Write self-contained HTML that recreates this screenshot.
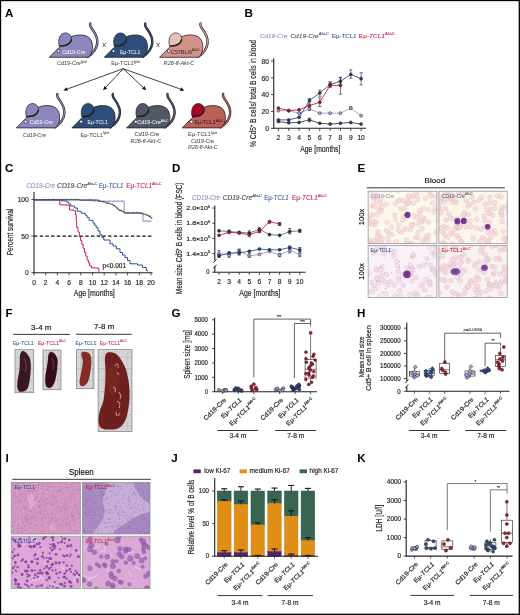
<!DOCTYPE html><html><head><meta charset="utf-8"><title>Figure</title><style>html,body{margin:0;padding:0;background:#fff;width:520px;height:615px;overflow:hidden}svg{will-change:transform}svg text{font-family:"Liberation Sans", sans-serif}</style></head><body><svg width="520" height="615" viewBox="0 0 520 615" style="font-family:'Liberation Sans', sans-serif;display:block"><defs><clipPath id="e0"><rect x="368.10" y="191.20" width="68.80" height="52.30"/></clipPath><clipPath id="e1"><rect x="438.90" y="191.20" width="68.30" height="52.30"/></clipPath><clipPath id="e2"><rect x="368.10" y="245.40" width="68.80" height="52.10"/></clipPath><clipPath id="e3"><rect x="438.90" y="245.40" width="68.30" height="52.10"/></clipPath><pattern id="grid" x="0" y="0" width="11.5" height="11.5" patternUnits="userSpaceOnUse"><rect width="11.5" height="11.5" fill="#e2e2e2"/><path d="M2.3,0 V11.5 M4.6,0 V11.5 M6.9,0 V11.5 M9.2,0 V11.5 M0,2.3 H11.5 M0,4.6 H11.5 M0,6.9 H11.5 M0,9.2 H11.5" stroke="#a8a8a8" stroke-width="0.32"/><path d="M0,0 H11.5 M0,0 V11.5" stroke="#7a7a7a" stroke-width="0.6"/></pattern><clipPath id="h0"><rect x="11.20" y="482.30" width="69.30" height="51.70"/></clipPath><clipPath id="h1"><rect x="82.30" y="482.30" width="67.70" height="51.70"/></clipPath><clipPath id="h2"><rect x="11.20" y="536.20" width="69.30" height="52.40"/></clipPath><clipPath id="h3"><rect x="82.30" y="536.20" width="67.70" height="52.40"/></clipPath></defs><rect x="0" y="0" width="520" height="615" fill="#fff"/><text transform="translate(5.00,16.50)" font-size="11.6" text-anchor="start" fill="#000" font-weight="bold" font-style="normal" >A</text>
<text transform="translate(244.60,17.00)" font-size="11.6" text-anchor="start" fill="#000" font-weight="bold" font-style="normal" >B</text>
<text transform="translate(5.00,172.30)" font-size="11.6" text-anchor="start" fill="#000" font-weight="bold" font-style="normal" >C</text>
<text transform="translate(172.00,172.20)" font-size="11.6" text-anchor="start" fill="#000" font-weight="bold" font-style="normal" >D</text>
<text transform="translate(357.40,172.20)" font-size="11.6" text-anchor="start" fill="#000" font-weight="bold" font-style="normal" >E</text>
<text transform="translate(5.60,316.80)" font-size="11.6" text-anchor="start" fill="#000" font-weight="bold" font-style="normal" >F</text>
<text transform="translate(171.50,316.80)" font-size="11.6" text-anchor="start" fill="#000" font-weight="bold" font-style="normal" >G</text>
<text transform="translate(357.00,316.80)" font-size="11.6" text-anchor="start" fill="#000" font-weight="bold" font-style="normal" >H</text>
<text transform="translate(5.60,461.80)" font-size="11.6" text-anchor="start" fill="#000" font-weight="bold" font-style="normal" >I</text>
<text transform="translate(171.30,461.90)" font-size="11.6" text-anchor="start" fill="#000" font-weight="bold" font-style="normal" >J</text>
<text transform="translate(357.20,461.90)" font-size="11.6" text-anchor="start" fill="#000" font-weight="bold" font-style="normal" >K</text>
<g transform="translate(49.3,57.3)"><path d="M38.5,-0.6 C43.5,-3.8 47.4,-8.5 48.0,-14.5 C48.4,-20 45.6,-24.5 43.0,-28.0 C41.2,-30.4 40.2,-32.0 41.0,-33.8" fill="none" stroke="#231f20" stroke-width="2.4" stroke-linecap="round"/><path d="M38.5,-0.6 C43.5,-3.8 47.4,-8.5 48.0,-14.5 C48.4,-20 45.6,-24.5 43.0,-28.0 C41.2,-30.4 40.2,-32.0 41.0,-33.8" fill="none" stroke="#8b86bb" stroke-width="1.25" stroke-linecap="round"/><path d="M0,0 L9.5,-9.6 L15,-15 L21.5,-20.3 C24.5,-21.8 28,-22.4 31.5,-22.3 C35.5,-22.2 38.5,-21 40.6,-18.8 C42.6,-16.5 43.3,-13 43.2,-9.5 C43.0,-5.5 41.5,-2.2 39.0,0 Z" fill="#8b86bb" stroke="#231f20" stroke-width="0.8" stroke-linejoin="round"/><path d="M10.0,-11.2 C8.4,-15.5 9.6,-24.2 16,-24.4 C20.6,-24.4 22.4,-20.5 22.0,-17.2 C21.4,-13 17.0,-11 10.0,-11.2 Z" fill="#8b86bb" stroke="#231f20" stroke-width="0.7"/><path d="M10.6,-11.4 C15.5,-11.2 20.6,-12.6 22.0,-17.6" fill="none" stroke="#231f20" stroke-width="1.4" stroke-linecap="round"/><circle cx="9.2" cy="-6.2" r="1.45" fill="#fff" stroke="#231f20" stroke-width="0.6"/><text x="13.0" y="-3.6" font-size="6.0" fill="#f2f0f8" stroke="#f2f0f8" stroke-width="0.06" textLength="23.1" lengthAdjust="spacingAndGlyphs">Cd19-Cre</text></g>
<g transform="translate(104.3,57.3)"><path d="M38.5,-0.6 C43.5,-3.8 47.4,-8.5 48.0,-14.5 C48.4,-20 45.6,-24.5 43.0,-28.0 C41.2,-30.4 40.2,-32.0 41.0,-33.8" fill="none" stroke="#231f20" stroke-width="2.4" stroke-linecap="round"/><path d="M38.5,-0.6 C43.5,-3.8 47.4,-8.5 48.0,-14.5 C48.4,-20 45.6,-24.5 43.0,-28.0 C41.2,-30.4 40.2,-32.0 41.0,-33.8" fill="none" stroke="#2e4c7c" stroke-width="1.25" stroke-linecap="round"/><path d="M0,0 L9.5,-9.6 L15,-15 L21.5,-20.3 C24.5,-21.8 28,-22.4 31.5,-22.3 C35.5,-22.2 38.5,-21 40.6,-18.8 C42.6,-16.5 43.3,-13 43.2,-9.5 C43.0,-5.5 41.5,-2.2 39.0,0 Z" fill="#2e4c7c" stroke="#231f20" stroke-width="0.8" stroke-linejoin="round"/><path d="M10.0,-11.2 C8.4,-15.5 9.6,-24.2 16,-24.4 C20.6,-24.4 22.4,-20.5 22.0,-17.2 C21.4,-13 17.0,-11 10.0,-11.2 Z" fill="#2e4c7c" stroke="#231f20" stroke-width="0.7"/><path d="M10.6,-11.4 C15.5,-11.2 20.6,-12.6 22.0,-17.6" fill="none" stroke="#231f20" stroke-width="1.4" stroke-linecap="round"/><circle cx="9.2" cy="-6.2" r="1.45" fill="#fff" stroke="#231f20" stroke-width="0.6"/><text x="15.7" y="-3.6" font-size="6.0" fill="#f2f0f8" stroke="#f2f0f8" stroke-width="0.06" textLength="20.2" lengthAdjust="spacingAndGlyphs">Eμ-TCL1</text></g>
<g transform="translate(159.6,57.3)"><path d="M38.5,-0.6 C43.5,-3.8 47.4,-8.5 48.0,-14.5 C48.4,-20 45.6,-24.5 43.0,-28.0 C41.2,-30.4 40.2,-32.0 41.0,-33.8" fill="none" stroke="#231f20" stroke-width="2.4" stroke-linecap="round"/><path d="M38.5,-0.6 C43.5,-3.8 47.4,-8.5 48.0,-14.5 C48.4,-20 45.6,-24.5 43.0,-28.0 C41.2,-30.4 40.2,-32.0 41.0,-33.8" fill="none" stroke="#d29488" stroke-width="1.25" stroke-linecap="round"/><path d="M0,0 L9.5,-9.6 L15,-15 L21.5,-20.3 C24.5,-21.8 28,-22.4 31.5,-22.3 C35.5,-22.2 38.5,-21 40.6,-18.8 C42.6,-16.5 43.3,-13 43.2,-9.5 C43.0,-5.5 41.5,-2.2 39.0,0 Z" fill="#d29488" stroke="#231f20" stroke-width="0.8" stroke-linejoin="round"/><path d="M10.0,-11.2 C8.4,-15.5 9.6,-24.2 16,-24.4 C20.6,-24.4 22.4,-20.5 22.0,-17.2 C21.4,-13 17.0,-11 10.0,-11.2 Z" fill="#e6c2b9" stroke="#231f20" stroke-width="0.7"/><path d="M10.6,-11.4 C15.5,-11.2 20.6,-12.6 22.0,-17.6" fill="none" stroke="#231f20" stroke-width="1.4" stroke-linecap="round"/><circle cx="9.2" cy="-6.2" r="1.45" fill="#fff" stroke="#231f20" stroke-width="0.6"/><text x="11.2" y="-3.6" font-size="6.0" fill="#3a3030" stroke="#3a3030" stroke-width="0.06" textLength="29.0" lengthAdjust="spacingAndGlyphs">C57BL/6<tspan font-size="3.4" dy="-2.4">Akt-C</tspan></text></g>
<g transform="translate(16.4,127.9)"><path d="M38.5,-0.6 C43.5,-3.8 47.4,-8.5 48.0,-14.5 C48.4,-20 45.6,-24.5 43.0,-28.0 C41.2,-30.4 40.2,-32.0 41.0,-33.8" fill="none" stroke="#231f20" stroke-width="2.4" stroke-linecap="round"/><path d="M38.5,-0.6 C43.5,-3.8 47.4,-8.5 48.0,-14.5 C48.4,-20 45.6,-24.5 43.0,-28.0 C41.2,-30.4 40.2,-32.0 41.0,-33.8" fill="none" stroke="#8b86bb" stroke-width="1.25" stroke-linecap="round"/><path d="M0,0 L9.5,-9.6 L15,-15 L21.5,-20.3 C24.5,-21.8 28,-22.4 31.5,-22.3 C35.5,-22.2 38.5,-21 40.6,-18.8 C42.6,-16.5 43.3,-13 43.2,-9.5 C43.0,-5.5 41.5,-2.2 39.0,0 Z" fill="#8b86bb" stroke="#231f20" stroke-width="0.8" stroke-linejoin="round"/><path d="M10.0,-11.2 C8.4,-15.5 9.6,-24.2 16,-24.4 C20.6,-24.4 22.4,-20.5 22.0,-17.2 C21.4,-13 17.0,-11 10.0,-11.2 Z" fill="#8b86bb" stroke="#231f20" stroke-width="0.7"/><path d="M10.6,-11.4 C15.5,-11.2 20.6,-12.6 22.0,-17.6" fill="none" stroke="#231f20" stroke-width="1.4" stroke-linecap="round"/><circle cx="9.2" cy="-6.2" r="1.45" fill="#fff" stroke="#231f20" stroke-width="0.6"/><text x="13.4" y="-3.6" font-size="6.0" fill="#f2f0f8" stroke="#f2f0f8" stroke-width="0.06" textLength="23.1" lengthAdjust="spacingAndGlyphs">Cd19-Cre</text></g>
<g transform="translate(71.9,127.9)"><path d="M38.5,-0.6 C43.5,-3.8 47.4,-8.5 48.0,-14.5 C48.4,-20 45.6,-24.5 43.0,-28.0 C41.2,-30.4 40.2,-32.0 41.0,-33.8" fill="none" stroke="#231f20" stroke-width="2.4" stroke-linecap="round"/><path d="M38.5,-0.6 C43.5,-3.8 47.4,-8.5 48.0,-14.5 C48.4,-20 45.6,-24.5 43.0,-28.0 C41.2,-30.4 40.2,-32.0 41.0,-33.8" fill="none" stroke="#2e4c7c" stroke-width="1.25" stroke-linecap="round"/><path d="M0,0 L9.5,-9.6 L15,-15 L21.5,-20.3 C24.5,-21.8 28,-22.4 31.5,-22.3 C35.5,-22.2 38.5,-21 40.6,-18.8 C42.6,-16.5 43.3,-13 43.2,-9.5 C43.0,-5.5 41.5,-2.2 39.0,0 Z" fill="#2e4c7c" stroke="#231f20" stroke-width="0.8" stroke-linejoin="round"/><path d="M10.0,-11.2 C8.4,-15.5 9.6,-24.2 16,-24.4 C20.6,-24.4 22.4,-20.5 22.0,-17.2 C21.4,-13 17.0,-11 10.0,-11.2 Z" fill="#2e4c7c" stroke="#231f20" stroke-width="0.7"/><path d="M10.6,-11.4 C15.5,-11.2 20.6,-12.6 22.0,-17.6" fill="none" stroke="#231f20" stroke-width="1.4" stroke-linecap="round"/><circle cx="9.2" cy="-6.2" r="1.45" fill="#fff" stroke="#231f20" stroke-width="0.6"/><text x="15.7" y="-3.6" font-size="6.0" fill="#f2f0f8" stroke="#f2f0f8" stroke-width="0.06" textLength="20.2" lengthAdjust="spacingAndGlyphs">Eμ-TCL1</text></g>
<g transform="translate(126.6,127.9)"><path d="M38.5,-0.6 C43.5,-3.8 47.4,-8.5 48.0,-14.5 C48.4,-20 45.6,-24.5 43.0,-28.0 C41.2,-30.4 40.2,-32.0 41.0,-33.8" fill="none" stroke="#231f20" stroke-width="2.4" stroke-linecap="round"/><path d="M38.5,-0.6 C43.5,-3.8 47.4,-8.5 48.0,-14.5 C48.4,-20 45.6,-24.5 43.0,-28.0 C41.2,-30.4 40.2,-32.0 41.0,-33.8" fill="none" stroke="#515868" stroke-width="1.25" stroke-linecap="round"/><path d="M0,0 L9.5,-9.6 L15,-15 L21.5,-20.3 C24.5,-21.8 28,-22.4 31.5,-22.3 C35.5,-22.2 38.5,-21 40.6,-18.8 C42.6,-16.5 43.3,-13 43.2,-9.5 C43.0,-5.5 41.5,-2.2 39.0,0 Z" fill="#515868" stroke="#231f20" stroke-width="0.8" stroke-linejoin="round"/><path d="M10.0,-11.2 C8.4,-15.5 9.6,-24.2 16,-24.4 C20.6,-24.4 22.4,-20.5 22.0,-17.2 C21.4,-13 17.0,-11 10.0,-11.2 Z" fill="#515868" stroke="#231f20" stroke-width="0.7"/><path d="M10.6,-11.4 C15.5,-11.2 20.6,-12.6 22.0,-17.6" fill="none" stroke="#231f20" stroke-width="1.4" stroke-linecap="round"/><circle cx="9.2" cy="-6.2" r="1.45" fill="#fff" stroke="#231f20" stroke-width="0.6"/><text x="10.7" y="-3.6" font-size="6.0" fill="#f2f0f8" stroke="#f2f0f8" stroke-width="0.06" textLength="31.2" lengthAdjust="spacingAndGlyphs">Cd19-Cre<tspan font-size="3.4" dy="-2.4">Akt-C</tspan></text></g>
<g transform="translate(182.2,127.9)"><path d="M38.5,-0.6 C43.5,-3.8 47.4,-8.5 48.0,-14.5 C48.4,-20 45.6,-24.5 43.0,-28.0 C41.2,-30.4 40.2,-32.0 41.0,-33.8" fill="none" stroke="#231f20" stroke-width="2.4" stroke-linecap="round"/><path d="M38.5,-0.6 C43.5,-3.8 47.4,-8.5 48.0,-14.5 C48.4,-20 45.6,-24.5 43.0,-28.0 C41.2,-30.4 40.2,-32.0 41.0,-33.8" fill="none" stroke="#bb6058" stroke-width="1.25" stroke-linecap="round"/><path d="M0,0 L9.5,-9.6 L15,-15 L21.5,-20.3 C24.5,-21.8 28,-22.4 31.5,-22.3 C35.5,-22.2 38.5,-21 40.6,-18.8 C42.6,-16.5 43.3,-13 43.2,-9.5 C43.0,-5.5 41.5,-2.2 39.0,0 Z" fill="#bb6058" stroke="#231f20" stroke-width="0.8" stroke-linejoin="round"/><path d="M10.0,-11.2 C8.4,-15.5 9.6,-24.2 16,-24.4 C20.6,-24.4 22.4,-20.5 22.0,-17.2 C21.4,-13 17.0,-11 10.0,-11.2 Z" fill="#a80428" stroke="#231f20" stroke-width="0.7"/><path d="M10.6,-11.4 C15.5,-11.2 20.6,-12.6 22.0,-17.6" fill="none" stroke="#231f20" stroke-width="1.4" stroke-linecap="round"/><circle cx="9.2" cy="-6.2" r="1.45" fill="#fff" stroke="#231f20" stroke-width="0.6"/><text x="12.2" y="-3.6" font-size="6.0" fill="#3a2020" stroke="#3a2020" stroke-width="0.06" textLength="28.9" lengthAdjust="spacingAndGlyphs">Eμ-TCL1<tspan font-size="3.4" dy="-2.4">Akt-C</tspan></text></g>
<text transform="translate(104.30,46.70)" font-size="7" text-anchor="middle" fill="#4a4a4a" font-weight="normal" font-style="normal" textLength="3.90" lengthAdjust="spacingAndGlyphs" stroke="#4a4a4a" stroke-width="0.05" >x</text>
<text transform="translate(158.00,46.70)" font-size="7" text-anchor="middle" fill="#4a4a4a" font-weight="normal" font-style="normal" textLength="3.90" lengthAdjust="spacingAndGlyphs" stroke="#4a4a4a" stroke-width="0.05" >x</text>
<text transform="translate(57.00,65.00)" font-size="5.6" text-anchor="start" fill="#4a4a4a" font-weight="normal" font-style="normal" textLength="30.00" lengthAdjust="spacingAndGlyphs" stroke="#4a4a4a" stroke-width="0.05" >Cd19-Cre<tspan font-size="3" dy="-2.4">fg/wt</tspan></text>
<text transform="translate(111.30,65.00)" font-size="5.6" text-anchor="start" fill="#4a4a4a" font-weight="normal" font-style="normal" textLength="28.70" lengthAdjust="spacingAndGlyphs" stroke="#4a4a4a" stroke-width="0.05" >Eμ-TCL1<tspan font-size="3" dy="-2.4">fg/wt</tspan></text>
<text transform="translate(179.00,65.00)" font-size="5.6" text-anchor="middle" fill="#4a4a4a" font-weight="normal" font-style="italic" stroke="#4a4a4a" stroke-width="0.05" >R26-fl-Akt-C</text>
<text transform="translate(23.10,136.60)" font-size="5.6" text-anchor="start" fill="#4a4a4a" font-weight="normal" font-style="italic" textLength="22.70" lengthAdjust="spacingAndGlyphs" stroke="#4a4a4a" stroke-width="0.05" >Cd19-Cre</text>
<text transform="translate(80.40,136.60)" font-size="5.6" text-anchor="start" fill="#4a4a4a" font-weight="normal" font-style="normal" textLength="28.80" lengthAdjust="spacingAndGlyphs" stroke="#4a4a4a" stroke-width="0.05" >Eμ-TCL1<tspan font-size="3" dy="-2.4">fg/wt</tspan></text>
<text transform="translate(134.40,136.20)" font-size="5.6" text-anchor="start" fill="#4a4a4a" font-weight="normal" font-style="italic" textLength="24.70" lengthAdjust="spacingAndGlyphs" stroke="#4a4a4a" stroke-width="0.05" >Cd19-Cre</text>
<text transform="translate(130.60,142.80)" font-size="5.6" text-anchor="start" fill="#4a4a4a" font-weight="normal" font-style="italic" textLength="30.70" lengthAdjust="spacingAndGlyphs" stroke="#4a4a4a" stroke-width="0.05" >R26-fl-Akt-C</text>
<text transform="translate(188.10,136.20)" font-size="5.6" text-anchor="start" fill="#4a4a4a" font-weight="normal" font-style="normal" textLength="29.20" lengthAdjust="spacingAndGlyphs" stroke="#4a4a4a" stroke-width="0.05" >Eμ-TCL1<tspan font-size="3" dy="-2.4">fg/wt</tspan></text>
<text transform="translate(190.90,142.80)" font-size="5.6" text-anchor="start" fill="#4a4a4a" font-weight="normal" font-style="italic" textLength="23.20" lengthAdjust="spacingAndGlyphs" stroke="#4a4a4a" stroke-width="0.05" >Cd19-Cre</text>
<text transform="translate(188.10,149.20)" font-size="5.6" text-anchor="start" fill="#4a4a4a" font-weight="normal" font-style="italic" textLength="29.60" lengthAdjust="spacingAndGlyphs" stroke="#4a4a4a" stroke-width="0.05" >R26-fl-Akt-C</text>
<line x1="123.20" y1="68.70" x2="67.25" y2="89.06" stroke="#111" stroke-width="0.8" />
<polygon points="63.30,90.50 66.60,87.28 67.90,90.85" fill="#111"/>
<line x1="123.20" y1="68.70" x2="105.87" y2="87.23" stroke="#111" stroke-width="0.8" />
<polygon points="103.00,90.30 104.48,85.93 107.26,88.53" fill="#111"/>
<line x1="123.20" y1="68.70" x2="143.23" y2="87.43" stroke="#111" stroke-width="0.8" />
<polygon points="146.30,90.30 141.93,88.82 144.53,86.04" fill="#111"/>
<line x1="123.20" y1="68.70" x2="180.44" y2="89.09" stroke="#111" stroke-width="0.8" />
<polygon points="184.40,90.50 179.81,90.88 181.08,87.30" fill="#111"/>
<line x1="273.75" y1="58.30" x2="273.75" y2="128.70" stroke="#231f20" stroke-width="1.1" />
<line x1="273.35" y1="128.30" x2="366.00" y2="128.30" stroke="#231f20" stroke-width="1.1" />
<line x1="271.00" y1="128.30" x2="273.75" y2="128.30" stroke="#231f20" stroke-width="0.8" />
<text transform="translate(269.00,131.00) scale(0.88,1)" font-size="7.6" text-anchor="end" fill="#231f20" font-weight="normal" font-style="normal" stroke="#231f20" stroke-width="0.18" >0</text>
<line x1="271.00" y1="111.47" x2="273.75" y2="111.47" stroke="#231f20" stroke-width="0.8" />
<text transform="translate(269.00,114.17) scale(0.88,1)" font-size="7.6" text-anchor="end" fill="#231f20" font-weight="normal" font-style="normal" stroke="#231f20" stroke-width="0.18" >20</text>
<line x1="271.00" y1="94.65" x2="273.75" y2="94.65" stroke="#231f20" stroke-width="0.8" />
<text transform="translate(269.00,97.35) scale(0.88,1)" font-size="7.6" text-anchor="end" fill="#231f20" font-weight="normal" font-style="normal" stroke="#231f20" stroke-width="0.18" >40</text>
<line x1="271.00" y1="77.82" x2="273.75" y2="77.82" stroke="#231f20" stroke-width="0.8" />
<text transform="translate(269.00,80.52) scale(0.88,1)" font-size="7.6" text-anchor="end" fill="#231f20" font-weight="normal" font-style="normal" stroke="#231f20" stroke-width="0.18" >60</text>
<line x1="271.00" y1="61.00" x2="273.75" y2="61.00" stroke="#231f20" stroke-width="0.8" />
<text transform="translate(269.00,63.70) scale(0.88,1)" font-size="7.6" text-anchor="end" fill="#231f20" font-weight="normal" font-style="normal" stroke="#231f20" stroke-width="0.18" >80</text>
<line x1="278.40" y1="128.30" x2="278.40" y2="131.00" stroke="#231f20" stroke-width="0.8" />
<text transform="translate(278.40,139.80) scale(0.88,1)" font-size="7.6" text-anchor="middle" fill="#231f20" font-weight="normal" font-style="normal" stroke="#231f20" stroke-width="0.18" >2</text>
<line x1="288.74" y1="128.30" x2="288.74" y2="131.00" stroke="#231f20" stroke-width="0.8" />
<text transform="translate(288.74,139.80) scale(0.88,1)" font-size="7.6" text-anchor="middle" fill="#231f20" font-weight="normal" font-style="normal" stroke="#231f20" stroke-width="0.18" >3</text>
<line x1="299.08" y1="128.30" x2="299.08" y2="131.00" stroke="#231f20" stroke-width="0.8" />
<text transform="translate(299.08,139.80) scale(0.88,1)" font-size="7.6" text-anchor="middle" fill="#231f20" font-weight="normal" font-style="normal" stroke="#231f20" stroke-width="0.18" >4</text>
<line x1="309.42" y1="128.30" x2="309.42" y2="131.00" stroke="#231f20" stroke-width="0.8" />
<text transform="translate(309.42,139.80) scale(0.88,1)" font-size="7.6" text-anchor="middle" fill="#231f20" font-weight="normal" font-style="normal" stroke="#231f20" stroke-width="0.18" >5</text>
<line x1="319.76" y1="128.30" x2="319.76" y2="131.00" stroke="#231f20" stroke-width="0.8" />
<text transform="translate(319.76,139.80) scale(0.88,1)" font-size="7.6" text-anchor="middle" fill="#231f20" font-weight="normal" font-style="normal" stroke="#231f20" stroke-width="0.18" >6</text>
<line x1="330.10" y1="128.30" x2="330.10" y2="131.00" stroke="#231f20" stroke-width="0.8" />
<text transform="translate(330.10,139.80) scale(0.88,1)" font-size="7.6" text-anchor="middle" fill="#231f20" font-weight="normal" font-style="normal" stroke="#231f20" stroke-width="0.18" >7</text>
<line x1="340.44" y1="128.30" x2="340.44" y2="131.00" stroke="#231f20" stroke-width="0.8" />
<text transform="translate(340.44,139.80) scale(0.88,1)" font-size="7.6" text-anchor="middle" fill="#231f20" font-weight="normal" font-style="normal" stroke="#231f20" stroke-width="0.18" >8</text>
<line x1="350.78" y1="128.30" x2="350.78" y2="131.00" stroke="#231f20" stroke-width="0.8" />
<text transform="translate(350.78,139.80) scale(0.88,1)" font-size="7.6" text-anchor="middle" fill="#231f20" font-weight="normal" font-style="normal" stroke="#231f20" stroke-width="0.18" >9</text>
<line x1="361.12" y1="128.30" x2="361.12" y2="131.00" stroke="#231f20" stroke-width="0.8" />
<text transform="translate(361.12,139.80) scale(0.88,1)" font-size="7.6" text-anchor="middle" fill="#231f20" font-weight="normal" font-style="normal" stroke="#231f20" stroke-width="0.18" >10</text>
<text transform="translate(320.30,151.50)" font-size="8.4" text-anchor="middle" fill="#231f20" font-weight="normal" font-style="normal" textLength="40.20" lengthAdjust="spacingAndGlyphs" stroke="#231f20" stroke-width="0.18" >Age [months]</text>
<text transform="translate(256.20,93.50) rotate(-90)" font-size="8.6" text-anchor="middle" fill="#231f20" font-weight="normal" font-style="normal" textLength="107.00" lengthAdjust="spacingAndGlyphs" stroke="#231f20" stroke-width="0.18" >% Cd5<tspan font-size="4.5" dy="-3">+</tspan><tspan dy="3"> B cells/ total B cells in blood</tspan></text>
<text transform="translate(259.90,37.50)" font-size="6.2" text-anchor="start" fill="#8f89c6" font-weight="normal" font-style="italic" textLength="27.40" lengthAdjust="spacingAndGlyphs" stroke="#8f89c6" stroke-width="0.08" >Cd19-Cre</text>
<text transform="translate(290.40,37.50)" font-size="6.2" text-anchor="start" fill="#4a4f5e" font-weight="normal" font-style="italic" textLength="38.40" lengthAdjust="spacingAndGlyphs" stroke="#4a4f5e" stroke-width="0.08" >Cd19-Cre<tspan font-size="3.8" dy="-2.6">Akt-C</tspan></text>
<text transform="translate(331.90,37.50)" font-size="6.2" text-anchor="start" fill="#2e5597" font-weight="normal" font-style="normal" textLength="24.60" lengthAdjust="spacingAndGlyphs" stroke="#2e5597" stroke-width="0.08" >Eμ-<tspan font-style="italic">TCL1</tspan></text>
<text transform="translate(358.80,37.50)" font-size="6.2" text-anchor="start" fill="#c31f3d" font-weight="normal" font-style="normal" textLength="36.20" lengthAdjust="spacingAndGlyphs" stroke="#c31f3d" stroke-width="0.08" >Eμ-<tspan font-style="italic">TCL1</tspan><tspan font-size="3.8" dy="-2.6">Akt-C</tspan></text>
<line x1="309.42" y1="121.99" x2="309.42" y2="118.20" stroke="#231f20" stroke-width="0.6" />
<line x1="307.82" y1="121.99" x2="311.02" y2="121.99" stroke="#231f20" stroke-width="0.6" />
<line x1="307.82" y1="118.20" x2="311.02" y2="118.20" stroke="#231f20" stroke-width="0.6" />
<polyline points="278.40,121.57 288.74,122.83 299.08,122.41 309.42,119.89 319.76,123.25 330.10,124.09 340.44,123.25 350.78,122.41 361.12,124.09" fill="none" stroke="#3b3f4c" stroke-width="0.9" stroke-linejoin="round" />
<circle cx="278.40" cy="121.57" r="1.5" fill="#3d4250" stroke="#231f20" stroke-width="0.55"/>
<circle cx="288.74" cy="122.83" r="1.5" fill="#3d4250" stroke="#231f20" stroke-width="0.55"/>
<circle cx="299.08" cy="122.41" r="1.5" fill="#3d4250" stroke="#231f20" stroke-width="0.55"/>
<circle cx="309.42" cy="119.89" r="1.5" fill="#3d4250" stroke="#231f20" stroke-width="0.55"/>
<circle cx="319.76" cy="123.25" r="1.5" fill="#3d4250" stroke="#231f20" stroke-width="0.55"/>
<circle cx="330.10" cy="124.09" r="1.5" fill="#3d4250" stroke="#231f20" stroke-width="0.55"/>
<circle cx="340.44" cy="123.25" r="1.5" fill="#3d4250" stroke="#231f20" stroke-width="0.55"/>
<circle cx="350.78" cy="122.41" r="1.5" fill="#3d4250" stroke="#231f20" stroke-width="0.55"/>
<circle cx="361.12" cy="124.09" r="1.5" fill="#3d4250" stroke="#231f20" stroke-width="0.55"/>
<line x1="309.42" y1="110.63" x2="309.42" y2="107.27" stroke="#231f20" stroke-width="0.6" />
<line x1="307.82" y1="110.63" x2="311.02" y2="110.63" stroke="#231f20" stroke-width="0.6" />
<line x1="307.82" y1="107.27" x2="311.02" y2="107.27" stroke="#231f20" stroke-width="0.6" />
<line x1="350.78" y1="109.37" x2="350.78" y2="106.85" stroke="#231f20" stroke-width="0.6" />
<line x1="349.18" y1="109.37" x2="352.38" y2="109.37" stroke="#231f20" stroke-width="0.6" />
<line x1="349.18" y1="106.85" x2="352.38" y2="106.85" stroke="#231f20" stroke-width="0.6" />
<polyline points="278.40,110.63 288.74,110.63 299.08,113.16 309.42,108.95 319.76,113.16 330.10,113.16 340.44,113.16 350.78,108.11 361.12,115.68" fill="none" stroke="#9f99d0" stroke-width="0.9" stroke-linejoin="round" />
<circle cx="278.40" cy="110.63" r="1.5" fill="#b8b2e2" stroke="#231f20" stroke-width="0.55"/>
<circle cx="288.74" cy="110.63" r="1.5" fill="#b8b2e2" stroke="#231f20" stroke-width="0.55"/>
<circle cx="299.08" cy="113.16" r="1.5" fill="#b8b2e2" stroke="#231f20" stroke-width="0.55"/>
<circle cx="309.42" cy="108.95" r="1.5" fill="#b8b2e2" stroke="#231f20" stroke-width="0.55"/>
<circle cx="319.76" cy="113.16" r="1.5" fill="#b8b2e2" stroke="#231f20" stroke-width="0.55"/>
<circle cx="330.10" cy="113.16" r="1.5" fill="#b8b2e2" stroke="#231f20" stroke-width="0.55"/>
<circle cx="340.44" cy="113.16" r="1.5" fill="#b8b2e2" stroke="#231f20" stroke-width="0.55"/>
<circle cx="350.78" cy="108.11" r="1.5" fill="#b8b2e2" stroke="#231f20" stroke-width="0.55"/>
<circle cx="361.12" cy="115.68" r="1.5" fill="#b8b2e2" stroke="#231f20" stroke-width="0.55"/>
<line x1="309.42" y1="103.06" x2="309.42" y2="98.43" stroke="#231f20" stroke-width="0.6" />
<line x1="307.82" y1="103.06" x2="311.02" y2="103.06" stroke="#231f20" stroke-width="0.6" />
<line x1="307.82" y1="98.43" x2="311.02" y2="98.43" stroke="#231f20" stroke-width="0.6" />
<line x1="319.76" y1="96.33" x2="319.76" y2="90.02" stroke="#231f20" stroke-width="0.6" />
<line x1="318.16" y1="96.33" x2="321.36" y2="96.33" stroke="#231f20" stroke-width="0.6" />
<line x1="318.16" y1="90.02" x2="321.36" y2="90.02" stroke="#231f20" stroke-width="0.6" />
<line x1="330.10" y1="87.08" x2="330.10" y2="81.61" stroke="#231f20" stroke-width="0.6" />
<line x1="328.50" y1="87.08" x2="331.70" y2="87.08" stroke="#231f20" stroke-width="0.6" />
<line x1="328.50" y1="81.61" x2="331.70" y2="81.61" stroke="#231f20" stroke-width="0.6" />
<line x1="340.44" y1="84.13" x2="340.44" y2="77.40" stroke="#231f20" stroke-width="0.6" />
<line x1="338.84" y1="84.13" x2="342.04" y2="84.13" stroke="#231f20" stroke-width="0.6" />
<line x1="338.84" y1="77.40" x2="342.04" y2="77.40" stroke="#231f20" stroke-width="0.6" />
<line x1="350.78" y1="78.24" x2="350.78" y2="69.83" stroke="#231f20" stroke-width="0.6" />
<line x1="349.18" y1="78.24" x2="352.38" y2="78.24" stroke="#231f20" stroke-width="0.6" />
<line x1="349.18" y1="69.83" x2="352.38" y2="69.83" stroke="#231f20" stroke-width="0.6" />
<line x1="361.12" y1="84.97" x2="361.12" y2="72.77" stroke="#231f20" stroke-width="0.6" />
<line x1="359.52" y1="84.97" x2="362.72" y2="84.97" stroke="#231f20" stroke-width="0.6" />
<line x1="359.52" y1="72.77" x2="362.72" y2="72.77" stroke="#231f20" stroke-width="0.6" />
<polyline points="278.40,119.89 288.74,119.89 299.08,117.36 309.42,100.54 319.76,92.97 330.10,84.55 340.44,81.19 350.78,74.46 361.12,78.66" fill="none" stroke="#2e5597" stroke-width="0.9" stroke-linejoin="round" />
<circle cx="278.40" cy="119.89" r="1.5" fill="#243f73" stroke="#231f20" stroke-width="0.55"/>
<circle cx="288.74" cy="119.89" r="1.5" fill="#243f73" stroke="#231f20" stroke-width="0.55"/>
<circle cx="299.08" cy="117.36" r="1.5" fill="#243f73" stroke="#231f20" stroke-width="0.55"/>
<circle cx="309.42" cy="100.54" r="1.5" fill="#243f73" stroke="#231f20" stroke-width="0.55"/>
<circle cx="319.76" cy="92.97" r="1.5" fill="#243f73" stroke="#231f20" stroke-width="0.55"/>
<circle cx="330.10" cy="84.55" r="1.5" fill="#243f73" stroke="#231f20" stroke-width="0.55"/>
<circle cx="340.44" cy="81.19" r="1.5" fill="#243f73" stroke="#231f20" stroke-width="0.55"/>
<circle cx="350.78" cy="74.46" r="1.5" fill="#243f73" stroke="#231f20" stroke-width="0.55"/>
<circle cx="361.12" cy="78.66" r="1.5" fill="#243f73" stroke="#231f20" stroke-width="0.55"/>
<line x1="319.76" y1="106.43" x2="319.76" y2="98.01" stroke="#231f20" stroke-width="0.6" />
<line x1="318.16" y1="106.43" x2="321.36" y2="106.43" stroke="#231f20" stroke-width="0.6" />
<line x1="318.16" y1="98.01" x2="321.36" y2="98.01" stroke="#231f20" stroke-width="0.6" />
<line x1="330.10" y1="87.08" x2="330.10" y2="82.87" stroke="#231f20" stroke-width="0.6" />
<line x1="328.50" y1="87.08" x2="331.70" y2="87.08" stroke="#231f20" stroke-width="0.6" />
<line x1="328.50" y1="82.87" x2="331.70" y2="82.87" stroke="#231f20" stroke-width="0.6" />
<line x1="340.44" y1="94.23" x2="340.44" y2="77.82" stroke="#231f20" stroke-width="0.6" />
<line x1="338.84" y1="94.23" x2="342.04" y2="94.23" stroke="#231f20" stroke-width="0.6" />
<line x1="338.84" y1="77.82" x2="342.04" y2="77.82" stroke="#231f20" stroke-width="0.6" />
<polyline points="278.40,108.11 288.74,110.63 299.08,109.79 309.42,105.58 319.76,102.22 330.10,85.39 340.44,85.39" fill="none" stroke="#c31f3d" stroke-width="0.9" stroke-linejoin="round" />
<circle cx="278.40" cy="108.11" r="1.5" fill="#b8132f" stroke="#231f20" stroke-width="0.55"/>
<circle cx="288.74" cy="110.63" r="1.5" fill="#b8132f" stroke="#231f20" stroke-width="0.55"/>
<circle cx="299.08" cy="109.79" r="1.5" fill="#b8132f" stroke="#231f20" stroke-width="0.55"/>
<circle cx="309.42" cy="105.58" r="1.5" fill="#b8132f" stroke="#231f20" stroke-width="0.55"/>
<circle cx="319.76" cy="102.22" r="1.5" fill="#b8132f" stroke="#231f20" stroke-width="0.55"/>
<circle cx="330.10" cy="85.39" r="1.5" fill="#b8132f" stroke="#231f20" stroke-width="0.55"/>
<circle cx="340.44" cy="85.39" r="1.5" fill="#b8132f" stroke="#231f20" stroke-width="0.55"/>
<line x1="34.00" y1="192.00" x2="34.00" y2="273.10" stroke="#231f20" stroke-width="1.1" />
<line x1="33.60" y1="272.70" x2="152.50" y2="272.70" stroke="#231f20" stroke-width="1.1" />
<line x1="31.30" y1="272.70" x2="34.00" y2="272.70" stroke="#231f20" stroke-width="0.8" />
<text transform="translate(28.80,275.40) scale(0.88,1)" font-size="7.6" text-anchor="end" fill="#231f20" font-weight="normal" font-style="normal" stroke="#231f20" stroke-width="0.18" >0</text>
<line x1="31.30" y1="236.05" x2="34.00" y2="236.05" stroke="#231f20" stroke-width="0.8" />
<text transform="translate(28.80,238.75) scale(0.88,1)" font-size="7.6" text-anchor="end" fill="#231f20" font-weight="normal" font-style="normal" stroke="#231f20" stroke-width="0.18" >50</text>
<line x1="31.30" y1="199.40" x2="34.00" y2="199.40" stroke="#231f20" stroke-width="0.8" />
<text transform="translate(28.80,202.10) scale(0.88,1)" font-size="7.6" text-anchor="end" fill="#231f20" font-weight="normal" font-style="normal" stroke="#231f20" stroke-width="0.18" >100</text>
<line x1="34.00" y1="272.70" x2="34.00" y2="275.40" stroke="#231f20" stroke-width="0.8" />
<text transform="translate(34.00,284.80) scale(0.88,1)" font-size="7.6" text-anchor="middle" fill="#231f20" font-weight="normal" font-style="normal" stroke="#231f20" stroke-width="0.18" >0</text>
<line x1="45.70" y1="272.70" x2="45.70" y2="275.40" stroke="#231f20" stroke-width="0.8" />
<text transform="translate(45.70,284.80) scale(0.88,1)" font-size="7.6" text-anchor="middle" fill="#231f20" font-weight="normal" font-style="normal" stroke="#231f20" stroke-width="0.18" >2</text>
<line x1="57.40" y1="272.70" x2="57.40" y2="275.40" stroke="#231f20" stroke-width="0.8" />
<text transform="translate(57.40,284.80) scale(0.88,1)" font-size="7.6" text-anchor="middle" fill="#231f20" font-weight="normal" font-style="normal" stroke="#231f20" stroke-width="0.18" >4</text>
<line x1="69.10" y1="272.70" x2="69.10" y2="275.40" stroke="#231f20" stroke-width="0.8" />
<text transform="translate(69.10,284.80) scale(0.88,1)" font-size="7.6" text-anchor="middle" fill="#231f20" font-weight="normal" font-style="normal" stroke="#231f20" stroke-width="0.18" >6</text>
<line x1="80.80" y1="272.70" x2="80.80" y2="275.40" stroke="#231f20" stroke-width="0.8" />
<text transform="translate(80.80,284.80) scale(0.88,1)" font-size="7.6" text-anchor="middle" fill="#231f20" font-weight="normal" font-style="normal" stroke="#231f20" stroke-width="0.18" >8</text>
<line x1="92.50" y1="272.70" x2="92.50" y2="275.40" stroke="#231f20" stroke-width="0.8" />
<text transform="translate(92.50,284.80) scale(0.88,1)" font-size="7.6" text-anchor="middle" fill="#231f20" font-weight="normal" font-style="normal" stroke="#231f20" stroke-width="0.18" >10</text>
<line x1="104.20" y1="272.70" x2="104.20" y2="275.40" stroke="#231f20" stroke-width="0.8" />
<text transform="translate(104.20,284.80) scale(0.88,1)" font-size="7.6" text-anchor="middle" fill="#231f20" font-weight="normal" font-style="normal" stroke="#231f20" stroke-width="0.18" >12</text>
<line x1="115.90" y1="272.70" x2="115.90" y2="275.40" stroke="#231f20" stroke-width="0.8" />
<text transform="translate(115.90,284.80) scale(0.88,1)" font-size="7.6" text-anchor="middle" fill="#231f20" font-weight="normal" font-style="normal" stroke="#231f20" stroke-width="0.18" >14</text>
<line x1="127.60" y1="272.70" x2="127.60" y2="275.40" stroke="#231f20" stroke-width="0.8" />
<text transform="translate(127.60,284.80) scale(0.88,1)" font-size="7.6" text-anchor="middle" fill="#231f20" font-weight="normal" font-style="normal" stroke="#231f20" stroke-width="0.18" >16</text>
<line x1="139.30" y1="272.70" x2="139.30" y2="275.40" stroke="#231f20" stroke-width="0.8" />
<text transform="translate(139.30,284.80) scale(0.88,1)" font-size="7.6" text-anchor="middle" fill="#231f20" font-weight="normal" font-style="normal" stroke="#231f20" stroke-width="0.18" >18</text>
<line x1="151.00" y1="272.70" x2="151.00" y2="275.40" stroke="#231f20" stroke-width="0.8" />
<text transform="translate(151.00,284.80) scale(0.88,1)" font-size="7.6" text-anchor="middle" fill="#231f20" font-weight="normal" font-style="normal" stroke="#231f20" stroke-width="0.18" >20</text>
<text transform="translate(94.30,295.60)" font-size="8.4" text-anchor="middle" fill="#231f20" font-weight="normal" font-style="normal" textLength="41.00" lengthAdjust="spacingAndGlyphs" stroke="#231f20" stroke-width="0.18" >Age [months]</text>
<text transform="translate(12.60,232.00) rotate(-90)" font-size="8.6" text-anchor="middle" fill="#231f20" font-weight="normal" font-style="normal" textLength="46.50" lengthAdjust="spacingAndGlyphs" stroke="#231f20" stroke-width="0.18" >Percent survival</text>
<line x1="34.00" y1="236.20" x2="151.50" y2="236.20" stroke="#111" stroke-width="1.2" stroke-dasharray="3.4,2.3"/>
<text transform="translate(102.50,268.20)" font-size="6.6" text-anchor="start" fill="#231f20" font-weight="normal" font-style="normal" textLength="23.50" lengthAdjust="spacingAndGlyphs" stroke="#231f20" stroke-width="0.18" >p&lt;0.001</text>
<text transform="translate(26.20,187.60)" font-size="6.4" text-anchor="start" fill="#8f89c6" font-weight="normal" font-style="italic" textLength="28.80" lengthAdjust="spacingAndGlyphs" stroke="#8f89c6" stroke-width="0.08" >CD19-Cre</text>
<text transform="translate(57.10,187.60)" font-size="6.4" text-anchor="start" fill="#3a3e4a" font-weight="normal" font-style="italic" textLength="40.20" lengthAdjust="spacingAndGlyphs" stroke="#3a3e4a" stroke-width="0.08" >CD19-Cre<tspan font-size="3.8" dy="-2.6">Akt-C</tspan></text>
<text transform="translate(99.00,187.60)" font-size="6.4" text-anchor="start" fill="#2e5597" font-weight="normal" font-style="normal" textLength="24.50" lengthAdjust="spacingAndGlyphs" stroke="#2e5597" stroke-width="0.08" >Eμ-<tspan font-style="italic">TCL1</tspan></text>
<text transform="translate(126.20,187.60)" font-size="6.4" text-anchor="start" fill="#c31f3d" font-weight="normal" font-style="normal" textLength="35.40" lengthAdjust="spacingAndGlyphs" stroke="#c31f3d" stroke-width="0.08" >Eμ-<tspan font-style="italic">TCL1</tspan><tspan font-size="3.8" dy="-2.6">Akt-C</tspan></text>
<polyline points="34.00,199.60 98.00,199.60 98.00,201.20 124.20,201.20 124.20,213.40 143.00,213.40 143.00,221.20 151.80,221.20" fill="none" stroke="#8078c4" stroke-width="0.85" stroke-linejoin="round" />
<polyline points="34.00,199.90 70.00,199.90 70.00,199.90 80.00,199.90 80.00,200.30 92.00,200.30 92.00,200.80 100.00,200.80 100.00,201.40 103.00,201.40 103.00,202.20 106.00,202.20 106.00,203.20 110.00,203.20 110.00,204.20 113.00,204.20 113.00,205.50 115.00,205.50 115.00,207.00 117.00,207.00 117.00,209.00 119.00,209.00 119.00,210.60 122.00,210.60 122.00,211.80 125.00,211.80 125.00,212.80 140.00,212.80 140.00,213.20 143.00,213.20 143.00,214.20 146.00,214.20 146.00,215.20 148.50,215.20 148.50,216.40 150.50,216.40 150.50,217.60 151.80,217.60 151.80,218.80" fill="none" stroke="#2a2a2a" stroke-width="0.8" stroke-linejoin="round" />
<line x1="44.00" y1="198.60" x2="44.00" y2="200.20" stroke="#2a2a2a" stroke-width="0.5" />
<line x1="49.00" y1="198.60" x2="49.00" y2="200.20" stroke="#2a2a2a" stroke-width="0.5" />
<line x1="53.00" y1="198.60" x2="53.00" y2="200.20" stroke="#2a2a2a" stroke-width="0.5" />
<line x1="57.00" y1="198.60" x2="57.00" y2="200.20" stroke="#2a2a2a" stroke-width="0.5" />
<line x1="61.00" y1="198.60" x2="61.00" y2="200.20" stroke="#2a2a2a" stroke-width="0.5" />
<line x1="64.00" y1="198.60" x2="64.00" y2="200.20" stroke="#2a2a2a" stroke-width="0.5" />
<line x1="67.00" y1="198.60" x2="67.00" y2="200.20" stroke="#2a2a2a" stroke-width="0.5" />
<line x1="71.00" y1="198.60" x2="71.00" y2="200.20" stroke="#2a2a2a" stroke-width="0.5" />
<line x1="75.00" y1="198.60" x2="75.00" y2="200.20" stroke="#2a2a2a" stroke-width="0.5" />
<line x1="78.00" y1="198.60" x2="78.00" y2="200.20" stroke="#2a2a2a" stroke-width="0.5" />
<line x1="84.00" y1="199.00" x2="84.00" y2="200.60" stroke="#2a2a2a" stroke-width="0.5" />
<line x1="88.00" y1="199.00" x2="88.00" y2="200.60" stroke="#2a2a2a" stroke-width="0.5" />
<line x1="91.00" y1="199.00" x2="91.00" y2="200.60" stroke="#2a2a2a" stroke-width="0.5" />
<line x1="95.00" y1="199.50" x2="95.00" y2="201.10" stroke="#2a2a2a" stroke-width="0.5" />
<line x1="99.00" y1="199.50" x2="99.00" y2="201.10" stroke="#2a2a2a" stroke-width="0.5" />
<line x1="108.00" y1="201.90" x2="108.00" y2="203.50" stroke="#2a2a2a" stroke-width="0.5" />
<line x1="121.00" y1="209.30" x2="121.00" y2="210.90" stroke="#2a2a2a" stroke-width="0.5" />
<line x1="128.00" y1="211.50" x2="128.00" y2="213.10" stroke="#2a2a2a" stroke-width="0.5" />
<line x1="133.00" y1="211.50" x2="133.00" y2="213.10" stroke="#2a2a2a" stroke-width="0.5" />
<line x1="137.00" y1="211.50" x2="137.00" y2="213.10" stroke="#2a2a2a" stroke-width="0.5" />
<line x1="141.00" y1="211.90" x2="141.00" y2="213.50" stroke="#2a2a2a" stroke-width="0.5" />
<line x1="147.00" y1="213.90" x2="147.00" y2="215.50" stroke="#2a2a2a" stroke-width="0.5" />
<line x1="150.00" y1="215.10" x2="150.00" y2="216.70" stroke="#2a2a2a" stroke-width="0.5" />
<line x1="104.00" y1="199.90" x2="104.00" y2="201.50" stroke="#8078c4" stroke-width="0.5" />
<line x1="109.00" y1="199.90" x2="109.00" y2="201.50" stroke="#8078c4" stroke-width="0.5" />
<line x1="114.00" y1="199.90" x2="114.00" y2="201.50" stroke="#8078c4" stroke-width="0.5" />
<line x1="118.00" y1="199.90" x2="118.00" y2="201.50" stroke="#8078c4" stroke-width="0.5" />
<line x1="122.00" y1="199.90" x2="122.00" y2="201.50" stroke="#8078c4" stroke-width="0.5" />
<line x1="128.00" y1="212.10" x2="128.00" y2="213.70" stroke="#8078c4" stroke-width="0.5" />
<line x1="134.00" y1="212.10" x2="134.00" y2="213.70" stroke="#8078c4" stroke-width="0.5" />
<line x1="139.00" y1="212.10" x2="139.00" y2="213.70" stroke="#8078c4" stroke-width="0.5" />
<line x1="146.00" y1="219.90" x2="146.00" y2="221.50" stroke="#8078c4" stroke-width="0.5" />
<line x1="149.00" y1="219.90" x2="149.00" y2="221.50" stroke="#8078c4" stroke-width="0.5" />
<polyline points="34.00,199.90 58.90,199.90 58.90,199.90 59.80,199.90 59.80,204.80 66.90,204.80 66.90,205.20 69.50,205.20 69.50,210.00 74.10,210.00 74.10,210.60 75.40,210.60 75.40,214.50 76.20,214.50 76.20,221.00 76.70,221.00 76.70,227.50 78.00,227.50 78.00,232.00 79.30,232.00 79.30,236.70 80.60,236.70 80.60,240.60 81.90,240.60 81.90,244.50 83.20,244.50 83.20,248.40 84.50,248.40 84.50,252.30 85.80,252.30 85.80,256.20 87.10,256.20 87.10,260.10 88.40,260.10 88.40,263.00 89.70,263.00 89.70,266.00 91.70,266.00 91.70,267.90 97.50,267.90 97.50,268.60 98.80,268.60 98.80,271.80" fill="none" stroke="#c8203c" stroke-width="1.0" stroke-linejoin="round" />
<polyline points="34.00,199.90 59.80,199.90 59.80,200.00 61.70,200.00 61.70,200.90 66.90,200.90 66.90,202.20 68.80,202.20 68.80,204.00 70.80,204.00 70.80,206.00 74.70,206.00 74.70,208.00 77.30,208.00 77.30,211.30 81.30,211.30 81.30,213.20 85.20,213.20 85.20,215.20 87.00,215.20 87.00,217.50 89.10,217.50 89.10,220.40 93.00,220.40 93.00,223.00 94.60,223.00 94.60,225.30 96.20,225.30 96.20,227.60 98.00,227.60 98.00,231.00 100.00,231.00 100.00,234.80 102.00,234.80 102.00,237.50 103.80,237.50 103.80,240.00 110.00,240.00 110.00,243.80 113.00,243.80 113.00,246.00 116.30,246.00 116.30,248.80 120.00,248.80 120.00,252.50 122.50,252.50 122.50,255.00 125.00,255.00 125.00,257.50 127.50,257.50 127.50,260.50 130.00,260.50 130.00,263.80 137.50,263.80 137.50,265.00 142.50,265.00 142.50,267.50 146.30,267.50 146.30,270.50 147.50,270.50 147.50,271.30" fill="none" stroke="#2d5192" stroke-width="1.0" stroke-linejoin="round" />
<line x1="214.80" y1="205.40" x2="214.80" y2="260.60" stroke="#231f20" stroke-width="1.1" />
<line x1="214.80" y1="266.00" x2="214.80" y2="272.60" stroke="#231f20" stroke-width="1.1" />
<line x1="213.20" y1="262.90" x2="216.60" y2="259.20" stroke="#231f20" stroke-width="0.9" />
<line x1="213.20" y1="268.40" x2="216.60" y2="264.70" stroke="#231f20" stroke-width="0.9" />
<line x1="214.40" y1="272.20" x2="305.50" y2="272.20" stroke="#231f20" stroke-width="1.1" />
<line x1="212.20" y1="208.00" x2="214.80" y2="208.00" stroke="#231f20" stroke-width="0.8" />
<text transform="translate(210.10,210.20)" font-size="6.0" text-anchor="end" fill="#231f20" font-weight="normal" font-style="normal" textLength="23.80" lengthAdjust="spacingAndGlyphs" stroke="#231f20" stroke-width="0.18" >2.0×10<tspan font-size="3.4" dy="-2.4">5</tspan></text>
<line x1="212.20" y1="223.20" x2="214.80" y2="223.20" stroke="#231f20" stroke-width="0.8" />
<text transform="translate(210.10,225.40)" font-size="6.0" text-anchor="end" fill="#231f20" font-weight="normal" font-style="normal" textLength="23.80" lengthAdjust="spacingAndGlyphs" stroke="#231f20" stroke-width="0.18" >1.8×10<tspan font-size="3.4" dy="-2.4">5</tspan></text>
<line x1="212.20" y1="238.40" x2="214.80" y2="238.40" stroke="#231f20" stroke-width="0.8" />
<text transform="translate(210.10,240.60)" font-size="6.0" text-anchor="end" fill="#231f20" font-weight="normal" font-style="normal" textLength="23.80" lengthAdjust="spacingAndGlyphs" stroke="#231f20" stroke-width="0.18" >1.6×10<tspan font-size="3.4" dy="-2.4">5</tspan></text>
<line x1="212.20" y1="253.60" x2="214.80" y2="253.60" stroke="#231f20" stroke-width="0.8" />
<text transform="translate(210.10,255.80)" font-size="6.0" text-anchor="end" fill="#231f20" font-weight="normal" font-style="normal" textLength="23.80" lengthAdjust="spacingAndGlyphs" stroke="#231f20" stroke-width="0.18" >1.4×10<tspan font-size="3.4" dy="-2.4">5</tspan></text>
<line x1="212.20" y1="272.20" x2="214.80" y2="272.20" stroke="#231f20" stroke-width="0.8" />
<text transform="translate(209.40,274.40) scale(0.9,1)" font-size="6.4" text-anchor="end" fill="#231f20" font-weight="normal" font-style="normal" stroke="#231f20" stroke-width="0.18" >0</text>
<line x1="219.00" y1="272.20" x2="219.00" y2="274.90" stroke="#231f20" stroke-width="0.8" />
<text transform="translate(219.00,284.30) scale(0.88,1)" font-size="7.6" text-anchor="middle" fill="#231f20" font-weight="normal" font-style="normal" stroke="#231f20" stroke-width="0.18" >2</text>
<line x1="229.10" y1="272.20" x2="229.10" y2="274.90" stroke="#231f20" stroke-width="0.8" />
<text transform="translate(229.10,284.30) scale(0.88,1)" font-size="7.6" text-anchor="middle" fill="#231f20" font-weight="normal" font-style="normal" stroke="#231f20" stroke-width="0.18" >3</text>
<line x1="239.20" y1="272.20" x2="239.20" y2="274.90" stroke="#231f20" stroke-width="0.8" />
<text transform="translate(239.20,284.30) scale(0.88,1)" font-size="7.6" text-anchor="middle" fill="#231f20" font-weight="normal" font-style="normal" stroke="#231f20" stroke-width="0.18" >4</text>
<line x1="249.30" y1="272.20" x2="249.30" y2="274.90" stroke="#231f20" stroke-width="0.8" />
<text transform="translate(249.30,284.30) scale(0.88,1)" font-size="7.6" text-anchor="middle" fill="#231f20" font-weight="normal" font-style="normal" stroke="#231f20" stroke-width="0.18" >5</text>
<line x1="259.40" y1="272.20" x2="259.40" y2="274.90" stroke="#231f20" stroke-width="0.8" />
<text transform="translate(259.40,284.30) scale(0.88,1)" font-size="7.6" text-anchor="middle" fill="#231f20" font-weight="normal" font-style="normal" stroke="#231f20" stroke-width="0.18" >6</text>
<line x1="269.50" y1="272.20" x2="269.50" y2="274.90" stroke="#231f20" stroke-width="0.8" />
<text transform="translate(269.50,284.30) scale(0.88,1)" font-size="7.6" text-anchor="middle" fill="#231f20" font-weight="normal" font-style="normal" stroke="#231f20" stroke-width="0.18" >7</text>
<line x1="279.60" y1="272.20" x2="279.60" y2="274.90" stroke="#231f20" stroke-width="0.8" />
<text transform="translate(279.60,284.30) scale(0.88,1)" font-size="7.6" text-anchor="middle" fill="#231f20" font-weight="normal" font-style="normal" stroke="#231f20" stroke-width="0.18" >8</text>
<line x1="289.70" y1="272.20" x2="289.70" y2="274.90" stroke="#231f20" stroke-width="0.8" />
<text transform="translate(289.70,284.30) scale(0.88,1)" font-size="7.6" text-anchor="middle" fill="#231f20" font-weight="normal" font-style="normal" stroke="#231f20" stroke-width="0.18" >9</text>
<line x1="299.80" y1="272.20" x2="299.80" y2="274.90" stroke="#231f20" stroke-width="0.8" />
<text transform="translate(299.80,284.30) scale(0.88,1)" font-size="7.6" text-anchor="middle" fill="#231f20" font-weight="normal" font-style="normal" stroke="#231f20" stroke-width="0.18" >10</text>
<text transform="translate(259.80,295.70)" font-size="8.4" text-anchor="middle" fill="#231f20" font-weight="normal" font-style="normal" textLength="41.00" lengthAdjust="spacingAndGlyphs" stroke="#231f20" stroke-width="0.18" >Age [months]</text>
<text transform="translate(182.00,238.35) rotate(-90)" font-size="8.6" text-anchor="middle" fill="#231f20" font-weight="normal" font-style="normal" textLength="111.70" lengthAdjust="spacingAndGlyphs" stroke="#231f20" stroke-width="0.18" >Mean size Cd5<tspan font-size="4.6" dy="-3">+</tspan><tspan dy="3"> B cells in blood (FSC)</tspan></text>
<text transform="translate(191.90,199.50)" font-size="6.4" text-anchor="start" fill="#8f89c6" font-weight="normal" font-style="italic" textLength="28.20" lengthAdjust="spacingAndGlyphs" stroke="#8f89c6" stroke-width="0.08" >CD19-Cre</text>
<text transform="translate(222.70,199.50)" font-size="6.4" text-anchor="start" fill="#3a3e4a" font-weight="normal" font-style="italic" textLength="39.20" lengthAdjust="spacingAndGlyphs" stroke="#3a3e4a" stroke-width="0.08" >CD19-Cre<tspan font-size="3.8" dy="-2.6">Akt-C</tspan></text>
<text transform="translate(264.20,199.50)" font-size="6.4" text-anchor="start" fill="#2e5597" font-weight="normal" font-style="normal" textLength="24.60" lengthAdjust="spacingAndGlyphs" stroke="#2e5597" stroke-width="0.08" >Eμ-<tspan font-style="italic">TCL1</tspan></text>
<text transform="translate(291.90,199.50)" font-size="6.4" text-anchor="start" fill="#c31f3d" font-weight="normal" font-style="normal" textLength="35.40" lengthAdjust="spacingAndGlyphs" stroke="#c31f3d" stroke-width="0.08" >Eμ-<tspan font-style="italic">TCL1</tspan><tspan font-size="3.8" dy="-2.6">Akt-C</tspan></text>
<line x1="229.10" y1="233.08" x2="229.10" y2="230.04" stroke="#231f20" stroke-width="0.6" />
<line x1="227.50" y1="233.08" x2="230.70" y2="233.08" stroke="#231f20" stroke-width="0.6" />
<line x1="227.50" y1="230.04" x2="230.70" y2="230.04" stroke="#231f20" stroke-width="0.6" />
<line x1="249.30" y1="235.36" x2="249.30" y2="230.80" stroke="#231f20" stroke-width="0.6" />
<line x1="247.70" y1="235.36" x2="250.90" y2="235.36" stroke="#231f20" stroke-width="0.6" />
<line x1="247.70" y1="230.80" x2="250.90" y2="230.80" stroke="#231f20" stroke-width="0.6" />
<line x1="259.40" y1="231.56" x2="259.40" y2="227.76" stroke="#231f20" stroke-width="0.6" />
<line x1="257.80" y1="231.56" x2="261.00" y2="231.56" stroke="#231f20" stroke-width="0.6" />
<line x1="257.80" y1="227.76" x2="261.00" y2="227.76" stroke="#231f20" stroke-width="0.6" />
<line x1="289.70" y1="233.84" x2="289.70" y2="228.52" stroke="#231f20" stroke-width="0.6" />
<line x1="288.10" y1="233.84" x2="291.30" y2="233.84" stroke="#231f20" stroke-width="0.6" />
<line x1="288.10" y1="228.52" x2="291.30" y2="228.52" stroke="#231f20" stroke-width="0.6" />
<line x1="299.80" y1="232.32" x2="299.80" y2="229.28" stroke="#231f20" stroke-width="0.6" />
<line x1="298.20" y1="232.32" x2="301.40" y2="232.32" stroke="#231f20" stroke-width="0.6" />
<line x1="298.20" y1="229.28" x2="301.40" y2="229.28" stroke="#231f20" stroke-width="0.6" />
<polyline points="219.00,230.80 229.10,231.56 239.20,232.32 249.30,233.08 259.40,229.28 269.50,234.60 279.60,235.36 289.70,231.56 299.80,230.80" fill="none" stroke="#6a6f7c" stroke-width="0.9" stroke-linejoin="round" />
<circle cx="219.00" cy="230.80" r="1.5" fill="#2c3040" stroke="#231f20" stroke-width="0.55"/>
<circle cx="229.10" cy="231.56" r="1.5" fill="#2c3040" stroke="#231f20" stroke-width="0.55"/>
<circle cx="239.20" cy="232.32" r="1.5" fill="#2c3040" stroke="#231f20" stroke-width="0.55"/>
<circle cx="249.30" cy="233.08" r="1.5" fill="#2c3040" stroke="#231f20" stroke-width="0.55"/>
<circle cx="259.40" cy="229.28" r="1.5" fill="#2c3040" stroke="#231f20" stroke-width="0.55"/>
<circle cx="269.50" cy="234.60" r="1.5" fill="#2c3040" stroke="#231f20" stroke-width="0.55"/>
<circle cx="279.60" cy="235.36" r="1.5" fill="#2c3040" stroke="#231f20" stroke-width="0.55"/>
<circle cx="289.70" cy="231.56" r="1.5" fill="#2c3040" stroke="#231f20" stroke-width="0.55"/>
<circle cx="299.80" cy="230.80" r="1.5" fill="#2c3040" stroke="#231f20" stroke-width="0.55"/>
<line x1="219.00" y1="255.88" x2="219.00" y2="250.56" stroke="#231f20" stroke-width="0.6" />
<line x1="217.40" y1="255.88" x2="220.60" y2="255.88" stroke="#231f20" stroke-width="0.6" />
<line x1="217.40" y1="250.56" x2="220.60" y2="250.56" stroke="#231f20" stroke-width="0.6" />
<line x1="229.10" y1="257.40" x2="229.10" y2="252.84" stroke="#231f20" stroke-width="0.6" />
<line x1="227.50" y1="257.40" x2="230.70" y2="257.40" stroke="#231f20" stroke-width="0.6" />
<line x1="227.50" y1="252.84" x2="230.70" y2="252.84" stroke="#231f20" stroke-width="0.6" />
<line x1="239.20" y1="254.36" x2="239.20" y2="249.04" stroke="#231f20" stroke-width="0.6" />
<line x1="237.60" y1="254.36" x2="240.80" y2="254.36" stroke="#231f20" stroke-width="0.6" />
<line x1="237.60" y1="249.04" x2="240.80" y2="249.04" stroke="#231f20" stroke-width="0.6" />
<line x1="249.30" y1="257.40" x2="249.30" y2="253.60" stroke="#231f20" stroke-width="0.6" />
<line x1="247.70" y1="257.40" x2="250.90" y2="257.40" stroke="#231f20" stroke-width="0.6" />
<line x1="247.70" y1="253.60" x2="250.90" y2="253.60" stroke="#231f20" stroke-width="0.6" />
<line x1="279.60" y1="256.64" x2="279.60" y2="253.60" stroke="#231f20" stroke-width="0.6" />
<line x1="278.00" y1="256.64" x2="281.20" y2="256.64" stroke="#231f20" stroke-width="0.6" />
<line x1="278.00" y1="253.60" x2="281.20" y2="253.60" stroke="#231f20" stroke-width="0.6" />
<line x1="289.70" y1="252.84" x2="289.70" y2="249.04" stroke="#231f20" stroke-width="0.6" />
<line x1="288.10" y1="252.84" x2="291.30" y2="252.84" stroke="#231f20" stroke-width="0.6" />
<line x1="288.10" y1="249.04" x2="291.30" y2="249.04" stroke="#231f20" stroke-width="0.6" />
<line x1="299.80" y1="256.64" x2="299.80" y2="252.08" stroke="#231f20" stroke-width="0.6" />
<line x1="298.20" y1="256.64" x2="301.40" y2="256.64" stroke="#231f20" stroke-width="0.6" />
<line x1="298.20" y1="252.08" x2="301.40" y2="252.08" stroke="#231f20" stroke-width="0.6" />
<polyline points="219.00,253.60 229.10,255.12 239.20,251.32 249.30,255.88 259.40,254.36 269.50,251.32 279.60,255.12 289.70,250.56 299.80,254.36" fill="none" stroke="#9f99d0" stroke-width="0.9" stroke-linejoin="round" />
<circle cx="219.00" cy="253.60" r="1.5" fill="#b8b2e2" stroke="#231f20" stroke-width="0.55"/>
<circle cx="229.10" cy="255.12" r="1.5" fill="#b8b2e2" stroke="#231f20" stroke-width="0.55"/>
<circle cx="239.20" cy="251.32" r="1.5" fill="#b8b2e2" stroke="#231f20" stroke-width="0.55"/>
<circle cx="249.30" cy="255.88" r="1.5" fill="#b8b2e2" stroke="#231f20" stroke-width="0.55"/>
<circle cx="259.40" cy="254.36" r="1.5" fill="#b8b2e2" stroke="#231f20" stroke-width="0.55"/>
<circle cx="269.50" cy="251.32" r="1.5" fill="#b8b2e2" stroke="#231f20" stroke-width="0.55"/>
<circle cx="279.60" cy="255.12" r="1.5" fill="#b8b2e2" stroke="#231f20" stroke-width="0.55"/>
<circle cx="289.70" cy="250.56" r="1.5" fill="#b8b2e2" stroke="#231f20" stroke-width="0.55"/>
<circle cx="299.80" cy="254.36" r="1.5" fill="#b8b2e2" stroke="#231f20" stroke-width="0.55"/>
<line x1="219.00" y1="257.40" x2="219.00" y2="254.36" stroke="#231f20" stroke-width="0.6" />
<line x1="217.40" y1="257.40" x2="220.60" y2="257.40" stroke="#231f20" stroke-width="0.6" />
<line x1="217.40" y1="254.36" x2="220.60" y2="254.36" stroke="#231f20" stroke-width="0.6" />
<line x1="239.20" y1="255.12" x2="239.20" y2="249.80" stroke="#231f20" stroke-width="0.6" />
<line x1="237.60" y1="255.12" x2="240.80" y2="255.12" stroke="#231f20" stroke-width="0.6" />
<line x1="237.60" y1="249.80" x2="240.80" y2="249.80" stroke="#231f20" stroke-width="0.6" />
<line x1="289.70" y1="249.04" x2="289.70" y2="246.00" stroke="#231f20" stroke-width="0.6" />
<line x1="288.10" y1="249.04" x2="291.30" y2="249.04" stroke="#231f20" stroke-width="0.6" />
<line x1="288.10" y1="246.00" x2="291.30" y2="246.00" stroke="#231f20" stroke-width="0.6" />
<line x1="299.80" y1="251.32" x2="299.80" y2="247.52" stroke="#231f20" stroke-width="0.6" />
<line x1="298.20" y1="251.32" x2="301.40" y2="251.32" stroke="#231f20" stroke-width="0.6" />
<line x1="298.20" y1="247.52" x2="301.40" y2="247.52" stroke="#231f20" stroke-width="0.6" />
<polyline points="219.00,255.88 229.10,252.84 239.20,252.84 249.30,251.32 259.40,249.04 269.50,249.80 279.60,249.80 289.70,247.52 299.80,249.80" fill="none" stroke="#2e5597" stroke-width="0.9" stroke-linejoin="round" />
<circle cx="219.00" cy="255.88" r="1.5" fill="#243f73" stroke="#231f20" stroke-width="0.55"/>
<circle cx="229.10" cy="252.84" r="1.5" fill="#243f73" stroke="#231f20" stroke-width="0.55"/>
<circle cx="239.20" cy="252.84" r="1.5" fill="#243f73" stroke="#231f20" stroke-width="0.55"/>
<circle cx="249.30" cy="251.32" r="1.5" fill="#243f73" stroke="#231f20" stroke-width="0.55"/>
<circle cx="259.40" cy="249.04" r="1.5" fill="#243f73" stroke="#231f20" stroke-width="0.55"/>
<circle cx="269.50" cy="249.80" r="1.5" fill="#243f73" stroke="#231f20" stroke-width="0.55"/>
<circle cx="279.60" cy="249.80" r="1.5" fill="#243f73" stroke="#231f20" stroke-width="0.55"/>
<circle cx="289.70" cy="247.52" r="1.5" fill="#243f73" stroke="#231f20" stroke-width="0.55"/>
<circle cx="299.80" cy="249.80" r="1.5" fill="#243f73" stroke="#231f20" stroke-width="0.55"/>
<line x1="249.30" y1="236.88" x2="249.30" y2="233.08" stroke="#231f20" stroke-width="0.6" />
<line x1="247.70" y1="236.88" x2="250.90" y2="236.88" stroke="#231f20" stroke-width="0.6" />
<line x1="247.70" y1="233.08" x2="250.90" y2="233.08" stroke="#231f20" stroke-width="0.6" />
<line x1="269.50" y1="223.20" x2="269.50" y2="220.92" stroke="#231f20" stroke-width="0.6" />
<line x1="267.90" y1="223.20" x2="271.10" y2="223.20" stroke="#231f20" stroke-width="0.6" />
<line x1="267.90" y1="220.92" x2="271.10" y2="220.92" stroke="#231f20" stroke-width="0.6" />
<line x1="279.60" y1="225.48" x2="279.60" y2="222.44" stroke="#231f20" stroke-width="0.6" />
<line x1="278.00" y1="225.48" x2="281.20" y2="225.48" stroke="#231f20" stroke-width="0.6" />
<line x1="278.00" y1="222.44" x2="281.20" y2="222.44" stroke="#231f20" stroke-width="0.6" />
<polyline points="219.00,235.36 229.10,232.32 239.20,233.08 249.30,234.60 259.40,231.56 269.50,221.68 279.60,223.96" fill="none" stroke="#c31f3d" stroke-width="0.9" stroke-linejoin="round" />
<circle cx="219.00" cy="235.36" r="1.5" fill="#b8132f" stroke="#231f20" stroke-width="0.55"/>
<circle cx="229.10" cy="232.32" r="1.5" fill="#b8132f" stroke="#231f20" stroke-width="0.55"/>
<circle cx="239.20" cy="233.08" r="1.5" fill="#b8132f" stroke="#231f20" stroke-width="0.55"/>
<circle cx="249.30" cy="234.60" r="1.5" fill="#b8132f" stroke="#231f20" stroke-width="0.55"/>
<circle cx="259.40" cy="231.56" r="1.5" fill="#b8132f" stroke="#231f20" stroke-width="0.55"/>
<circle cx="269.50" cy="221.68" r="1.5" fill="#b8132f" stroke="#231f20" stroke-width="0.55"/>
<circle cx="279.60" cy="223.96" r="1.5" fill="#b8132f" stroke="#231f20" stroke-width="0.55"/>
<text transform="translate(434.85,183.30)" font-size="8.0" text-anchor="middle" fill="#111" font-weight="normal" font-style="normal" textLength="20.50" lengthAdjust="spacingAndGlyphs" stroke="#111" stroke-width="0.18" >Blood</text>
<line x1="366.80" y1="187.80" x2="504.80" y2="187.80" stroke="#231f20" stroke-width="0.9" />
<text transform="translate(364.10,217.00) rotate(-90)" font-size="8.0" text-anchor="middle" fill="#111" font-weight="normal" font-style="normal" textLength="16.30" lengthAdjust="spacingAndGlyphs" stroke="#111" stroke-width="0.18" >100x</text>
<text transform="translate(364.10,271.50) rotate(-90)" font-size="8.0" text-anchor="middle" fill="#111" font-weight="normal" font-style="normal" textLength="16.30" lengthAdjust="spacingAndGlyphs" stroke="#111" stroke-width="0.18" >100x</text>
<g clip-path="url(#e0)"><rect x="368.1" y="191.2" width="68.8" height="52.3" fill="#fcf9ea"/><circle cx="376.7" cy="214.8" r="2.3" fill="#f5dade" stroke="#e6b8c6" stroke-width="0.6" opacity="0.72"/><circle cx="422.2" cy="228.9" r="2.3" fill="#f5dade" stroke="#e6b8c6" stroke-width="0.6" opacity="0.72"/><circle cx="419.4" cy="213.6" r="2.3" fill="#f5dade" stroke="#e6b8c6" stroke-width="0.6" opacity="0.72"/><circle cx="424.3" cy="219.2" r="2.3" fill="#f5dade" stroke="#e6b8c6" stroke-width="0.6" opacity="0.72"/><circle cx="371.9" cy="214.9" r="2.3" fill="#f5dade" stroke="#e6b8c6" stroke-width="0.6" opacity="0.72"/><circle cx="369.6" cy="241.7" r="2.3" fill="#f5dade" stroke="#e6b8c6" stroke-width="0.6" opacity="0.72"/><circle cx="435.0" cy="208.1" r="2.3" fill="#f5dade" stroke="#e6b8c6" stroke-width="0.6" opacity="0.72"/><circle cx="388.6" cy="232.4" r="2.3" fill="#f5dade" stroke="#e6b8c6" stroke-width="0.6" opacity="0.72"/><circle cx="380.9" cy="199.2" r="2.3" fill="#f5dade" stroke="#e6b8c6" stroke-width="0.6" opacity="0.72"/><circle cx="379.8" cy="208.7" r="2.3" fill="#f5dade" stroke="#e6b8c6" stroke-width="0.6" opacity="0.72"/><circle cx="411.7" cy="243.4" r="2.3" fill="#f5dade" stroke="#e6b8c6" stroke-width="0.6" opacity="0.72"/><circle cx="381.4" cy="243.0" r="2.3" fill="#f5dade" stroke="#e6b8c6" stroke-width="0.6" opacity="0.72"/><circle cx="406.5" cy="239.9" r="2.3" fill="#f5dade" stroke="#e6b8c6" stroke-width="0.6" opacity="0.72"/><circle cx="425.7" cy="198.2" r="2.3" fill="#f5dade" stroke="#e6b8c6" stroke-width="0.6" opacity="0.72"/><circle cx="413.3" cy="196.2" r="2.3" fill="#f5dade" stroke="#e6b8c6" stroke-width="0.6" opacity="0.72"/><circle cx="366.5" cy="211.5" r="2.3" fill="#f5dade" stroke="#e6b8c6" stroke-width="0.6" opacity="0.72"/><circle cx="422.4" cy="221.1" r="2.3" fill="#f5dade" stroke="#e6b8c6" stroke-width="0.6" opacity="0.72"/><circle cx="380.1" cy="236.6" r="2.3" fill="#f5dade" stroke="#e6b8c6" stroke-width="0.6" opacity="0.72"/><circle cx="432.6" cy="202.6" r="2.3" fill="#f5dade" stroke="#e6b8c6" stroke-width="0.6" opacity="0.72"/><circle cx="398.7" cy="225.1" r="2.3" fill="#f5dade" stroke="#e6b8c6" stroke-width="0.6" opacity="0.72"/><circle cx="431.8" cy="196.3" r="2.3" fill="#f5dade" stroke="#e6b8c6" stroke-width="0.6" opacity="0.72"/><circle cx="406.4" cy="243.7" r="2.3" fill="#f5dade" stroke="#e6b8c6" stroke-width="0.6" opacity="0.72"/><circle cx="410.4" cy="229.6" r="2.3" fill="#f5dade" stroke="#e6b8c6" stroke-width="0.6" opacity="0.72"/><circle cx="422.5" cy="217.8" r="2.3" fill="#f5dade" stroke="#e6b8c6" stroke-width="0.6" opacity="0.72"/><circle cx="387.2" cy="222.4" r="2.3" fill="#f5dade" stroke="#e6b8c6" stroke-width="0.6" opacity="0.72"/><circle cx="404.6" cy="208.5" r="2.3" fill="#f5dade" stroke="#e6b8c6" stroke-width="0.6" opacity="0.72"/><circle cx="428.3" cy="209.6" r="2.3" fill="#f5dade" stroke="#e6b8c6" stroke-width="0.6" opacity="0.72"/><circle cx="401.3" cy="232.1" r="2.3" fill="#f5dade" stroke="#e6b8c6" stroke-width="0.6" opacity="0.72"/><circle cx="425.3" cy="239.3" r="2.3" fill="#f5dade" stroke="#e6b8c6" stroke-width="0.6" opacity="0.72"/><circle cx="413.5" cy="203.4" r="2.3" fill="#f5dade" stroke="#e6b8c6" stroke-width="0.6" opacity="0.72"/><circle cx="427.8" cy="240.4" r="2.3" fill="#f5dade" stroke="#e6b8c6" stroke-width="0.6" opacity="0.72"/><circle cx="418.1" cy="232.4" r="2.3" fill="#f5dade" stroke="#e6b8c6" stroke-width="0.6" opacity="0.72"/><circle cx="403.5" cy="217.0" r="2.3" fill="#f5dade" stroke="#e6b8c6" stroke-width="0.6" opacity="0.72"/><circle cx="408.5" cy="197.5" r="2.3" fill="#f5dade" stroke="#e6b8c6" stroke-width="0.6" opacity="0.72"/><circle cx="415.3" cy="237.7" r="2.3" fill="#f5dade" stroke="#e6b8c6" stroke-width="0.6" opacity="0.72"/><circle cx="378.1" cy="231.6" r="2.3" fill="#f5dade" stroke="#e6b8c6" stroke-width="0.6" opacity="0.72"/><circle cx="417.5" cy="196.0" r="2.3" fill="#f5dade" stroke="#e6b8c6" stroke-width="0.6" opacity="0.72"/><circle cx="369.8" cy="222.7" r="2.3" fill="#f5dade" stroke="#e6b8c6" stroke-width="0.6" opacity="0.72"/><circle cx="382.1" cy="206.6" r="2.3" fill="#f5dade" stroke="#e6b8c6" stroke-width="0.6" opacity="0.72"/><circle cx="411.3" cy="225.8" r="2.3" fill="#f5dade" stroke="#e6b8c6" stroke-width="0.6" opacity="0.72"/><circle cx="420.6" cy="221.2" r="2.3" fill="#f5dade" stroke="#e6b8c6" stroke-width="0.6" opacity="0.72"/><circle cx="390.4" cy="189.9" r="2.3" fill="#f5dade" stroke="#e6b8c6" stroke-width="0.6" opacity="0.72"/><circle cx="374.4" cy="200.1" r="2.3" fill="#f5dade" stroke="#e6b8c6" stroke-width="0.6" opacity="0.72"/><circle cx="404.3" cy="229.7" r="2.3" fill="#f5dade" stroke="#e6b8c6" stroke-width="0.6" opacity="0.72"/><circle cx="381.3" cy="211.1" r="2.3" fill="#f5dade" stroke="#e6b8c6" stroke-width="0.6" opacity="0.72"/><circle cx="434.3" cy="211.8" r="2.3" fill="#f5dade" stroke="#e6b8c6" stroke-width="0.6" opacity="0.72"/><circle cx="418.0" cy="224.0" r="2.3" fill="#f5dade" stroke="#e6b8c6" stroke-width="0.6" opacity="0.72"/><circle cx="414.1" cy="216.0" r="2.3" fill="#f5dade" stroke="#e6b8c6" stroke-width="0.6" opacity="0.72"/><circle cx="405.8" cy="228.7" r="2.3" fill="#f5dade" stroke="#e6b8c6" stroke-width="0.6" opacity="0.72"/><circle cx="377.8" cy="234.2" r="2.3" fill="#f5dade" stroke="#e6b8c6" stroke-width="0.6" opacity="0.72"/><circle cx="429.6" cy="191.9" r="2.3" fill="#f5dade" stroke="#e6b8c6" stroke-width="0.6" opacity="0.72"/><circle cx="380.5" cy="203.2" r="2.3" fill="#f5dade" stroke="#e6b8c6" stroke-width="0.6" opacity="0.72"/><circle cx="373.0" cy="197.1" r="2.3" fill="#f5dade" stroke="#e6b8c6" stroke-width="0.6" opacity="0.72"/><circle cx="412.8" cy="196.1" r="2.3" fill="#f5dade" stroke="#e6b8c6" stroke-width="0.6" opacity="0.72"/><circle cx="371.0" cy="242.5" r="2.3" fill="#f5dade" stroke="#e6b8c6" stroke-width="0.6" opacity="0.72"/><circle cx="395.4" cy="219.6" r="2.3" fill="#f5dade" stroke="#e6b8c6" stroke-width="0.6" opacity="0.72"/><circle cx="400.6" cy="208.5" r="2.3" fill="#f5dade" stroke="#e6b8c6" stroke-width="0.6" opacity="0.72"/><circle cx="399.2" cy="200.1" r="2.3" fill="#f5dade" stroke="#e6b8c6" stroke-width="0.6" opacity="0.72"/><circle cx="408.3" cy="203.3" r="2.3" fill="#f5dade" stroke="#e6b8c6" stroke-width="0.6" opacity="0.72"/><circle cx="376.7" cy="200.9" r="2.3" fill="#f5dade" stroke="#e6b8c6" stroke-width="0.6" opacity="0.72"/><circle cx="396.1" cy="241.6" r="2.3" fill="#f5dade" stroke="#e6b8c6" stroke-width="0.6" opacity="0.72"/><circle cx="409.6" cy="244.4" r="2.3" fill="#f5dade" stroke="#e6b8c6" stroke-width="0.6" opacity="0.72"/><circle cx="395.3" cy="203.9" r="2.3" fill="#f5dade" stroke="#e6b8c6" stroke-width="0.6" opacity="0.72"/><circle cx="417.8" cy="199.9" r="2.3" fill="#f5dade" stroke="#e6b8c6" stroke-width="0.6" opacity="0.72"/><circle cx="438.8" cy="211.2" r="2.3" fill="#f5dade" stroke="#e6b8c6" stroke-width="0.6" opacity="0.72"/><circle cx="385.9" cy="204.5" r="2.3" fill="#f5dade" stroke="#e6b8c6" stroke-width="0.6" opacity="0.72"/><circle cx="388.3" cy="241.9" r="2.3" fill="#f5dade" stroke="#e6b8c6" stroke-width="0.6" opacity="0.72"/><circle cx="438.3" cy="220.6" r="2.3" fill="#f5dade" stroke="#e6b8c6" stroke-width="0.6" opacity="0.72"/><circle cx="383.0" cy="189.7" r="2.3" fill="#f5dade" stroke="#e6b8c6" stroke-width="0.6" opacity="0.72"/><circle cx="371.9" cy="206.0" r="2.3" fill="#f5dade" stroke="#e6b8c6" stroke-width="0.6" opacity="0.72"/><circle cx="412.9" cy="224.5" r="2.3" fill="#f5dade" stroke="#e6b8c6" stroke-width="0.6" opacity="0.72"/><circle cx="428.2" cy="235.4" r="2.3" fill="#f5dade" stroke="#e6b8c6" stroke-width="0.6" opacity="0.72"/><circle cx="391.8" cy="227.1" r="2.3" fill="#f5dade" stroke="#e6b8c6" stroke-width="0.6" opacity="0.72"/><circle cx="398.4" cy="230.2" r="2.3" fill="#f5dade" stroke="#e6b8c6" stroke-width="0.6" opacity="0.72"/><circle cx="379.5" cy="244.2" r="2.3" fill="#f5dade" stroke="#e6b8c6" stroke-width="0.6" opacity="0.72"/><circle cx="367.8" cy="224.0" r="2.3" fill="#f5dade" stroke="#e6b8c6" stroke-width="0.6" opacity="0.72"/><circle cx="391.8" cy="234.3" r="2.3" fill="#f5dade" stroke="#e6b8c6" stroke-width="0.6" opacity="0.72"/><circle cx="376.6" cy="239.4" r="2.3" fill="#f5dade" stroke="#e6b8c6" stroke-width="0.6" opacity="0.72"/><circle cx="366.3" cy="230.6" r="2.3" fill="#f5dade" stroke="#e6b8c6" stroke-width="0.6" opacity="0.72"/><circle cx="417.3" cy="217.8" r="2.3" fill="#f5dade" stroke="#e6b8c6" stroke-width="0.6" opacity="0.72"/><circle cx="378.8" cy="210.7" r="2.3" fill="#f5dade" stroke="#e6b8c6" stroke-width="0.6" opacity="0.72"/><circle cx="398.6" cy="201.2" r="2.3" fill="#f5dade" stroke="#e6b8c6" stroke-width="0.6" opacity="0.72"/><circle cx="377.8" cy="236.6" r="2.3" fill="#f5dade" stroke="#e6b8c6" stroke-width="0.6" opacity="0.72"/><circle cx="406.1" cy="204.4" r="2.3" fill="#f5dade" stroke="#e6b8c6" stroke-width="0.6" opacity="0.72"/><circle cx="411.6" cy="224.8" r="2.3" fill="#f5dade" stroke="#e6b8c6" stroke-width="0.6" opacity="0.72"/><circle cx="376.0" cy="222.1" r="2.3" fill="#f5dade" stroke="#e6b8c6" stroke-width="0.6" opacity="0.72"/><circle cx="408.6" cy="195.5" r="2.3" fill="#f5dade" stroke="#e6b8c6" stroke-width="0.6" opacity="0.72"/><circle cx="388.0" cy="237.8" r="2.3" fill="#f5dade" stroke="#e6b8c6" stroke-width="0.6" opacity="0.72"/><circle cx="408.3" cy="201.8" r="2.3" fill="#f5dade" stroke="#e6b8c6" stroke-width="0.6" opacity="0.72"/><circle cx="394.7" cy="215.0" r="2.3" fill="#f5dade" stroke="#e6b8c6" stroke-width="0.6" opacity="0.72"/><circle cx="417.7" cy="237.7" r="2.3" fill="#f5dade" stroke="#e6b8c6" stroke-width="0.6" opacity="0.72"/><circle cx="372.5" cy="191.8" r="2.3" fill="#f5dade" stroke="#e6b8c6" stroke-width="0.6" opacity="0.72"/><circle cx="398.2" cy="190.3" r="2.3" fill="#f5dade" stroke="#e6b8c6" stroke-width="0.6" opacity="0.72"/><circle cx="377.3" cy="195.2" r="2.3" fill="#f5dade" stroke="#e6b8c6" stroke-width="0.6" opacity="0.72"/><circle cx="372.5" cy="224.4" r="2.3" fill="#f5dade" stroke="#e6b8c6" stroke-width="0.6" opacity="0.72"/><circle cx="373.1" cy="221.1" r="2.3" fill="#f5dade" stroke="#e6b8c6" stroke-width="0.6" opacity="0.72"/><circle cx="436.4" cy="197.1" r="2.3" fill="#f5dade" stroke="#e6b8c6" stroke-width="0.6" opacity="0.72"/><circle cx="421.4" cy="222.1" r="2.3" fill="#f5dade" stroke="#e6b8c6" stroke-width="0.6" opacity="0.72"/><circle cx="378.5" cy="242.7" r="2.3" fill="#f5dade" stroke="#e6b8c6" stroke-width="0.6" opacity="0.72"/><circle cx="419.7" cy="210.6" r="2.3" fill="#f5dade" stroke="#e6b8c6" stroke-width="0.6" opacity="0.72"/><circle cx="430.8" cy="195.1" r="2.3" fill="#f5dade" stroke="#e6b8c6" stroke-width="0.6" opacity="0.72"/><circle cx="426.8" cy="236.6" r="2.3" fill="#f5dade" stroke="#e6b8c6" stroke-width="0.6" opacity="0.72"/><circle cx="374.5" cy="240.7" r="2.3" fill="#f5dade" stroke="#e6b8c6" stroke-width="0.6" opacity="0.72"/><circle cx="423.2" cy="240.7" r="2.3" fill="#f5dade" stroke="#e6b8c6" stroke-width="0.6" opacity="0.72"/><circle cx="386.6" cy="230.8" r="2.3" fill="#f5dade" stroke="#e6b8c6" stroke-width="0.6" opacity="0.72"/><circle cx="422.9" cy="208.8" r="2.3" fill="#f5dade" stroke="#e6b8c6" stroke-width="0.6" opacity="0.72"/><circle cx="368.6" cy="190.0" r="2.3" fill="#f5dade" stroke="#e6b8c6" stroke-width="0.6" opacity="0.72"/><circle cx="403.0" cy="220.1" r="2.3" fill="#f5dade" stroke="#e6b8c6" stroke-width="0.6" opacity="0.72"/><circle cx="375.2" cy="224.7" r="2.3" fill="#f5dade" stroke="#e6b8c6" stroke-width="0.6" opacity="0.72"/><circle cx="369.9" cy="216.1" r="2.3" fill="#f5dade" stroke="#e6b8c6" stroke-width="0.6" opacity="0.72"/><circle cx="403.3" cy="200.7" r="2.3" fill="#f5dade" stroke="#e6b8c6" stroke-width="0.6" opacity="0.72"/><circle cx="369.6" cy="240.0" r="2.3" fill="#f5dade" stroke="#e6b8c6" stroke-width="0.6" opacity="0.72"/><circle cx="428.2" cy="222.3" r="2.3" fill="#f5dade" stroke="#e6b8c6" stroke-width="0.6" opacity="0.72"/><circle cx="368.2" cy="218.8" r="2.3" fill="#f5dade" stroke="#e6b8c6" stroke-width="0.6" opacity="0.72"/><circle cx="436.2" cy="232.4" r="2.3" fill="#f5dade" stroke="#e6b8c6" stroke-width="0.6" opacity="0.72"/><circle cx="416.2" cy="191.4" r="2.3" fill="#f5dade" stroke="#e6b8c6" stroke-width="0.6" opacity="0.72"/><circle cx="408.2" cy="202.3" r="2.3" fill="#f5dade" stroke="#e6b8c6" stroke-width="0.6" opacity="0.72"/><circle cx="437.9" cy="189.8" r="2.3" fill="#f5dade" stroke="#e6b8c6" stroke-width="0.6" opacity="0.72"/><circle cx="382.3" cy="238.7" r="2.3" fill="#f5dade" stroke="#e6b8c6" stroke-width="0.6" opacity="0.72"/><circle cx="374.8" cy="206.1" r="2.3" fill="#f5dade" stroke="#e6b8c6" stroke-width="0.6" opacity="0.72"/><ellipse cx="407.5" cy="214.9" rx="3.1" ry="3.1" fill="#7b3f98"/><ellipse cx="406.9" cy="214.4" rx="1.8599999999999999" ry="1.8599999999999999" fill="#6a2f88" opacity="0.6"/></g>
<rect x="368.10" y="191.20" width="68.80" height="52.30" fill="none" stroke="#8a8a8a" stroke-width="0.7" />
<text transform="translate(370.60,197.70)" font-size="5.0" text-anchor="start" fill="#8f89c6" font-weight="normal" font-style="italic" textLength="23.30" lengthAdjust="spacingAndGlyphs" stroke="#8f89c6" stroke-width="0.04" >CD19-Cre</text>
<g clip-path="url(#e1)"><rect x="438.9" y="191.2" width="68.3" height="52.3" fill="#fbf6ea"/><circle cx="478.9" cy="200.2" r="2.3" fill="#f4d8de" stroke="#e4b4c4" stroke-width="0.6" opacity="0.72"/><circle cx="506.7" cy="241.2" r="2.3" fill="#f4d8de" stroke="#e4b4c4" stroke-width="0.6" opacity="0.72"/><circle cx="470.7" cy="226.6" r="2.3" fill="#f4d8de" stroke="#e4b4c4" stroke-width="0.6" opacity="0.72"/><circle cx="452.4" cy="201.7" r="2.3" fill="#f4d8de" stroke="#e4b4c4" stroke-width="0.6" opacity="0.72"/><circle cx="457.8" cy="228.2" r="2.3" fill="#f4d8de" stroke="#e4b4c4" stroke-width="0.6" opacity="0.72"/><circle cx="452.3" cy="243.9" r="2.3" fill="#f4d8de" stroke="#e4b4c4" stroke-width="0.6" opacity="0.72"/><circle cx="442.0" cy="200.1" r="2.3" fill="#f4d8de" stroke="#e4b4c4" stroke-width="0.6" opacity="0.72"/><circle cx="443.3" cy="232.5" r="2.3" fill="#f4d8de" stroke="#e4b4c4" stroke-width="0.6" opacity="0.72"/><circle cx="463.4" cy="215.8" r="2.3" fill="#f4d8de" stroke="#e4b4c4" stroke-width="0.6" opacity="0.72"/><circle cx="460.5" cy="225.1" r="2.3" fill="#f4d8de" stroke="#e4b4c4" stroke-width="0.6" opacity="0.72"/><circle cx="466.1" cy="200.9" r="2.3" fill="#f4d8de" stroke="#e4b4c4" stroke-width="0.6" opacity="0.72"/><circle cx="468.0" cy="206.3" r="2.3" fill="#f4d8de" stroke="#e4b4c4" stroke-width="0.6" opacity="0.72"/><circle cx="444.9" cy="235.6" r="2.3" fill="#f4d8de" stroke="#e4b4c4" stroke-width="0.6" opacity="0.72"/><circle cx="486.1" cy="226.6" r="2.3" fill="#f4d8de" stroke="#e4b4c4" stroke-width="0.6" opacity="0.72"/><circle cx="500.7" cy="211.4" r="2.3" fill="#f4d8de" stroke="#e4b4c4" stroke-width="0.6" opacity="0.72"/><circle cx="464.3" cy="213.0" r="2.3" fill="#f4d8de" stroke="#e4b4c4" stroke-width="0.6" opacity="0.72"/><circle cx="466.1" cy="226.9" r="2.3" fill="#f4d8de" stroke="#e4b4c4" stroke-width="0.6" opacity="0.72"/><circle cx="437.4" cy="215.3" r="2.3" fill="#f4d8de" stroke="#e4b4c4" stroke-width="0.6" opacity="0.72"/><circle cx="475.6" cy="208.7" r="2.3" fill="#f4d8de" stroke="#e4b4c4" stroke-width="0.6" opacity="0.72"/><circle cx="438.5" cy="228.9" r="2.3" fill="#f4d8de" stroke="#e4b4c4" stroke-width="0.6" opacity="0.72"/><circle cx="437.6" cy="221.0" r="2.3" fill="#f4d8de" stroke="#e4b4c4" stroke-width="0.6" opacity="0.72"/><circle cx="448.0" cy="191.1" r="2.3" fill="#f4d8de" stroke="#e4b4c4" stroke-width="0.6" opacity="0.72"/><circle cx="450.0" cy="192.9" r="2.3" fill="#f4d8de" stroke="#e4b4c4" stroke-width="0.6" opacity="0.72"/><circle cx="447.8" cy="227.8" r="2.3" fill="#f4d8de" stroke="#e4b4c4" stroke-width="0.6" opacity="0.72"/><circle cx="489.6" cy="209.6" r="2.3" fill="#f4d8de" stroke="#e4b4c4" stroke-width="0.6" opacity="0.72"/><circle cx="484.1" cy="216.0" r="2.3" fill="#f4d8de" stroke="#e4b4c4" stroke-width="0.6" opacity="0.72"/><circle cx="472.9" cy="238.5" r="2.3" fill="#f4d8de" stroke="#e4b4c4" stroke-width="0.6" opacity="0.72"/><circle cx="459.4" cy="238.2" r="2.3" fill="#f4d8de" stroke="#e4b4c4" stroke-width="0.6" opacity="0.72"/><circle cx="486.9" cy="227.7" r="2.3" fill="#f4d8de" stroke="#e4b4c4" stroke-width="0.6" opacity="0.72"/><circle cx="437.3" cy="193.9" r="2.3" fill="#f4d8de" stroke="#e4b4c4" stroke-width="0.6" opacity="0.72"/><circle cx="439.2" cy="208.7" r="2.3" fill="#f4d8de" stroke="#e4b4c4" stroke-width="0.6" opacity="0.72"/><circle cx="505.3" cy="238.5" r="2.3" fill="#f4d8de" stroke="#e4b4c4" stroke-width="0.6" opacity="0.72"/><circle cx="497.5" cy="195.9" r="2.3" fill="#f4d8de" stroke="#e4b4c4" stroke-width="0.6" opacity="0.72"/><circle cx="487.9" cy="232.8" r="2.3" fill="#f4d8de" stroke="#e4b4c4" stroke-width="0.6" opacity="0.72"/><circle cx="495.4" cy="233.8" r="2.3" fill="#f4d8de" stroke="#e4b4c4" stroke-width="0.6" opacity="0.72"/><circle cx="447.0" cy="199.3" r="2.3" fill="#f4d8de" stroke="#e4b4c4" stroke-width="0.6" opacity="0.72"/><circle cx="494.2" cy="230.8" r="2.3" fill="#f4d8de" stroke="#e4b4c4" stroke-width="0.6" opacity="0.72"/><circle cx="501.4" cy="214.3" r="2.3" fill="#f4d8de" stroke="#e4b4c4" stroke-width="0.6" opacity="0.72"/><circle cx="501.2" cy="197.0" r="2.3" fill="#f4d8de" stroke="#e4b4c4" stroke-width="0.6" opacity="0.72"/><circle cx="506.1" cy="239.0" r="2.3" fill="#f4d8de" stroke="#e4b4c4" stroke-width="0.6" opacity="0.72"/><circle cx="461.3" cy="193.0" r="2.3" fill="#f4d8de" stroke="#e4b4c4" stroke-width="0.6" opacity="0.72"/><circle cx="476.6" cy="228.0" r="2.3" fill="#f4d8de" stroke="#e4b4c4" stroke-width="0.6" opacity="0.72"/><circle cx="462.2" cy="192.4" r="2.3" fill="#f4d8de" stroke="#e4b4c4" stroke-width="0.6" opacity="0.72"/><circle cx="457.0" cy="235.6" r="2.3" fill="#f4d8de" stroke="#e4b4c4" stroke-width="0.6" opacity="0.72"/><circle cx="443.5" cy="242.0" r="2.3" fill="#f4d8de" stroke="#e4b4c4" stroke-width="0.6" opacity="0.72"/><circle cx="455.0" cy="200.7" r="2.3" fill="#f4d8de" stroke="#e4b4c4" stroke-width="0.6" opacity="0.72"/><circle cx="445.0" cy="244.4" r="2.3" fill="#f4d8de" stroke="#e4b4c4" stroke-width="0.6" opacity="0.72"/><circle cx="502.0" cy="207.2" r="2.3" fill="#f4d8de" stroke="#e4b4c4" stroke-width="0.6" opacity="0.72"/><circle cx="443.8" cy="226.0" r="2.3" fill="#f4d8de" stroke="#e4b4c4" stroke-width="0.6" opacity="0.72"/><circle cx="501.1" cy="189.9" r="2.3" fill="#f4d8de" stroke="#e4b4c4" stroke-width="0.6" opacity="0.72"/><circle cx="482.7" cy="237.4" r="2.3" fill="#f4d8de" stroke="#e4b4c4" stroke-width="0.6" opacity="0.72"/><circle cx="470.1" cy="221.3" r="2.3" fill="#f4d8de" stroke="#e4b4c4" stroke-width="0.6" opacity="0.72"/><circle cx="495.0" cy="202.6" r="2.3" fill="#f4d8de" stroke="#e4b4c4" stroke-width="0.6" opacity="0.72"/><circle cx="456.7" cy="226.4" r="2.3" fill="#f4d8de" stroke="#e4b4c4" stroke-width="0.6" opacity="0.72"/><circle cx="476.8" cy="219.3" r="2.3" fill="#f4d8de" stroke="#e4b4c4" stroke-width="0.6" opacity="0.72"/><circle cx="461.1" cy="242.0" r="2.3" fill="#f4d8de" stroke="#e4b4c4" stroke-width="0.6" opacity="0.72"/><circle cx="457.7" cy="227.4" r="2.3" fill="#f4d8de" stroke="#e4b4c4" stroke-width="0.6" opacity="0.72"/><circle cx="501.5" cy="211.8" r="2.3" fill="#f4d8de" stroke="#e4b4c4" stroke-width="0.6" opacity="0.72"/><circle cx="440.8" cy="201.6" r="2.3" fill="#f4d8de" stroke="#e4b4c4" stroke-width="0.6" opacity="0.72"/><circle cx="441.7" cy="197.5" r="2.3" fill="#f4d8de" stroke="#e4b4c4" stroke-width="0.6" opacity="0.72"/><circle cx="445.6" cy="208.5" r="2.3" fill="#f4d8de" stroke="#e4b4c4" stroke-width="0.6" opacity="0.72"/><circle cx="463.6" cy="214.4" r="2.3" fill="#f4d8de" stroke="#e4b4c4" stroke-width="0.6" opacity="0.72"/><circle cx="485.0" cy="227.3" r="2.3" fill="#f4d8de" stroke="#e4b4c4" stroke-width="0.6" opacity="0.72"/><circle cx="486.6" cy="209.7" r="2.3" fill="#f4d8de" stroke="#e4b4c4" stroke-width="0.6" opacity="0.72"/><circle cx="484.8" cy="220.2" r="2.3" fill="#f4d8de" stroke="#e4b4c4" stroke-width="0.6" opacity="0.72"/><circle cx="446.1" cy="219.9" r="2.3" fill="#f4d8de" stroke="#e4b4c4" stroke-width="0.6" opacity="0.72"/><circle cx="459.9" cy="227.3" r="2.3" fill="#f4d8de" stroke="#e4b4c4" stroke-width="0.6" opacity="0.72"/><circle cx="490.0" cy="202.8" r="2.3" fill="#f4d8de" stroke="#e4b4c4" stroke-width="0.6" opacity="0.72"/><circle cx="468.4" cy="214.8" r="2.3" fill="#f4d8de" stroke="#e4b4c4" stroke-width="0.6" opacity="0.72"/><circle cx="458.4" cy="191.5" r="2.3" fill="#f4d8de" stroke="#e4b4c4" stroke-width="0.6" opacity="0.72"/><circle cx="440.5" cy="245.1" r="2.3" fill="#f4d8de" stroke="#e4b4c4" stroke-width="0.6" opacity="0.72"/><circle cx="490.4" cy="213.9" r="2.3" fill="#f4d8de" stroke="#e4b4c4" stroke-width="0.6" opacity="0.72"/><circle cx="485.1" cy="204.3" r="2.3" fill="#f4d8de" stroke="#e4b4c4" stroke-width="0.6" opacity="0.72"/><circle cx="488.3" cy="242.7" r="2.3" fill="#f4d8de" stroke="#e4b4c4" stroke-width="0.6" opacity="0.72"/><circle cx="492.8" cy="215.4" r="2.3" fill="#f4d8de" stroke="#e4b4c4" stroke-width="0.6" opacity="0.72"/><circle cx="508.0" cy="241.1" r="2.3" fill="#f4d8de" stroke="#e4b4c4" stroke-width="0.6" opacity="0.72"/><circle cx="441.1" cy="212.4" r="2.3" fill="#f4d8de" stroke="#e4b4c4" stroke-width="0.6" opacity="0.72"/><circle cx="469.6" cy="204.6" r="2.3" fill="#f4d8de" stroke="#e4b4c4" stroke-width="0.6" opacity="0.72"/><circle cx="481.5" cy="197.3" r="2.3" fill="#f4d8de" stroke="#e4b4c4" stroke-width="0.6" opacity="0.72"/><circle cx="490.9" cy="237.5" r="2.3" fill="#f4d8de" stroke="#e4b4c4" stroke-width="0.6" opacity="0.72"/><circle cx="441.4" cy="228.2" r="2.3" fill="#f4d8de" stroke="#e4b4c4" stroke-width="0.6" opacity="0.72"/><circle cx="456.1" cy="225.1" r="2.3" fill="#f4d8de" stroke="#e4b4c4" stroke-width="0.6" opacity="0.72"/><circle cx="486.9" cy="244.2" r="2.3" fill="#f4d8de" stroke="#e4b4c4" stroke-width="0.6" opacity="0.72"/><circle cx="494.6" cy="208.3" r="2.3" fill="#f4d8de" stroke="#e4b4c4" stroke-width="0.6" opacity="0.72"/><circle cx="489.7" cy="197.5" r="2.3" fill="#f4d8de" stroke="#e4b4c4" stroke-width="0.6" opacity="0.72"/><circle cx="488.5" cy="212.7" r="2.3" fill="#f4d8de" stroke="#e4b4c4" stroke-width="0.6" opacity="0.72"/><circle cx="456.1" cy="202.6" r="2.3" fill="#f4d8de" stroke="#e4b4c4" stroke-width="0.6" opacity="0.72"/><circle cx="452.6" cy="234.0" r="2.3" fill="#f4d8de" stroke="#e4b4c4" stroke-width="0.6" opacity="0.72"/><circle cx="443.8" cy="202.3" r="2.3" fill="#f4d8de" stroke="#e4b4c4" stroke-width="0.6" opacity="0.72"/><circle cx="450.8" cy="198.1" r="2.3" fill="#f4d8de" stroke="#e4b4c4" stroke-width="0.6" opacity="0.72"/><circle cx="489.7" cy="222.3" r="2.3" fill="#f4d8de" stroke="#e4b4c4" stroke-width="0.6" opacity="0.72"/><circle cx="485.0" cy="239.9" r="2.3" fill="#f4d8de" stroke="#e4b4c4" stroke-width="0.6" opacity="0.72"/><circle cx="469.3" cy="191.3" r="2.3" fill="#f4d8de" stroke="#e4b4c4" stroke-width="0.6" opacity="0.72"/><circle cx="450.6" cy="218.3" r="2.3" fill="#f4d8de" stroke="#e4b4c4" stroke-width="0.6" opacity="0.72"/><circle cx="488.6" cy="240.9" r="2.3" fill="#f4d8de" stroke="#e4b4c4" stroke-width="0.6" opacity="0.72"/><circle cx="473.9" cy="202.0" r="2.3" fill="#f4d8de" stroke="#e4b4c4" stroke-width="0.6" opacity="0.72"/><circle cx="479.7" cy="241.8" r="2.3" fill="#f4d8de" stroke="#e4b4c4" stroke-width="0.6" opacity="0.72"/><circle cx="461.0" cy="241.6" r="2.3" fill="#f4d8de" stroke="#e4b4c4" stroke-width="0.6" opacity="0.72"/><circle cx="502.2" cy="221.7" r="2.3" fill="#f4d8de" stroke="#e4b4c4" stroke-width="0.6" opacity="0.72"/><circle cx="471.7" cy="196.5" r="2.3" fill="#f4d8de" stroke="#e4b4c4" stroke-width="0.6" opacity="0.72"/><circle cx="444.9" cy="191.5" r="2.3" fill="#f4d8de" stroke="#e4b4c4" stroke-width="0.6" opacity="0.72"/><circle cx="481.1" cy="229.3" r="2.3" fill="#f4d8de" stroke="#e4b4c4" stroke-width="0.6" opacity="0.72"/><circle cx="508.7" cy="223.1" r="2.3" fill="#f4d8de" stroke="#e4b4c4" stroke-width="0.6" opacity="0.72"/><circle cx="508.8" cy="211.9" r="2.3" fill="#f4d8de" stroke="#e4b4c4" stroke-width="0.6" opacity="0.72"/><circle cx="446.6" cy="192.6" r="2.3" fill="#f4d8de" stroke="#e4b4c4" stroke-width="0.6" opacity="0.72"/><circle cx="457.7" cy="219.1" r="2.3" fill="#f4d8de" stroke="#e4b4c4" stroke-width="0.6" opacity="0.72"/><circle cx="508.2" cy="205.9" r="2.3" fill="#f4d8de" stroke="#e4b4c4" stroke-width="0.6" opacity="0.72"/><circle cx="453.9" cy="229.9" r="2.3" fill="#f4d8de" stroke="#e4b4c4" stroke-width="0.6" opacity="0.72"/><circle cx="465.0" cy="220.6" r="2.3" fill="#f4d8de" stroke="#e4b4c4" stroke-width="0.6" opacity="0.72"/><circle cx="447.8" cy="237.2" r="2.3" fill="#f4d8de" stroke="#e4b4c4" stroke-width="0.6" opacity="0.72"/><circle cx="503.4" cy="231.7" r="2.3" fill="#f4d8de" stroke="#e4b4c4" stroke-width="0.6" opacity="0.72"/><circle cx="504.6" cy="207.9" r="2.3" fill="#f4d8de" stroke="#e4b4c4" stroke-width="0.6" opacity="0.72"/><circle cx="439.2" cy="206.4" r="2.3" fill="#f4d8de" stroke="#e4b4c4" stroke-width="0.6" opacity="0.72"/><circle cx="501.8" cy="215.6" r="2.3" fill="#f4d8de" stroke="#e4b4c4" stroke-width="0.6" opacity="0.72"/><circle cx="451.4" cy="197.7" r="2.3" fill="#f4d8de" stroke="#e4b4c4" stroke-width="0.6" opacity="0.72"/><circle cx="448.8" cy="213.9" r="2.3" fill="#f4d8de" stroke="#e4b4c4" stroke-width="0.6" opacity="0.72"/><circle cx="503.8" cy="239.0" r="2.3" fill="#f4d8de" stroke="#e4b4c4" stroke-width="0.6" opacity="0.72"/><circle cx="491.7" cy="231.8" r="2.3" fill="#f4d8de" stroke="#e4b4c4" stroke-width="0.6" opacity="0.72"/><circle cx="450.7" cy="233.0" r="2.3" fill="#f4d8de" stroke="#e4b4c4" stroke-width="0.6" opacity="0.72"/><circle cx="453.1" cy="218.8" r="2.3" fill="#f4d8de" stroke="#e4b4c4" stroke-width="0.6" opacity="0.72"/><ellipse cx="457.4" cy="221.2" rx="3.0" ry="3.2" fill="#7b3f98"/><ellipse cx="456.79999999999995" cy="220.7" rx="1.7999999999999998" ry="1.92" fill="#6a2f88" opacity="0.6"/><ellipse cx="463.8" cy="221.0" rx="3.0" ry="3.2" fill="#7b3f98"/><ellipse cx="463.2" cy="220.5" rx="1.7999999999999998" ry="1.92" fill="#6a2f88" opacity="0.6"/><ellipse cx="487.8" cy="226.8" rx="2.8" ry="2.9" fill="#7b3f98"/><ellipse cx="487.2" cy="226.3" rx="1.68" ry="1.74" fill="#6a2f88" opacity="0.6"/></g>
<rect x="438.90" y="191.20" width="68.30" height="52.30" fill="none" stroke="#8a8a8a" stroke-width="0.7" />
<text transform="translate(441.40,197.70)" font-size="5.0" text-anchor="start" fill="#4a4f5e" font-weight="normal" font-style="italic" textLength="31.30" lengthAdjust="spacingAndGlyphs" stroke="#4a4f5e" stroke-width="0.04" >CD19-Cre<tspan font-size="3" dy="-2.3">Akt-C</tspan></text>
<g clip-path="url(#e2)"><rect x="368.1" y="245.4" width="68.8" height="52.1" fill="#f8f2f6"/><circle cx="376.9" cy="278.0" r="2.3" fill="#f2dae6" stroke="#dfb6d0" stroke-width="0.6" opacity="0.72"/><circle cx="378.5" cy="283.4" r="2.3" fill="#f2dae6" stroke="#dfb6d0" stroke-width="0.6" opacity="0.72"/><circle cx="410.4" cy="265.0" r="2.3" fill="#f2dae6" stroke="#dfb6d0" stroke-width="0.6" opacity="0.72"/><circle cx="411.1" cy="275.2" r="2.3" fill="#f2dae6" stroke="#dfb6d0" stroke-width="0.6" opacity="0.72"/><circle cx="369.2" cy="273.1" r="2.3" fill="#f2dae6" stroke="#dfb6d0" stroke-width="0.6" opacity="0.72"/><circle cx="411.2" cy="272.6" r="2.3" fill="#f2dae6" stroke="#dfb6d0" stroke-width="0.6" opacity="0.72"/><circle cx="430.1" cy="284.7" r="2.3" fill="#f2dae6" stroke="#dfb6d0" stroke-width="0.6" opacity="0.72"/><circle cx="393.6" cy="256.1" r="2.3" fill="#f2dae6" stroke="#dfb6d0" stroke-width="0.6" opacity="0.72"/><circle cx="375.4" cy="288.9" r="2.3" fill="#f2dae6" stroke="#dfb6d0" stroke-width="0.6" opacity="0.72"/><circle cx="416.3" cy="277.6" r="2.3" fill="#f2dae6" stroke="#dfb6d0" stroke-width="0.6" opacity="0.72"/><circle cx="398.3" cy="271.5" r="2.3" fill="#f2dae6" stroke="#dfb6d0" stroke-width="0.6" opacity="0.72"/><circle cx="382.3" cy="273.2" r="2.3" fill="#f2dae6" stroke="#dfb6d0" stroke-width="0.6" opacity="0.72"/><circle cx="376.7" cy="278.2" r="2.3" fill="#f2dae6" stroke="#dfb6d0" stroke-width="0.6" opacity="0.72"/><circle cx="412.0" cy="281.0" r="2.3" fill="#f2dae6" stroke="#dfb6d0" stroke-width="0.6" opacity="0.72"/><circle cx="384.0" cy="248.6" r="2.3" fill="#f2dae6" stroke="#dfb6d0" stroke-width="0.6" opacity="0.72"/><circle cx="390.3" cy="282.0" r="2.3" fill="#f2dae6" stroke="#dfb6d0" stroke-width="0.6" opacity="0.72"/><circle cx="403.2" cy="285.3" r="2.3" fill="#f2dae6" stroke="#dfb6d0" stroke-width="0.6" opacity="0.72"/><circle cx="397.5" cy="265.8" r="2.3" fill="#f2dae6" stroke="#dfb6d0" stroke-width="0.6" opacity="0.72"/><circle cx="432.2" cy="252.8" r="2.3" fill="#f2dae6" stroke="#dfb6d0" stroke-width="0.6" opacity="0.72"/><circle cx="381.2" cy="276.4" r="2.3" fill="#f2dae6" stroke="#dfb6d0" stroke-width="0.6" opacity="0.72"/><circle cx="412.1" cy="267.7" r="2.3" fill="#f2dae6" stroke="#dfb6d0" stroke-width="0.6" opacity="0.72"/><circle cx="406.7" cy="268.1" r="2.3" fill="#f2dae6" stroke="#dfb6d0" stroke-width="0.6" opacity="0.72"/><circle cx="414.8" cy="293.3" r="2.3" fill="#f2dae6" stroke="#dfb6d0" stroke-width="0.6" opacity="0.72"/><circle cx="426.2" cy="279.3" r="2.3" fill="#f2dae6" stroke="#dfb6d0" stroke-width="0.6" opacity="0.72"/><circle cx="400.3" cy="296.6" r="2.3" fill="#f2dae6" stroke="#dfb6d0" stroke-width="0.6" opacity="0.72"/><circle cx="398.7" cy="278.5" r="2.3" fill="#f2dae6" stroke="#dfb6d0" stroke-width="0.6" opacity="0.72"/><circle cx="429.3" cy="281.7" r="2.3" fill="#f2dae6" stroke="#dfb6d0" stroke-width="0.6" opacity="0.72"/><circle cx="394.5" cy="285.1" r="2.3" fill="#f2dae6" stroke="#dfb6d0" stroke-width="0.6" opacity="0.72"/><circle cx="409.8" cy="294.7" r="2.3" fill="#f2dae6" stroke="#dfb6d0" stroke-width="0.6" opacity="0.72"/><circle cx="411.5" cy="273.3" r="2.3" fill="#f2dae6" stroke="#dfb6d0" stroke-width="0.6" opacity="0.72"/><circle cx="437.0" cy="273.0" r="2.3" fill="#f2dae6" stroke="#dfb6d0" stroke-width="0.6" opacity="0.72"/><circle cx="395.1" cy="296.0" r="2.3" fill="#f2dae6" stroke="#dfb6d0" stroke-width="0.6" opacity="0.72"/><circle cx="434.8" cy="253.1" r="2.3" fill="#f2dae6" stroke="#dfb6d0" stroke-width="0.6" opacity="0.72"/><circle cx="371.4" cy="291.5" r="2.3" fill="#f2dae6" stroke="#dfb6d0" stroke-width="0.6" opacity="0.72"/><circle cx="430.4" cy="265.0" r="2.3" fill="#f2dae6" stroke="#dfb6d0" stroke-width="0.6" opacity="0.72"/><circle cx="384.6" cy="281.8" r="2.3" fill="#f2dae6" stroke="#dfb6d0" stroke-width="0.6" opacity="0.72"/><circle cx="434.5" cy="255.4" r="2.3" fill="#f2dae6" stroke="#dfb6d0" stroke-width="0.6" opacity="0.72"/><circle cx="398.7" cy="280.6" r="2.3" fill="#f2dae6" stroke="#dfb6d0" stroke-width="0.6" opacity="0.72"/><circle cx="382.2" cy="266.7" r="2.3" fill="#f2dae6" stroke="#dfb6d0" stroke-width="0.6" opacity="0.72"/><circle cx="376.5" cy="270.3" r="2.3" fill="#f2dae6" stroke="#dfb6d0" stroke-width="0.6" opacity="0.72"/><circle cx="382.8" cy="247.9" r="2.3" fill="#f2dae6" stroke="#dfb6d0" stroke-width="0.6" opacity="0.72"/><circle cx="394.4" cy="251.8" r="2.3" fill="#f2dae6" stroke="#dfb6d0" stroke-width="0.6" opacity="0.72"/><circle cx="374.8" cy="251.8" r="2.3" fill="#f2dae6" stroke="#dfb6d0" stroke-width="0.6" opacity="0.72"/><circle cx="396.5" cy="261.2" r="2.3" fill="#f2dae6" stroke="#dfb6d0" stroke-width="0.6" opacity="0.72"/><circle cx="419.1" cy="266.6" r="2.3" fill="#f2dae6" stroke="#dfb6d0" stroke-width="0.6" opacity="0.72"/><circle cx="383.8" cy="253.9" r="2.3" fill="#f2dae6" stroke="#dfb6d0" stroke-width="0.6" opacity="0.72"/><circle cx="387.7" cy="285.1" r="2.3" fill="#f2dae6" stroke="#dfb6d0" stroke-width="0.6" opacity="0.72"/><circle cx="380.8" cy="269.5" r="2.3" fill="#f2dae6" stroke="#dfb6d0" stroke-width="0.6" opacity="0.72"/><circle cx="424.8" cy="289.9" r="2.3" fill="#f2dae6" stroke="#dfb6d0" stroke-width="0.6" opacity="0.72"/><circle cx="399.8" cy="290.7" r="2.3" fill="#f2dae6" stroke="#dfb6d0" stroke-width="0.6" opacity="0.72"/><circle cx="412.9" cy="256.1" r="2.3" fill="#f2dae6" stroke="#dfb6d0" stroke-width="0.6" opacity="0.72"/><circle cx="372.9" cy="252.9" r="2.3" fill="#f2dae6" stroke="#dfb6d0" stroke-width="0.6" opacity="0.72"/><circle cx="423.6" cy="265.3" r="2.3" fill="#f2dae6" stroke="#dfb6d0" stroke-width="0.6" opacity="0.72"/><circle cx="427.1" cy="297.7" r="2.3" fill="#f2dae6" stroke="#dfb6d0" stroke-width="0.6" opacity="0.72"/><circle cx="433.0" cy="269.7" r="2.3" fill="#f2dae6" stroke="#dfb6d0" stroke-width="0.6" opacity="0.72"/><circle cx="366.7" cy="258.9" r="2.3" fill="#f2dae6" stroke="#dfb6d0" stroke-width="0.6" opacity="0.72"/><circle cx="382.0" cy="279.8" r="2.3" fill="#f2dae6" stroke="#dfb6d0" stroke-width="0.6" opacity="0.72"/><circle cx="417.2" cy="295.1" r="2.3" fill="#f2dae6" stroke="#dfb6d0" stroke-width="0.6" opacity="0.72"/><circle cx="417.4" cy="297.2" r="2.3" fill="#f2dae6" stroke="#dfb6d0" stroke-width="0.6" opacity="0.72"/><circle cx="412.6" cy="270.0" r="2.3" fill="#f2dae6" stroke="#dfb6d0" stroke-width="0.6" opacity="0.72"/><circle cx="427.0" cy="258.8" r="2.3" fill="#f2dae6" stroke="#dfb6d0" stroke-width="0.6" opacity="0.72"/><circle cx="422.8" cy="284.2" r="2.3" fill="#f2dae6" stroke="#dfb6d0" stroke-width="0.6" opacity="0.72"/><circle cx="429.2" cy="246.8" r="2.3" fill="#f2dae6" stroke="#dfb6d0" stroke-width="0.6" opacity="0.72"/><circle cx="379.8" cy="296.7" r="2.3" fill="#f2dae6" stroke="#dfb6d0" stroke-width="0.6" opacity="0.72"/><circle cx="376.4" cy="268.7" r="2.3" fill="#f2dae6" stroke="#dfb6d0" stroke-width="0.6" opacity="0.72"/><circle cx="409.9" cy="270.4" r="2.3" fill="#f2dae6" stroke="#dfb6d0" stroke-width="0.6" opacity="0.72"/><circle cx="430.1" cy="297.0" r="2.3" fill="#f2dae6" stroke="#dfb6d0" stroke-width="0.6" opacity="0.72"/><circle cx="390.9" cy="250.9" r="2.3" fill="#f2dae6" stroke="#dfb6d0" stroke-width="0.6" opacity="0.72"/><circle cx="432.7" cy="268.8" r="2.3" fill="#f2dae6" stroke="#dfb6d0" stroke-width="0.6" opacity="0.72"/><circle cx="384.2" cy="251.2" r="2.3" fill="#f2dae6" stroke="#dfb6d0" stroke-width="0.6" opacity="0.72"/><circle cx="366.8" cy="276.1" r="2.3" fill="#f2dae6" stroke="#dfb6d0" stroke-width="0.6" opacity="0.72"/><circle cx="386.6" cy="274.6" r="2.3" fill="#f2dae6" stroke="#dfb6d0" stroke-width="0.6" opacity="0.72"/><circle cx="433.4" cy="270.6" r="2.3" fill="#f2dae6" stroke="#dfb6d0" stroke-width="0.6" opacity="0.72"/><circle cx="435.5" cy="247.1" r="2.3" fill="#f2dae6" stroke="#dfb6d0" stroke-width="0.6" opacity="0.72"/><circle cx="421.3" cy="285.7" r="2.3" fill="#f2dae6" stroke="#dfb6d0" stroke-width="0.6" opacity="0.72"/><circle cx="435.9" cy="245.1" r="2.3" fill="#f2dae6" stroke="#dfb6d0" stroke-width="0.6" opacity="0.72"/><circle cx="403.0" cy="274.6" r="2.3" fill="#f2dae6" stroke="#dfb6d0" stroke-width="0.6" opacity="0.72"/><circle cx="409.7" cy="269.8" r="2.3" fill="#f2dae6" stroke="#dfb6d0" stroke-width="0.6" opacity="0.72"/><circle cx="386.0" cy="294.0" r="2.3" fill="#f2dae6" stroke="#dfb6d0" stroke-width="0.6" opacity="0.72"/><circle cx="430.0" cy="282.7" r="2.3" fill="#f2dae6" stroke="#dfb6d0" stroke-width="0.6" opacity="0.72"/><circle cx="435.9" cy="274.4" r="2.3" fill="#f2dae6" stroke="#dfb6d0" stroke-width="0.6" opacity="0.72"/><circle cx="371.9" cy="282.3" r="2.3" fill="#f2dae6" stroke="#dfb6d0" stroke-width="0.6" opacity="0.72"/><circle cx="373.7" cy="285.5" r="2.3" fill="#f2dae6" stroke="#dfb6d0" stroke-width="0.6" opacity="0.72"/><circle cx="413.3" cy="255.0" r="2.3" fill="#f2dae6" stroke="#dfb6d0" stroke-width="0.6" opacity="0.72"/><circle cx="377.2" cy="247.2" r="2.3" fill="#f2dae6" stroke="#dfb6d0" stroke-width="0.6" opacity="0.72"/><ellipse cx="407.0" cy="274.4" rx="3.8" ry="3.8" fill="#7b3f98"/><ellipse cx="406.4" cy="273.9" rx="2.28" ry="2.28" fill="#6a2f88" opacity="0.6"/><circle cx="382.8" cy="292.5" r="0.45" fill="#4a2a70"/><circle cx="385.6" cy="288.8" r="0.45" fill="#4a2a70"/><circle cx="380.5" cy="266.9" r="0.45" fill="#4a2a70"/><circle cx="399.1" cy="267.7" r="0.45" fill="#4a2a70"/><circle cx="426.1" cy="263.0" r="0.45" fill="#4a2a70"/><circle cx="399.7" cy="261.6" r="0.45" fill="#4a2a70"/><circle cx="379.1" cy="281.0" r="0.45" fill="#4a2a70"/><circle cx="391.8" cy="272.9" r="0.45" fill="#4a2a70"/><circle cx="411.2" cy="257.0" r="0.45" fill="#4a2a70"/><circle cx="376.1" cy="280.9" r="0.45" fill="#4a2a70"/></g>
<rect x="368.10" y="245.40" width="68.80" height="52.10" fill="none" stroke="#8a8a8a" stroke-width="0.7" />
<text transform="translate(370.60,252.10)" font-size="5.0" text-anchor="start" fill="#2e5597" font-weight="normal" font-style="normal" textLength="20.60" lengthAdjust="spacingAndGlyphs" stroke="#2e5597" stroke-width="0.04" >Eμ-TCL1</text>
<g clip-path="url(#e3)"><rect x="438.9" y="245.4" width="68.3" height="52.1" fill="#f9f3ef"/><circle cx="507.7" cy="269.0" r="2.3" fill="#f3d8e0" stroke="#e2b4c8" stroke-width="0.6" opacity="0.72"/><circle cx="488.9" cy="284.6" r="2.3" fill="#f3d8e0" stroke="#e2b4c8" stroke-width="0.6" opacity="0.72"/><circle cx="452.4" cy="247.8" r="2.3" fill="#f3d8e0" stroke="#e2b4c8" stroke-width="0.6" opacity="0.72"/><circle cx="480.5" cy="250.2" r="2.3" fill="#f3d8e0" stroke="#e2b4c8" stroke-width="0.6" opacity="0.72"/><circle cx="464.5" cy="293.3" r="2.3" fill="#f3d8e0" stroke="#e2b4c8" stroke-width="0.6" opacity="0.72"/><circle cx="500.0" cy="250.1" r="2.3" fill="#f3d8e0" stroke="#e2b4c8" stroke-width="0.6" opacity="0.72"/><circle cx="442.8" cy="255.9" r="2.3" fill="#f3d8e0" stroke="#e2b4c8" stroke-width="0.6" opacity="0.72"/><circle cx="496.8" cy="244.8" r="2.3" fill="#f3d8e0" stroke="#e2b4c8" stroke-width="0.6" opacity="0.72"/><circle cx="453.2" cy="249.4" r="2.3" fill="#f3d8e0" stroke="#e2b4c8" stroke-width="0.6" opacity="0.72"/><circle cx="446.1" cy="272.8" r="2.3" fill="#f3d8e0" stroke="#e2b4c8" stroke-width="0.6" opacity="0.72"/><circle cx="450.2" cy="266.4" r="2.3" fill="#f3d8e0" stroke="#e2b4c8" stroke-width="0.6" opacity="0.72"/><circle cx="489.9" cy="284.0" r="2.3" fill="#f3d8e0" stroke="#e2b4c8" stroke-width="0.6" opacity="0.72"/><circle cx="466.9" cy="287.5" r="2.3" fill="#f3d8e0" stroke="#e2b4c8" stroke-width="0.6" opacity="0.72"/><circle cx="478.3" cy="289.8" r="2.3" fill="#f3d8e0" stroke="#e2b4c8" stroke-width="0.6" opacity="0.72"/><circle cx="454.9" cy="264.1" r="2.3" fill="#f3d8e0" stroke="#e2b4c8" stroke-width="0.6" opacity="0.72"/><circle cx="478.9" cy="296.5" r="2.3" fill="#f3d8e0" stroke="#e2b4c8" stroke-width="0.6" opacity="0.72"/><circle cx="481.6" cy="270.0" r="2.3" fill="#f3d8e0" stroke="#e2b4c8" stroke-width="0.6" opacity="0.72"/><circle cx="455.0" cy="259.2" r="2.3" fill="#f3d8e0" stroke="#e2b4c8" stroke-width="0.6" opacity="0.72"/><circle cx="452.5" cy="298.7" r="2.3" fill="#f3d8e0" stroke="#e2b4c8" stroke-width="0.6" opacity="0.72"/><circle cx="501.0" cy="293.6" r="2.3" fill="#f3d8e0" stroke="#e2b4c8" stroke-width="0.6" opacity="0.72"/><circle cx="475.1" cy="283.1" r="2.3" fill="#f3d8e0" stroke="#e2b4c8" stroke-width="0.6" opacity="0.72"/><circle cx="458.3" cy="270.4" r="2.3" fill="#f3d8e0" stroke="#e2b4c8" stroke-width="0.6" opacity="0.72"/><circle cx="447.4" cy="267.0" r="2.3" fill="#f3d8e0" stroke="#e2b4c8" stroke-width="0.6" opacity="0.72"/><circle cx="455.2" cy="249.0" r="2.3" fill="#f3d8e0" stroke="#e2b4c8" stroke-width="0.6" opacity="0.72"/><circle cx="503.4" cy="248.8" r="2.3" fill="#f3d8e0" stroke="#e2b4c8" stroke-width="0.6" opacity="0.72"/><circle cx="495.7" cy="282.6" r="2.3" fill="#f3d8e0" stroke="#e2b4c8" stroke-width="0.6" opacity="0.72"/><circle cx="443.4" cy="270.6" r="2.3" fill="#f3d8e0" stroke="#e2b4c8" stroke-width="0.6" opacity="0.72"/><circle cx="508.9" cy="298.8" r="2.3" fill="#f3d8e0" stroke="#e2b4c8" stroke-width="0.6" opacity="0.72"/><circle cx="477.6" cy="286.7" r="2.3" fill="#f3d8e0" stroke="#e2b4c8" stroke-width="0.6" opacity="0.72"/><circle cx="488.1" cy="259.8" r="2.3" fill="#f3d8e0" stroke="#e2b4c8" stroke-width="0.6" opacity="0.72"/><circle cx="476.7" cy="276.9" r="2.3" fill="#f3d8e0" stroke="#e2b4c8" stroke-width="0.6" opacity="0.72"/><circle cx="465.4" cy="289.3" r="2.3" fill="#f3d8e0" stroke="#e2b4c8" stroke-width="0.6" opacity="0.72"/><circle cx="469.0" cy="285.4" r="2.3" fill="#f3d8e0" stroke="#e2b4c8" stroke-width="0.6" opacity="0.72"/><circle cx="441.6" cy="268.4" r="2.3" fill="#f3d8e0" stroke="#e2b4c8" stroke-width="0.6" opacity="0.72"/><circle cx="440.1" cy="279.7" r="2.3" fill="#f3d8e0" stroke="#e2b4c8" stroke-width="0.6" opacity="0.72"/><circle cx="500.0" cy="273.9" r="2.3" fill="#f3d8e0" stroke="#e2b4c8" stroke-width="0.6" opacity="0.72"/><circle cx="477.8" cy="278.3" r="2.3" fill="#f3d8e0" stroke="#e2b4c8" stroke-width="0.6" opacity="0.72"/><circle cx="453.5" cy="265.1" r="2.3" fill="#f3d8e0" stroke="#e2b4c8" stroke-width="0.6" opacity="0.72"/><circle cx="478.7" cy="279.7" r="2.3" fill="#f3d8e0" stroke="#e2b4c8" stroke-width="0.6" opacity="0.72"/><circle cx="464.4" cy="270.2" r="2.3" fill="#f3d8e0" stroke="#e2b4c8" stroke-width="0.6" opacity="0.72"/><circle cx="460.8" cy="274.5" r="2.3" fill="#f3d8e0" stroke="#e2b4c8" stroke-width="0.6" opacity="0.72"/><circle cx="485.8" cy="261.8" r="2.3" fill="#f3d8e0" stroke="#e2b4c8" stroke-width="0.6" opacity="0.72"/><circle cx="486.4" cy="291.0" r="2.3" fill="#f3d8e0" stroke="#e2b4c8" stroke-width="0.6" opacity="0.72"/><circle cx="475.7" cy="298.4" r="2.3" fill="#f3d8e0" stroke="#e2b4c8" stroke-width="0.6" opacity="0.72"/><circle cx="459.3" cy="295.0" r="2.3" fill="#f3d8e0" stroke="#e2b4c8" stroke-width="0.6" opacity="0.72"/><circle cx="450.1" cy="263.8" r="2.3" fill="#f3d8e0" stroke="#e2b4c8" stroke-width="0.6" opacity="0.72"/><circle cx="496.0" cy="245.2" r="2.3" fill="#f3d8e0" stroke="#e2b4c8" stroke-width="0.6" opacity="0.72"/><circle cx="481.3" cy="292.3" r="2.3" fill="#f3d8e0" stroke="#e2b4c8" stroke-width="0.6" opacity="0.72"/><circle cx="505.2" cy="281.7" r="2.3" fill="#f3d8e0" stroke="#e2b4c8" stroke-width="0.6" opacity="0.72"/><circle cx="461.9" cy="262.0" r="2.3" fill="#f3d8e0" stroke="#e2b4c8" stroke-width="0.6" opacity="0.72"/><circle cx="482.5" cy="247.1" r="2.3" fill="#f3d8e0" stroke="#e2b4c8" stroke-width="0.6" opacity="0.72"/><circle cx="438.9" cy="292.9" r="2.3" fill="#f3d8e0" stroke="#e2b4c8" stroke-width="0.6" opacity="0.72"/><circle cx="482.2" cy="252.5" r="2.3" fill="#f3d8e0" stroke="#e2b4c8" stroke-width="0.6" opacity="0.72"/><circle cx="467.9" cy="259.6" r="2.3" fill="#f3d8e0" stroke="#e2b4c8" stroke-width="0.6" opacity="0.72"/><circle cx="499.7" cy="259.5" r="2.3" fill="#f3d8e0" stroke="#e2b4c8" stroke-width="0.6" opacity="0.72"/><circle cx="489.3" cy="285.1" r="2.3" fill="#f3d8e0" stroke="#e2b4c8" stroke-width="0.6" opacity="0.72"/><circle cx="459.9" cy="257.5" r="2.3" fill="#f3d8e0" stroke="#e2b4c8" stroke-width="0.6" opacity="0.72"/><circle cx="474.6" cy="265.8" r="2.3" fill="#f3d8e0" stroke="#e2b4c8" stroke-width="0.6" opacity="0.72"/><circle cx="479.8" cy="261.8" r="2.3" fill="#f3d8e0" stroke="#e2b4c8" stroke-width="0.6" opacity="0.72"/><circle cx="494.3" cy="267.0" r="2.3" fill="#f3d8e0" stroke="#e2b4c8" stroke-width="0.6" opacity="0.72"/><circle cx="446.7" cy="286.9" r="2.3" fill="#f3d8e0" stroke="#e2b4c8" stroke-width="0.6" opacity="0.72"/><circle cx="501.6" cy="281.6" r="2.3" fill="#f3d8e0" stroke="#e2b4c8" stroke-width="0.6" opacity="0.72"/><circle cx="476.4" cy="292.3" r="2.3" fill="#f3d8e0" stroke="#e2b4c8" stroke-width="0.6" opacity="0.72"/><circle cx="504.4" cy="243.9" r="2.3" fill="#f3d8e0" stroke="#e2b4c8" stroke-width="0.6" opacity="0.72"/><circle cx="472.2" cy="244.5" r="2.3" fill="#f3d8e0" stroke="#e2b4c8" stroke-width="0.6" opacity="0.72"/><circle cx="461.0" cy="257.0" r="2.3" fill="#f3d8e0" stroke="#e2b4c8" stroke-width="0.6" opacity="0.72"/><circle cx="470.3" cy="281.4" r="2.3" fill="#f3d8e0" stroke="#e2b4c8" stroke-width="0.6" opacity="0.72"/><circle cx="499.1" cy="258.0" r="2.3" fill="#f3d8e0" stroke="#e2b4c8" stroke-width="0.6" opacity="0.72"/><circle cx="437.7" cy="299.4" r="2.3" fill="#f3d8e0" stroke="#e2b4c8" stroke-width="0.6" opacity="0.72"/><circle cx="493.4" cy="274.3" r="2.3" fill="#f3d8e0" stroke="#e2b4c8" stroke-width="0.6" opacity="0.72"/><circle cx="445.0" cy="246.3" r="2.3" fill="#f3d8e0" stroke="#e2b4c8" stroke-width="0.6" opacity="0.72"/><circle cx="504.4" cy="273.1" r="2.3" fill="#f3d8e0" stroke="#e2b4c8" stroke-width="0.6" opacity="0.72"/><circle cx="499.1" cy="287.4" r="2.3" fill="#f3d8e0" stroke="#e2b4c8" stroke-width="0.6" opacity="0.72"/><circle cx="491.2" cy="288.6" r="2.3" fill="#f3d8e0" stroke="#e2b4c8" stroke-width="0.6" opacity="0.72"/><circle cx="455.2" cy="257.2" r="2.3" fill="#f3d8e0" stroke="#e2b4c8" stroke-width="0.6" opacity="0.72"/><circle cx="468.3" cy="286.5" r="2.3" fill="#f3d8e0" stroke="#e2b4c8" stroke-width="0.6" opacity="0.72"/><circle cx="494.3" cy="285.9" r="2.3" fill="#f3d8e0" stroke="#e2b4c8" stroke-width="0.6" opacity="0.72"/><circle cx="478.8" cy="270.1" r="2.3" fill="#f3d8e0" stroke="#e2b4c8" stroke-width="0.6" opacity="0.72"/><circle cx="450.9" cy="280.8" r="2.3" fill="#f3d8e0" stroke="#e2b4c8" stroke-width="0.6" opacity="0.72"/><circle cx="484.2" cy="272.3" r="2.3" fill="#f3d8e0" stroke="#e2b4c8" stroke-width="0.6" opacity="0.72"/><circle cx="489.4" cy="298.3" r="2.3" fill="#f3d8e0" stroke="#e2b4c8" stroke-width="0.6" opacity="0.72"/><circle cx="505.1" cy="249.4" r="2.3" fill="#f3d8e0" stroke="#e2b4c8" stroke-width="0.6" opacity="0.72"/><circle cx="457.7" cy="277.8" r="2.3" fill="#f3d8e0" stroke="#e2b4c8" stroke-width="0.6" opacity="0.72"/><circle cx="486.8" cy="259.4" r="2.3" fill="#f3d8e0" stroke="#e2b4c8" stroke-width="0.6" opacity="0.72"/><circle cx="504.2" cy="269.3" r="2.3" fill="#f3d8e0" stroke="#e2b4c8" stroke-width="0.6" opacity="0.72"/><circle cx="492.2" cy="246.3" r="2.3" fill="#f3d8e0" stroke="#e2b4c8" stroke-width="0.6" opacity="0.72"/><circle cx="457.1" cy="244.7" r="2.3" fill="#f3d8e0" stroke="#e2b4c8" stroke-width="0.6" opacity="0.72"/><circle cx="494.1" cy="272.7" r="2.3" fill="#f3d8e0" stroke="#e2b4c8" stroke-width="0.6" opacity="0.72"/><circle cx="505.8" cy="277.4" r="2.3" fill="#f3d8e0" stroke="#e2b4c8" stroke-width="0.6" opacity="0.72"/><circle cx="460.4" cy="263.4" r="2.3" fill="#f3d8e0" stroke="#e2b4c8" stroke-width="0.6" opacity="0.72"/><circle cx="464.0" cy="254.5" r="2.3" fill="#f3d8e0" stroke="#e2b4c8" stroke-width="0.6" opacity="0.72"/><circle cx="444.7" cy="279.8" r="2.3" fill="#f3d8e0" stroke="#e2b4c8" stroke-width="0.6" opacity="0.72"/><circle cx="459.6" cy="268.8" r="2.3" fill="#f3d8e0" stroke="#e2b4c8" stroke-width="0.6" opacity="0.72"/><circle cx="488.2" cy="258.8" r="2.3" fill="#f3d8e0" stroke="#e2b4c8" stroke-width="0.6" opacity="0.72"/><circle cx="468.7" cy="261.6" r="2.3" fill="#f3d8e0" stroke="#e2b4c8" stroke-width="0.6" opacity="0.72"/><circle cx="460.3" cy="280.8" r="2.3" fill="#f3d8e0" stroke="#e2b4c8" stroke-width="0.6" opacity="0.72"/><circle cx="444.0" cy="265.8" r="2.3" fill="#f3d8e0" stroke="#e2b4c8" stroke-width="0.6" opacity="0.72"/><circle cx="444.8" cy="281.0" r="2.3" fill="#f3d8e0" stroke="#e2b4c8" stroke-width="0.6" opacity="0.72"/><circle cx="458.4" cy="297.5" r="2.3" fill="#f3d8e0" stroke="#e2b4c8" stroke-width="0.6" opacity="0.72"/><circle cx="471.8" cy="280.5" r="2.3" fill="#f3d8e0" stroke="#e2b4c8" stroke-width="0.6" opacity="0.72"/><circle cx="474.8" cy="289.4" r="2.3" fill="#f3d8e0" stroke="#e2b4c8" stroke-width="0.6" opacity="0.72"/><circle cx="487.6" cy="279.4" r="2.3" fill="#f3d8e0" stroke="#e2b4c8" stroke-width="0.6" opacity="0.72"/><circle cx="439.2" cy="251.4" r="2.3" fill="#f3d8e0" stroke="#e2b4c8" stroke-width="0.6" opacity="0.72"/><circle cx="491.2" cy="266.5" r="2.3" fill="#f3d8e0" stroke="#e2b4c8" stroke-width="0.6" opacity="0.72"/><circle cx="507.4" cy="279.1" r="2.3" fill="#f3d8e0" stroke="#e2b4c8" stroke-width="0.6" opacity="0.72"/><circle cx="496.4" cy="285.2" r="2.3" fill="#f3d8e0" stroke="#e2b4c8" stroke-width="0.6" opacity="0.72"/><circle cx="506.5" cy="280.3" r="2.3" fill="#f3d8e0" stroke="#e2b4c8" stroke-width="0.6" opacity="0.72"/><circle cx="504.7" cy="267.3" r="2.3" fill="#f3d8e0" stroke="#e2b4c8" stroke-width="0.6" opacity="0.72"/><circle cx="456.2" cy="249.6" r="2.3" fill="#f3d8e0" stroke="#e2b4c8" stroke-width="0.6" opacity="0.72"/><circle cx="455.2" cy="293.6" r="2.3" fill="#f3d8e0" stroke="#e2b4c8" stroke-width="0.6" opacity="0.72"/><circle cx="484.5" cy="245.8" r="2.3" fill="#f3d8e0" stroke="#e2b4c8" stroke-width="0.6" opacity="0.72"/><circle cx="438.9" cy="269.2" r="2.3" fill="#f3d8e0" stroke="#e2b4c8" stroke-width="0.6" opacity="0.72"/><circle cx="476.3" cy="263.6" r="2.3" fill="#f3d8e0" stroke="#e2b4c8" stroke-width="0.6" opacity="0.72"/><circle cx="438.3" cy="258.1" r="2.3" fill="#f3d8e0" stroke="#e2b4c8" stroke-width="0.6" opacity="0.72"/><circle cx="500.3" cy="284.1" r="2.3" fill="#f3d8e0" stroke="#e2b4c8" stroke-width="0.6" opacity="0.72"/><circle cx="496.1" cy="258.5" r="2.3" fill="#f3d8e0" stroke="#e2b4c8" stroke-width="0.6" opacity="0.72"/><circle cx="485.2" cy="254.5" r="2.3" fill="#f3d8e0" stroke="#e2b4c8" stroke-width="0.6" opacity="0.72"/><circle cx="458.7" cy="297.0" r="2.3" fill="#f3d8e0" stroke="#e2b4c8" stroke-width="0.6" opacity="0.72"/><circle cx="452.3" cy="259.8" r="2.3" fill="#f3d8e0" stroke="#e2b4c8" stroke-width="0.6" opacity="0.72"/><circle cx="452.6" cy="292.1" r="2.3" fill="#f3d8e0" stroke="#e2b4c8" stroke-width="0.6" opacity="0.72"/><ellipse cx="455.4" cy="271.6" rx="5.0" ry="3.6" fill="#8a58b0"/><ellipse cx="454.79999999999995" cy="271.1" rx="3.0" ry="2.16" fill="#6a2f88" opacity="0.6"/><ellipse cx="484.5" cy="267.8" rx="3.4" ry="3.2" fill="#8a58b0"/><ellipse cx="483.9" cy="267.3" rx="2.04" ry="1.92" fill="#6a2f88" opacity="0.6"/></g>
<rect x="438.90" y="245.40" width="68.30" height="52.10" fill="none" stroke="#8a8a8a" stroke-width="0.7" />
<text transform="translate(441.40,252.10)" font-size="5.0" text-anchor="start" fill="#c31f3d" font-weight="normal" font-style="normal" textLength="29.30" lengthAdjust="spacingAndGlyphs" stroke="#c31f3d" stroke-width="0.04" >Eμ-TCL1<tspan font-size="3" dy="-2.3">Akt-C</tspan></text>
<text transform="translate(41.20,329.50)" font-size="7.9" text-anchor="middle" fill="#111" font-weight="normal" font-style="normal" textLength="20.20" lengthAdjust="spacingAndGlyphs" stroke="#111" stroke-width="0.18" >3-4 m</text>
<text transform="translate(104.10,329.30)" font-size="7.9" text-anchor="middle" fill="#111" font-weight="normal" font-style="normal" textLength="20.40" lengthAdjust="spacingAndGlyphs" stroke="#111" stroke-width="0.18" >7-8 m</text>
<line x1="13.20" y1="334.40" x2="70.00" y2="334.40" stroke="#231f20" stroke-width="0.9" />
<line x1="76.00" y1="334.30" x2="131.80" y2="334.30" stroke="#231f20" stroke-width="0.9" />
<text transform="translate(12.90,344.50)" font-size="5.4" text-anchor="start" fill="#2e5597" font-weight="normal" font-style="normal" textLength="20.80" lengthAdjust="spacingAndGlyphs" stroke="#2e5597" stroke-width="0.05" >Eμ-TCL1</text>
<text transform="translate(37.70,344.50)" font-size="5.4" text-anchor="start" fill="#c31f3d" font-weight="normal" font-style="normal" textLength="28.80" lengthAdjust="spacingAndGlyphs" stroke="#c31f3d" stroke-width="0.05" >Eμ-TCL1<tspan font-size="3" dy="-2.3">Akt-C</tspan></text>
<text transform="translate(75.50,344.70)" font-size="5.4" text-anchor="start" fill="#2e5597" font-weight="normal" font-style="normal" textLength="20.90" lengthAdjust="spacingAndGlyphs" stroke="#2e5597" stroke-width="0.05" >Eμ-TCL1</text>
<text transform="translate(99.80,344.70)" font-size="5.4" text-anchor="start" fill="#c31f3d" font-weight="normal" font-style="normal" textLength="27.20" lengthAdjust="spacingAndGlyphs" stroke="#c31f3d" stroke-width="0.05" >Eμ-TCL1<tspan font-size="3" dy="-2.3">Akt-C</tspan></text>
<rect x="15.00" y="349.80" width="18.80" height="43.00" fill="url(#grid)" stroke="#6a6a6a" stroke-width="0.6" />
<path d="M22.5,351.0 C23.6,350.7 25.2,351.7 26.5,353.0 C27.8,354.3 29.3,356.8 30.0,359.0 C30.7,361.2 30.7,363.5 30.8,366.0 C30.9,368.5 30.6,371.3 30.4,374.0 C30.2,376.7 29.9,379.5 29.4,382.0 C28.9,384.5 28.4,387.4 27.3,389.0 C26.2,390.6 24.4,391.2 23.0,391.6 C21.6,392.0 19.9,392.0 19.0,391.2 C18.1,390.4 17.5,389.0 17.3,387.0 C17.1,385.0 17.5,381.7 17.8,379.0 C18.1,376.3 19.0,373.8 19.3,371.0 C19.6,368.2 19.7,364.7 19.8,362.0 C19.9,359.3 19.6,356.8 20.0,355.0 C20.4,353.2 21.4,351.3 22.5,351.0 Z" fill="#3a1822"/>
<rect x="43.00" y="350.00" width="18.00" height="39.80" fill="url(#grid)" stroke="#6a6a6a" stroke-width="0.6" />
<path d="M51.5,352.0 C52.3,352.3 54.0,352.7 55.0,354.0 C56.0,355.3 57.2,357.7 57.6,360.0 C58.0,362.3 57.4,365.3 57.2,368.0 C57.0,370.7 56.7,373.5 56.2,376.0 C55.7,378.5 55.0,381.1 54.2,383.0 C53.4,384.9 52.6,386.4 51.5,387.2 C50.4,388.0 48.5,388.1 47.5,387.6 C46.5,387.1 45.8,385.9 45.4,384.0 C45.0,382.1 45.2,378.7 45.4,376.0 C45.6,373.3 46.4,370.5 46.8,368.0 C47.2,365.5 47.5,363.2 47.8,361.0 C48.1,358.8 48.0,356.5 48.4,355.0 C48.8,353.5 49.5,352.7 50.0,352.2 C50.5,351.7 50.7,351.7 51.5,352.0 Z" fill="#380b1b"/>
<rect x="76.60" y="349.70" width="17.40" height="39.00" fill="url(#grid)" stroke="#6a6a6a" stroke-width="0.6" />
<path d="M82.8,351.8 C83.9,351.4 86.6,351.9 87.9,352.6 C89.2,353.3 90.2,354.4 90.8,356.2 C91.4,358.0 91.4,360.6 91.3,363.5 C91.2,366.4 90.7,370.8 90.1,373.8 C89.5,376.9 88.9,379.8 87.9,381.8 C86.9,383.8 85.4,385.2 84.2,385.8 C83.0,386.4 81.4,386.2 80.6,385.5 C79.8,384.8 79.6,383.5 79.6,381.8 C79.6,380.1 80.2,377.5 80.6,375.2 C81.0,372.9 81.6,370.4 82.0,368.0 C82.4,365.6 82.9,362.8 82.8,360.6 C82.7,358.4 81.3,356.3 81.3,354.8 C81.3,353.3 81.7,352.2 82.8,351.8 Z" fill="#862c26"/>
<rect x="98.10" y="349.70" width="33.90" height="81.80" fill="url(#grid)" stroke="#6a6a6a" stroke-width="0.6" />
<path d="M107.6,352.6 C109.2,351.9 112.7,352.2 114.9,353.3 C117.1,354.4 119.0,356.5 120.8,359.2 C122.6,361.9 124.6,365.5 125.9,369.4 C127.2,373.3 128.2,378.2 128.8,382.6 C129.4,387.0 129.7,391.2 129.6,395.7 C129.5,400.2 129.0,405.3 128.2,409.5 C127.4,413.7 126.6,417.9 125.0,421.0 C123.4,424.1 121.2,426.8 118.5,428.2 C115.8,429.6 111.4,429.6 108.5,429.6 C105.6,429.6 102.9,429.3 101.2,428.0 C99.5,426.7 98.9,424.7 98.6,422.0 C98.3,419.3 98.8,415.2 99.6,411.8 C100.4,408.4 102.3,405.2 103.2,401.6 C104.1,398.0 104.3,393.8 104.7,389.9 C105.1,386.0 105.3,381.9 105.4,378.2 C105.5,374.5 105.5,371.3 105.4,367.9 C105.3,364.5 104.6,360.2 105.0,357.7 C105.4,355.1 105.9,353.3 107.6,352.6 Z" fill="#6e201e"/>
<path d="M24,358 C26,362 27,368 25,372 M52,358 C54,362 54,366 53,370" stroke="#7a5060" stroke-width="1.6" fill="none" opacity="0.5"/>
<ellipse cx="113" cy="380" rx="6" ry="16" fill="#8a3632" opacity="0.3"/>
<path d="M115,366 C117,362 119,364 118,368 M117,372 l2,3 M113,388 C115,386 116,389 115,392 M119,392 l2,4 l-1,3 M117,402 C119,400 121,404 119,408 M116,412 l1,4 M120,413 l-2,3" stroke="#e0c8c4" stroke-width="0.9" fill="none" opacity="0.85"/>
<text transform="translate(81.40,474.50)" font-size="8.5" text-anchor="middle" fill="#111" font-weight="normal" font-style="normal" textLength="24.60" lengthAdjust="spacingAndGlyphs" stroke="#111" stroke-width="0.18" >Spleen</text>
<line x1="12.30" y1="479.30" x2="150.80" y2="479.30" stroke="#231f20" stroke-width="0.9" />
<g clip-path="url(#h0)"><rect x="11.2" y="482.3" width="69.3" height="51.7" fill="#d298c2"/><circle cx="14.4" cy="492.8" r="0.65" fill="#b070a8" opacity="0.6"/><circle cx="60.3" cy="489.7" r="0.65" fill="#b070a8" opacity="0.6"/><circle cx="70.8" cy="496.1" r="0.65" fill="#b070a8" opacity="0.6"/><circle cx="12.0" cy="505.0" r="0.65" fill="#b070a8" opacity="0.6"/><circle cx="22.8" cy="483.1" r="0.65" fill="#b070a8" opacity="0.6"/><circle cx="30.5" cy="506.1" r="0.65" fill="#b070a8" opacity="0.6"/><circle cx="24.6" cy="526.4" r="0.65" fill="#b070a8" opacity="0.6"/><circle cx="32.0" cy="518.5" r="0.65" fill="#b070a8" opacity="0.6"/><circle cx="35.5" cy="487.5" r="0.65" fill="#b070a8" opacity="0.6"/><circle cx="41.3" cy="517.7" r="0.65" fill="#b070a8" opacity="0.6"/><circle cx="44.9" cy="515.5" r="0.65" fill="#b070a8" opacity="0.6"/><circle cx="19.6" cy="489.5" r="0.65" fill="#b070a8" opacity="0.6"/><circle cx="20.2" cy="507.7" r="0.65" fill="#b070a8" opacity="0.6"/><circle cx="70.9" cy="502.1" r="0.65" fill="#b070a8" opacity="0.6"/><circle cx="68.0" cy="488.0" r="0.65" fill="#b070a8" opacity="0.6"/><circle cx="26.8" cy="517.1" r="0.65" fill="#b070a8" opacity="0.6"/><circle cx="65.6" cy="523.3" r="0.65" fill="#b070a8" opacity="0.6"/><circle cx="21.3" cy="510.3" r="0.65" fill="#b070a8" opacity="0.6"/><circle cx="27.7" cy="521.0" r="0.65" fill="#b070a8" opacity="0.6"/><circle cx="51.4" cy="517.9" r="0.65" fill="#b070a8" opacity="0.6"/><circle cx="65.5" cy="533.3" r="0.65" fill="#b070a8" opacity="0.6"/><circle cx="43.5" cy="533.7" r="0.65" fill="#b070a8" opacity="0.6"/><circle cx="31.3" cy="527.9" r="0.65" fill="#b070a8" opacity="0.6"/><circle cx="18.5" cy="519.3" r="0.65" fill="#b070a8" opacity="0.6"/><circle cx="73.3" cy="511.0" r="0.65" fill="#b070a8" opacity="0.6"/><circle cx="36.2" cy="525.0" r="0.65" fill="#b070a8" opacity="0.6"/><circle cx="67.6" cy="519.2" r="0.65" fill="#b070a8" opacity="0.6"/><circle cx="35.1" cy="508.9" r="0.65" fill="#b070a8" opacity="0.6"/><circle cx="11.3" cy="509.6" r="0.65" fill="#b070a8" opacity="0.6"/><circle cx="32.5" cy="517.2" r="0.65" fill="#b070a8" opacity="0.6"/><circle cx="12.6" cy="505.5" r="0.65" fill="#b070a8" opacity="0.6"/><circle cx="19.4" cy="500.2" r="0.65" fill="#b070a8" opacity="0.6"/><circle cx="79.0" cy="521.6" r="0.65" fill="#b070a8" opacity="0.6"/><circle cx="55.9" cy="501.1" r="0.65" fill="#b070a8" opacity="0.6"/><circle cx="18.1" cy="483.9" r="0.65" fill="#b070a8" opacity="0.6"/><circle cx="49.0" cy="533.2" r="0.65" fill="#b070a8" opacity="0.6"/><circle cx="62.2" cy="493.3" r="0.65" fill="#b070a8" opacity="0.6"/><circle cx="78.5" cy="493.9" r="0.65" fill="#b070a8" opacity="0.6"/><circle cx="14.4" cy="508.6" r="0.65" fill="#b070a8" opacity="0.6"/><circle cx="42.3" cy="485.8" r="0.65" fill="#b070a8" opacity="0.6"/><circle cx="74.9" cy="497.4" r="0.65" fill="#b070a8" opacity="0.6"/><circle cx="38.4" cy="484.4" r="0.65" fill="#b070a8" opacity="0.6"/><circle cx="12.1" cy="531.3" r="0.65" fill="#b070a8" opacity="0.6"/><circle cx="78.1" cy="514.5" r="0.65" fill="#b070a8" opacity="0.6"/><circle cx="14.6" cy="489.7" r="0.65" fill="#b070a8" opacity="0.6"/><circle cx="20.7" cy="482.9" r="0.65" fill="#b070a8" opacity="0.6"/><circle cx="66.4" cy="505.8" r="0.65" fill="#b070a8" opacity="0.6"/><circle cx="13.3" cy="496.0" r="0.65" fill="#b070a8" opacity="0.6"/><circle cx="43.1" cy="509.1" r="0.65" fill="#b070a8" opacity="0.6"/><circle cx="47.1" cy="489.2" r="0.65" fill="#b070a8" opacity="0.6"/><circle cx="66.6" cy="487.4" r="0.65" fill="#b070a8" opacity="0.6"/><circle cx="41.8" cy="520.0" r="0.65" fill="#b070a8" opacity="0.6"/><circle cx="18.6" cy="483.4" r="0.65" fill="#b070a8" opacity="0.6"/><circle cx="79.7" cy="518.1" r="0.65" fill="#b070a8" opacity="0.6"/><circle cx="24.5" cy="516.4" r="0.65" fill="#b070a8" opacity="0.6"/><circle cx="18.2" cy="525.0" r="0.65" fill="#b070a8" opacity="0.6"/><circle cx="13.9" cy="488.0" r="0.65" fill="#b070a8" opacity="0.6"/><circle cx="26.6" cy="514.7" r="0.65" fill="#b070a8" opacity="0.6"/><circle cx="71.5" cy="494.9" r="0.65" fill="#b070a8" opacity="0.6"/><circle cx="64.9" cy="503.6" r="0.65" fill="#b070a8" opacity="0.6"/><circle cx="43.0" cy="517.3" r="0.65" fill="#b070a8" opacity="0.6"/><circle cx="27.8" cy="518.9" r="0.65" fill="#b070a8" opacity="0.6"/><circle cx="35.1" cy="490.5" r="0.65" fill="#b070a8" opacity="0.6"/><circle cx="55.7" cy="508.8" r="0.65" fill="#b070a8" opacity="0.6"/><circle cx="14.0" cy="531.1" r="0.65" fill="#b070a8" opacity="0.6"/><circle cx="64.4" cy="505.4" r="0.65" fill="#b070a8" opacity="0.6"/><circle cx="66.2" cy="521.9" r="0.65" fill="#b070a8" opacity="0.6"/><circle cx="13.4" cy="485.4" r="0.65" fill="#b070a8" opacity="0.6"/><circle cx="45.2" cy="504.2" r="0.65" fill="#b070a8" opacity="0.6"/><circle cx="58.1" cy="490.7" r="0.65" fill="#b070a8" opacity="0.6"/><circle cx="20.8" cy="501.9" r="0.65" fill="#b070a8" opacity="0.6"/><circle cx="79.6" cy="483.3" r="0.65" fill="#b070a8" opacity="0.6"/><circle cx="77.3" cy="513.0" r="0.65" fill="#b070a8" opacity="0.6"/><circle cx="35.8" cy="487.3" r="0.65" fill="#b070a8" opacity="0.6"/><circle cx="41.7" cy="504.8" r="0.65" fill="#b070a8" opacity="0.6"/><circle cx="15.0" cy="503.1" r="0.65" fill="#b070a8" opacity="0.6"/><circle cx="75.3" cy="531.7" r="0.65" fill="#b070a8" opacity="0.6"/><circle cx="60.0" cy="502.4" r="0.65" fill="#b070a8" opacity="0.6"/><circle cx="71.1" cy="484.4" r="0.65" fill="#b070a8" opacity="0.6"/><circle cx="60.9" cy="518.8" r="0.65" fill="#b070a8" opacity="0.6"/><circle cx="21.4" cy="501.2" r="0.65" fill="#b070a8" opacity="0.6"/><circle cx="40.0" cy="523.3" r="0.65" fill="#b070a8" opacity="0.6"/><circle cx="52.2" cy="494.7" r="0.65" fill="#b070a8" opacity="0.6"/><circle cx="68.0" cy="507.4" r="0.65" fill="#b070a8" opacity="0.6"/><circle cx="65.4" cy="500.8" r="0.65" fill="#b070a8" opacity="0.6"/><circle cx="34.7" cy="499.6" r="0.65" fill="#b070a8" opacity="0.6"/><circle cx="22.5" cy="521.9" r="0.65" fill="#b070a8" opacity="0.6"/><circle cx="56.7" cy="502.6" r="0.65" fill="#b070a8" opacity="0.6"/><circle cx="53.0" cy="517.9" r="0.65" fill="#b070a8" opacity="0.6"/><circle cx="77.8" cy="489.3" r="0.65" fill="#b070a8" opacity="0.6"/><circle cx="17.9" cy="528.1" r="0.65" fill="#b070a8" opacity="0.6"/><circle cx="76.6" cy="519.7" r="0.65" fill="#b070a8" opacity="0.6"/><circle cx="48.5" cy="531.8" r="0.65" fill="#b070a8" opacity="0.6"/><circle cx="72.6" cy="487.1" r="0.65" fill="#b070a8" opacity="0.6"/><circle cx="59.2" cy="524.0" r="0.65" fill="#b070a8" opacity="0.6"/><circle cx="30.3" cy="524.2" r="0.65" fill="#b070a8" opacity="0.6"/><circle cx="74.4" cy="508.0" r="0.65" fill="#b070a8" opacity="0.6"/><circle cx="40.3" cy="512.5" r="0.65" fill="#b070a8" opacity="0.6"/><circle cx="67.2" cy="515.9" r="0.65" fill="#b070a8" opacity="0.6"/><circle cx="79.7" cy="507.6" r="0.65" fill="#b070a8" opacity="0.6"/><circle cx="33.6" cy="489.9" r="0.65" fill="#b070a8" opacity="0.6"/><circle cx="60.9" cy="511.0" r="0.65" fill="#b070a8" opacity="0.6"/><circle cx="53.2" cy="533.7" r="0.65" fill="#b070a8" opacity="0.6"/><circle cx="70.6" cy="521.2" r="0.65" fill="#b070a8" opacity="0.6"/><circle cx="54.4" cy="496.2" r="0.65" fill="#b070a8" opacity="0.6"/><circle cx="46.5" cy="499.0" r="0.65" fill="#b070a8" opacity="0.6"/><circle cx="44.3" cy="533.4" r="0.65" fill="#b070a8" opacity="0.6"/><circle cx="50.4" cy="524.1" r="0.65" fill="#b070a8" opacity="0.6"/><circle cx="53.1" cy="504.9" r="0.65" fill="#b070a8" opacity="0.6"/><circle cx="71.8" cy="515.6" r="0.65" fill="#b070a8" opacity="0.6"/><circle cx="35.7" cy="504.4" r="0.65" fill="#b070a8" opacity="0.6"/><circle cx="57.7" cy="528.0" r="0.65" fill="#b070a8" opacity="0.6"/><circle cx="16.0" cy="486.6" r="0.65" fill="#b070a8" opacity="0.6"/><circle cx="55.5" cy="497.1" r="0.65" fill="#b070a8" opacity="0.6"/><circle cx="21.8" cy="528.3" r="0.65" fill="#b070a8" opacity="0.6"/><circle cx="52.8" cy="490.9" r="0.65" fill="#b070a8" opacity="0.6"/><circle cx="75.5" cy="505.0" r="0.65" fill="#b070a8" opacity="0.6"/><circle cx="12.8" cy="484.0" r="0.65" fill="#b070a8" opacity="0.6"/><circle cx="22.4" cy="527.5" r="0.65" fill="#b070a8" opacity="0.6"/><circle cx="56.8" cy="521.4" r="0.65" fill="#b070a8" opacity="0.6"/><circle cx="57.0" cy="520.2" r="0.65" fill="#b070a8" opacity="0.6"/><circle cx="33.8" cy="503.2" r="0.65" fill="#b070a8" opacity="0.6"/><circle cx="42.1" cy="519.8" r="0.65" fill="#b070a8" opacity="0.6"/><circle cx="36.4" cy="520.9" r="0.65" fill="#b070a8" opacity="0.6"/><circle cx="26.7" cy="506.0" r="0.65" fill="#b070a8" opacity="0.6"/><circle cx="48.6" cy="486.9" r="0.65" fill="#b070a8" opacity="0.6"/><circle cx="17.6" cy="515.3" r="0.65" fill="#b070a8" opacity="0.6"/><circle cx="22.9" cy="505.9" r="0.65" fill="#b070a8" opacity="0.6"/><circle cx="73.9" cy="514.5" r="0.65" fill="#b070a8" opacity="0.6"/><circle cx="56.6" cy="513.8" r="0.65" fill="#b070a8" opacity="0.6"/><circle cx="29.3" cy="491.2" r="0.65" fill="#b070a8" opacity="0.6"/><circle cx="29.3" cy="491.2" r="0.65" fill="#b070a8" opacity="0.6"/><circle cx="24.6" cy="508.7" r="0.65" fill="#b070a8" opacity="0.6"/><circle cx="50.0" cy="520.3" r="0.65" fill="#b070a8" opacity="0.6"/><circle cx="49.2" cy="488.3" r="0.65" fill="#b070a8" opacity="0.6"/><circle cx="38.8" cy="501.1" r="0.65" fill="#b070a8" opacity="0.6"/><circle cx="21.4" cy="532.1" r="0.65" fill="#b070a8" opacity="0.6"/><circle cx="25.7" cy="519.5" r="0.65" fill="#b070a8" opacity="0.6"/><circle cx="23.9" cy="507.4" r="0.65" fill="#b070a8" opacity="0.6"/><circle cx="26.0" cy="530.0" r="0.65" fill="#b070a8" opacity="0.6"/><circle cx="59.7" cy="525.1" r="0.65" fill="#b070a8" opacity="0.6"/><circle cx="80.2" cy="498.1" r="0.65" fill="#b070a8" opacity="0.6"/><circle cx="41.3" cy="510.0" r="0.65" fill="#b070a8" opacity="0.6"/><circle cx="60.6" cy="527.1" r="0.65" fill="#b070a8" opacity="0.6"/><circle cx="48.1" cy="503.1" r="0.65" fill="#b070a8" opacity="0.6"/><circle cx="71.2" cy="493.5" r="0.65" fill="#b070a8" opacity="0.6"/><circle cx="47.1" cy="489.7" r="0.65" fill="#b070a8" opacity="0.6"/><circle cx="52.9" cy="504.5" r="0.65" fill="#b070a8" opacity="0.6"/><circle cx="13.0" cy="522.3" r="0.65" fill="#b070a8" opacity="0.6"/><circle cx="77.1" cy="506.7" r="0.65" fill="#b070a8" opacity="0.6"/><circle cx="13.3" cy="531.4" r="0.65" fill="#b070a8" opacity="0.6"/><circle cx="34.3" cy="515.2" r="0.65" fill="#b070a8" opacity="0.6"/><circle cx="14.0" cy="513.2" r="0.65" fill="#b070a8" opacity="0.6"/><circle cx="66.8" cy="497.3" r="0.65" fill="#b070a8" opacity="0.6"/><circle cx="37.4" cy="531.8" r="0.65" fill="#b070a8" opacity="0.6"/><circle cx="16.8" cy="508.2" r="0.65" fill="#b070a8" opacity="0.6"/><circle cx="12.5" cy="502.0" r="0.65" fill="#b070a8" opacity="0.6"/><circle cx="66.8" cy="487.1" r="0.65" fill="#b070a8" opacity="0.6"/><circle cx="52.2" cy="513.5" r="0.65" fill="#b070a8" opacity="0.6"/><circle cx="68.5" cy="523.7" r="0.65" fill="#b070a8" opacity="0.6"/><circle cx="61.3" cy="517.3" r="0.65" fill="#b070a8" opacity="0.6"/><circle cx="73.9" cy="519.9" r="0.65" fill="#b070a8" opacity="0.6"/><circle cx="29.1" cy="483.8" r="0.65" fill="#b070a8" opacity="0.6"/><circle cx="58.2" cy="508.3" r="0.65" fill="#b070a8" opacity="0.6"/><circle cx="76.2" cy="489.8" r="0.65" fill="#b070a8" opacity="0.6"/><circle cx="32.3" cy="517.2" r="0.65" fill="#b070a8" opacity="0.6"/><circle cx="37.7" cy="502.3" r="0.65" fill="#b070a8" opacity="0.6"/><circle cx="42.5" cy="500.7" r="0.65" fill="#b070a8" opacity="0.6"/><circle cx="71.0" cy="532.3" r="0.65" fill="#b070a8" opacity="0.6"/><circle cx="30.9" cy="496.8" r="0.65" fill="#b070a8" opacity="0.6"/><circle cx="14.9" cy="506.1" r="0.65" fill="#b070a8" opacity="0.6"/><circle cx="80.4" cy="503.4" r="0.65" fill="#b070a8" opacity="0.6"/><circle cx="24.5" cy="490.3" r="0.65" fill="#b070a8" opacity="0.6"/><circle cx="35.3" cy="526.1" r="0.65" fill="#b070a8" opacity="0.6"/><circle cx="59.8" cy="524.9" r="0.65" fill="#b070a8" opacity="0.6"/><circle cx="71.3" cy="496.8" r="0.65" fill="#b070a8" opacity="0.6"/><circle cx="60.0" cy="530.9" r="0.65" fill="#b070a8" opacity="0.6"/><circle cx="68.4" cy="522.6" r="0.65" fill="#b070a8" opacity="0.6"/><circle cx="25.2" cy="498.1" r="0.65" fill="#b070a8" opacity="0.6"/><circle cx="46.5" cy="490.4" r="0.65" fill="#b070a8" opacity="0.6"/><circle cx="59.7" cy="524.7" r="0.65" fill="#b070a8" opacity="0.6"/><circle cx="43.5" cy="483.8" r="0.65" fill="#b070a8" opacity="0.6"/><circle cx="46.6" cy="527.8" r="0.65" fill="#b070a8" opacity="0.6"/><circle cx="18.0" cy="517.7" r="0.65" fill="#b070a8" opacity="0.6"/><circle cx="38.4" cy="488.0" r="0.65" fill="#b070a8" opacity="0.6"/><circle cx="74.1" cy="505.9" r="0.65" fill="#b070a8" opacity="0.6"/><circle cx="70.6" cy="486.3" r="0.65" fill="#b070a8" opacity="0.6"/><circle cx="24.6" cy="500.0" r="0.65" fill="#b070a8" opacity="0.6"/><circle cx="59.7" cy="483.9" r="0.65" fill="#b070a8" opacity="0.6"/><circle cx="60.6" cy="487.5" r="0.65" fill="#b070a8" opacity="0.6"/><circle cx="14.0" cy="485.7" r="0.65" fill="#b070a8" opacity="0.6"/><circle cx="48.5" cy="526.8" r="0.65" fill="#b070a8" opacity="0.6"/><circle cx="80.4" cy="489.1" r="0.65" fill="#b070a8" opacity="0.6"/><circle cx="37.9" cy="512.3" r="0.65" fill="#b070a8" opacity="0.6"/><circle cx="57.4" cy="506.4" r="0.65" fill="#b070a8" opacity="0.6"/><circle cx="25.3" cy="488.4" r="0.65" fill="#b070a8" opacity="0.6"/><circle cx="24.0" cy="530.6" r="0.65" fill="#b070a8" opacity="0.6"/><circle cx="66.7" cy="525.9" r="0.65" fill="#b070a8" opacity="0.6"/><circle cx="16.3" cy="502.9" r="0.65" fill="#b070a8" opacity="0.6"/><circle cx="57.8" cy="525.9" r="0.65" fill="#b070a8" opacity="0.6"/><circle cx="41.6" cy="513.7" r="0.65" fill="#b070a8" opacity="0.6"/><circle cx="52.7" cy="518.7" r="0.65" fill="#b070a8" opacity="0.6"/><circle cx="79.9" cy="517.4" r="0.65" fill="#b070a8" opacity="0.6"/><circle cx="71.8" cy="507.0" r="0.65" fill="#b070a8" opacity="0.6"/><circle cx="55.9" cy="521.1" r="0.65" fill="#b070a8" opacity="0.6"/><circle cx="19.1" cy="489.7" r="0.65" fill="#b070a8" opacity="0.6"/><circle cx="57.4" cy="501.3" r="0.65" fill="#b070a8" opacity="0.6"/><circle cx="17.2" cy="500.7" r="0.65" fill="#b070a8" opacity="0.6"/><circle cx="39.7" cy="500.5" r="0.65" fill="#b070a8" opacity="0.6"/><circle cx="31.6" cy="504.1" r="0.65" fill="#b070a8" opacity="0.6"/><circle cx="37.1" cy="493.8" r="0.65" fill="#b070a8" opacity="0.6"/><circle cx="39.7" cy="505.9" r="0.65" fill="#b070a8" opacity="0.6"/><circle cx="67.0" cy="508.4" r="0.65" fill="#b070a8" opacity="0.6"/><circle cx="38.7" cy="506.4" r="0.65" fill="#b070a8" opacity="0.6"/><circle cx="29.3" cy="504.6" r="0.65" fill="#b070a8" opacity="0.6"/><circle cx="29.9" cy="511.0" r="0.65" fill="#b070a8" opacity="0.6"/><circle cx="41.8" cy="526.6" r="0.65" fill="#b070a8" opacity="0.6"/><circle cx="17.8" cy="532.0" r="0.65" fill="#b070a8" opacity="0.6"/><circle cx="73.6" cy="520.6" r="0.65" fill="#b070a8" opacity="0.6"/><circle cx="13.3" cy="519.0" r="0.65" fill="#b070a8" opacity="0.6"/><circle cx="31.4" cy="523.1" r="0.65" fill="#b070a8" opacity="0.6"/><circle cx="30.3" cy="511.0" r="0.65" fill="#b070a8" opacity="0.6"/><circle cx="66.1" cy="502.2" r="0.65" fill="#b070a8" opacity="0.6"/><circle cx="29.7" cy="485.2" r="0.65" fill="#b070a8" opacity="0.6"/><circle cx="53.4" cy="495.6" r="0.65" fill="#b070a8" opacity="0.6"/><circle cx="31.6" cy="516.2" r="0.65" fill="#b070a8" opacity="0.6"/><circle cx="69.3" cy="498.5" r="0.65" fill="#b070a8" opacity="0.6"/><circle cx="45.7" cy="506.3" r="0.65" fill="#b070a8" opacity="0.6"/><circle cx="76.4" cy="482.7" r="0.65" fill="#b070a8" opacity="0.6"/><circle cx="39.6" cy="507.5" r="0.65" fill="#b070a8" opacity="0.6"/><circle cx="26.1" cy="521.6" r="0.65" fill="#b070a8" opacity="0.6"/><circle cx="64.8" cy="509.0" r="0.65" fill="#b070a8" opacity="0.6"/><circle cx="36.6" cy="503.0" r="0.65" fill="#b070a8" opacity="0.6"/><circle cx="23.2" cy="523.1" r="0.65" fill="#b070a8" opacity="0.6"/><circle cx="29.1" cy="531.7" r="0.65" fill="#b070a8" opacity="0.6"/><circle cx="21.5" cy="518.2" r="0.65" fill="#b070a8" opacity="0.6"/><circle cx="27.2" cy="507.9" r="0.65" fill="#b070a8" opacity="0.6"/><circle cx="61.5" cy="533.7" r="0.65" fill="#b070a8" opacity="0.6"/><circle cx="17.4" cy="497.7" r="0.65" fill="#b070a8" opacity="0.6"/><circle cx="19.5" cy="501.5" r="0.65" fill="#b070a8" opacity="0.6"/><circle cx="51.3" cy="522.2" r="0.65" fill="#b070a8" opacity="0.6"/><circle cx="72.2" cy="525.1" r="0.65" fill="#b070a8" opacity="0.6"/><circle cx="42.5" cy="525.7" r="0.65" fill="#b070a8" opacity="0.6"/><circle cx="78.2" cy="532.5" r="0.65" fill="#b070a8" opacity="0.6"/><circle cx="42.5" cy="488.4" r="0.65" fill="#b070a8" opacity="0.6"/><circle cx="60.1" cy="491.4" r="0.65" fill="#b070a8" opacity="0.6"/><circle cx="20.3" cy="494.9" r="0.65" fill="#b070a8" opacity="0.6"/><circle cx="44.7" cy="525.0" r="0.65" fill="#b070a8" opacity="0.6"/><circle cx="17.8" cy="509.0" r="0.65" fill="#b070a8" opacity="0.6"/><circle cx="63.2" cy="520.4" r="0.65" fill="#b070a8" opacity="0.6"/><circle cx="36.8" cy="502.8" r="0.65" fill="#b070a8" opacity="0.6"/><circle cx="20.2" cy="490.3" r="0.65" fill="#b070a8" opacity="0.6"/><circle cx="44.1" cy="502.0" r="0.65" fill="#b070a8" opacity="0.6"/><circle cx="74.7" cy="522.0" r="0.65" fill="#b070a8" opacity="0.6"/><circle cx="39.7" cy="501.4" r="0.65" fill="#b070a8" opacity="0.6"/><circle cx="36.1" cy="523.8" r="0.65" fill="#b070a8" opacity="0.6"/><circle cx="57.8" cy="491.8" r="0.65" fill="#b070a8" opacity="0.6"/><circle cx="35.0" cy="499.2" r="0.65" fill="#b070a8" opacity="0.6"/><circle cx="43.2" cy="522.5" r="0.65" fill="#b070a8" opacity="0.6"/><circle cx="45.5" cy="500.0" r="0.65" fill="#b070a8" opacity="0.6"/><circle cx="33.3" cy="500.1" r="0.65" fill="#b070a8" opacity="0.6"/><circle cx="53.0" cy="513.6" r="0.65" fill="#b070a8" opacity="0.6"/><circle cx="57.1" cy="491.3" r="0.65" fill="#b070a8" opacity="0.6"/><circle cx="63.7" cy="526.8" r="0.65" fill="#b070a8" opacity="0.6"/><circle cx="38.9" cy="485.2" r="0.65" fill="#b070a8" opacity="0.6"/><circle cx="73.7" cy="516.3" r="0.65" fill="#b070a8" opacity="0.6"/><circle cx="29.7" cy="519.6" r="0.65" fill="#b070a8" opacity="0.6"/><circle cx="36.5" cy="485.7" r="0.65" fill="#b070a8" opacity="0.6"/><circle cx="59.9" cy="511.4" r="0.65" fill="#b070a8" opacity="0.6"/><circle cx="15.5" cy="483.2" r="0.65" fill="#b070a8" opacity="0.6"/><circle cx="37.4" cy="496.9" r="0.65" fill="#b070a8" opacity="0.6"/><circle cx="43.0" cy="531.4" r="0.65" fill="#b070a8" opacity="0.6"/><circle cx="14.9" cy="495.0" r="0.65" fill="#b070a8" opacity="0.6"/><circle cx="17.1" cy="485.8" r="0.65" fill="#b070a8" opacity="0.6"/><circle cx="52.8" cy="527.7" r="0.65" fill="#b070a8" opacity="0.6"/><circle cx="47.3" cy="513.6" r="0.65" fill="#b070a8" opacity="0.6"/><circle cx="54.0" cy="487.2" r="0.65" fill="#b070a8" opacity="0.6"/><circle cx="33.9" cy="503.1" r="0.65" fill="#b070a8" opacity="0.6"/><circle cx="57.4" cy="486.6" r="0.65" fill="#b070a8" opacity="0.6"/><circle cx="31.3" cy="524.1" r="0.65" fill="#b070a8" opacity="0.6"/><circle cx="65.3" cy="498.9" r="0.65" fill="#b070a8" opacity="0.6"/><circle cx="35.7" cy="517.1" r="0.65" fill="#b070a8" opacity="0.6"/><circle cx="64.4" cy="513.2" r="0.65" fill="#b070a8" opacity="0.6"/><circle cx="27.0" cy="520.5" r="0.65" fill="#b070a8" opacity="0.6"/><circle cx="61.3" cy="502.8" r="0.65" fill="#b070a8" opacity="0.6"/><circle cx="64.1" cy="520.2" r="0.65" fill="#b070a8" opacity="0.6"/><circle cx="18.3" cy="529.0" r="0.65" fill="#b070a8" opacity="0.6"/><circle cx="43.7" cy="494.1" r="0.65" fill="#b070a8" opacity="0.6"/><circle cx="51.2" cy="487.1" r="0.65" fill="#b070a8" opacity="0.6"/><circle cx="43.8" cy="493.3" r="0.65" fill="#b070a8" opacity="0.6"/><circle cx="72.7" cy="483.2" r="0.65" fill="#b070a8" opacity="0.6"/><circle cx="68.7" cy="530.8" r="0.65" fill="#b070a8" opacity="0.6"/><circle cx="48.8" cy="522.2" r="0.65" fill="#b070a8" opacity="0.6"/><circle cx="55.5" cy="518.6" r="0.65" fill="#b070a8" opacity="0.6"/><circle cx="25.9" cy="512.2" r="0.65" fill="#b070a8" opacity="0.6"/><circle cx="48.1" cy="515.7" r="0.65" fill="#b070a8" opacity="0.6"/><circle cx="35.4" cy="499.4" r="0.65" fill="#b070a8" opacity="0.6"/><circle cx="76.2" cy="509.5" r="0.65" fill="#b070a8" opacity="0.6"/><circle cx="68.1" cy="532.3" r="0.65" fill="#b070a8" opacity="0.6"/><circle cx="75.2" cy="523.8" r="0.65" fill="#b070a8" opacity="0.6"/><circle cx="42.5" cy="492.9" r="0.65" fill="#b070a8" opacity="0.6"/><circle cx="26.5" cy="495.9" r="0.65" fill="#b070a8" opacity="0.6"/><circle cx="32.4" cy="507.8" r="0.65" fill="#b070a8" opacity="0.6"/><circle cx="24.7" cy="518.7" r="0.65" fill="#b070a8" opacity="0.6"/><circle cx="29.7" cy="491.0" r="0.65" fill="#b070a8" opacity="0.6"/><circle cx="23.7" cy="483.0" r="0.65" fill="#b070a8" opacity="0.6"/><circle cx="72.0" cy="509.0" r="0.65" fill="#b070a8" opacity="0.6"/><circle cx="75.5" cy="530.0" r="0.65" fill="#b070a8" opacity="0.6"/><circle cx="30.7" cy="517.8" r="0.65" fill="#b070a8" opacity="0.6"/><circle cx="62.2" cy="511.1" r="0.65" fill="#b070a8" opacity="0.6"/><circle cx="18.6" cy="530.5" r="0.65" fill="#b070a8" opacity="0.6"/><circle cx="16.2" cy="520.6" r="0.65" fill="#b070a8" opacity="0.6"/><circle cx="38.8" cy="501.7" r="0.65" fill="#b070a8" opacity="0.6"/><circle cx="14.7" cy="521.5" r="0.65" fill="#b070a8" opacity="0.6"/><circle cx="27.6" cy="533.4" r="0.65" fill="#b070a8" opacity="0.6"/><circle cx="73.2" cy="519.5" r="0.65" fill="#b070a8" opacity="0.6"/><circle cx="42.1" cy="524.6" r="0.65" fill="#b070a8" opacity="0.6"/><circle cx="57.9" cy="519.0" r="0.65" fill="#b070a8" opacity="0.6"/><circle cx="72.5" cy="517.8" r="0.65" fill="#b070a8" opacity="0.6"/><circle cx="55.7" cy="497.6" r="0.65" fill="#b070a8" opacity="0.6"/><circle cx="26.9" cy="516.1" r="0.65" fill="#b070a8" opacity="0.6"/><circle cx="67.0" cy="518.6" r="0.65" fill="#b070a8" opacity="0.6"/><circle cx="73.2" cy="516.9" r="0.65" fill="#b070a8" opacity="0.6"/><circle cx="65.8" cy="483.8" r="0.65" fill="#b070a8" opacity="0.6"/><circle cx="21.5" cy="494.9" r="0.65" fill="#b070a8" opacity="0.6"/><circle cx="25.1" cy="486.1" r="0.65" fill="#b070a8" opacity="0.6"/><circle cx="25.2" cy="492.5" r="0.65" fill="#b070a8" opacity="0.6"/><circle cx="16.0" cy="497.2" r="0.65" fill="#b070a8" opacity="0.6"/><circle cx="55.7" cy="521.0" r="0.65" fill="#b070a8" opacity="0.6"/><circle cx="21.0" cy="511.3" r="0.65" fill="#b070a8" opacity="0.6"/><circle cx="36.5" cy="512.8" r="0.65" fill="#b070a8" opacity="0.6"/><circle cx="25.6" cy="528.3" r="0.65" fill="#b070a8" opacity="0.6"/><circle cx="41.4" cy="498.5" r="0.65" fill="#b070a8" opacity="0.6"/><circle cx="47.3" cy="498.9" r="0.65" fill="#b070a8" opacity="0.6"/><circle cx="71.1" cy="503.4" r="0.65" fill="#b070a8" opacity="0.6"/><circle cx="24.5" cy="507.9" r="0.65" fill="#b070a8" opacity="0.6"/><circle cx="21.6" cy="533.4" r="0.65" fill="#b070a8" opacity="0.6"/><circle cx="14.4" cy="522.0" r="0.65" fill="#b070a8" opacity="0.6"/><circle cx="28.6" cy="503.8" r="0.65" fill="#b070a8" opacity="0.6"/><circle cx="59.5" cy="490.5" r="0.65" fill="#b070a8" opacity="0.6"/><circle cx="52.7" cy="506.1" r="0.65" fill="#b070a8" opacity="0.6"/><circle cx="73.1" cy="515.0" r="0.65" fill="#b070a8" opacity="0.6"/><circle cx="15.1" cy="502.4" r="0.65" fill="#b070a8" opacity="0.6"/><circle cx="18.6" cy="518.3" r="0.65" fill="#b070a8" opacity="0.6"/><circle cx="53.3" cy="527.2" r="0.65" fill="#b070a8" opacity="0.6"/><circle cx="53.2" cy="497.8" r="0.65" fill="#b070a8" opacity="0.6"/><circle cx="20.1" cy="498.3" r="0.65" fill="#b070a8" opacity="0.6"/><circle cx="34.6" cy="503.8" r="0.65" fill="#b070a8" opacity="0.6"/><circle cx="29.6" cy="495.7" r="0.65" fill="#b070a8" opacity="0.6"/><circle cx="15.8" cy="503.9" r="0.65" fill="#b070a8" opacity="0.6"/><circle cx="53.1" cy="529.8" r="0.65" fill="#b070a8" opacity="0.6"/><circle cx="72.8" cy="493.8" r="0.65" fill="#b070a8" opacity="0.6"/><circle cx="32.0" cy="491.4" r="0.65" fill="#b070a8" opacity="0.6"/><circle cx="79.3" cy="513.8" r="0.65" fill="#b070a8" opacity="0.6"/><circle cx="27.6" cy="484.2" r="0.65" fill="#b070a8" opacity="0.6"/><circle cx="71.7" cy="516.0" r="0.65" fill="#b070a8" opacity="0.6"/><circle cx="19.3" cy="487.4" r="0.65" fill="#b070a8" opacity="0.6"/><circle cx="47.8" cy="485.1" r="0.65" fill="#b070a8" opacity="0.6"/><circle cx="63.4" cy="506.8" r="0.65" fill="#b070a8" opacity="0.6"/><circle cx="52.5" cy="497.1" r="0.65" fill="#b070a8" opacity="0.6"/><circle cx="50.2" cy="484.0" r="0.65" fill="#b070a8" opacity="0.6"/><circle cx="53.1" cy="503.5" r="0.65" fill="#b070a8" opacity="0.6"/><circle cx="65.6" cy="509.6" r="0.65" fill="#b070a8" opacity="0.6"/><circle cx="79.5" cy="512.1" r="0.65" fill="#b070a8" opacity="0.6"/><circle cx="66.1" cy="522.3" r="0.65" fill="#b070a8" opacity="0.6"/><circle cx="75.5" cy="485.0" r="0.65" fill="#b070a8" opacity="0.6"/><circle cx="38.4" cy="530.2" r="0.65" fill="#b070a8" opacity="0.6"/><circle cx="27.8" cy="488.3" r="0.65" fill="#b070a8" opacity="0.6"/><circle cx="46.0" cy="518.0" r="0.65" fill="#b070a8" opacity="0.6"/><circle cx="19.6" cy="487.2" r="0.65" fill="#b070a8" opacity="0.6"/><circle cx="25.9" cy="519.6" r="0.65" fill="#b070a8" opacity="0.6"/><circle cx="22.2" cy="496.9" r="0.65" fill="#b070a8" opacity="0.6"/><circle cx="28.0" cy="490.8" r="0.65" fill="#b070a8" opacity="0.6"/><circle cx="64.8" cy="518.6" r="0.65" fill="#b070a8" opacity="0.6"/><circle cx="69.0" cy="525.2" r="0.65" fill="#b070a8" opacity="0.6"/><circle cx="77.5" cy="508.9" r="0.65" fill="#b070a8" opacity="0.6"/><circle cx="12.9" cy="526.0" r="0.65" fill="#b070a8" opacity="0.6"/><circle cx="15.7" cy="518.5" r="0.65" fill="#b070a8" opacity="0.6"/><circle cx="28.9" cy="519.1" r="0.65" fill="#b070a8" opacity="0.6"/><circle cx="50.8" cy="496.0" r="0.65" fill="#b070a8" opacity="0.6"/><circle cx="12.7" cy="527.6" r="0.65" fill="#b070a8" opacity="0.6"/><circle cx="69.9" cy="529.0" r="0.65" fill="#b070a8" opacity="0.6"/><circle cx="70.2" cy="527.7" r="0.65" fill="#b070a8" opacity="0.6"/><circle cx="60.7" cy="508.5" r="0.65" fill="#b070a8" opacity="0.6"/><circle cx="39.0" cy="506.0" r="0.65" fill="#b070a8" opacity="0.6"/><circle cx="17.0" cy="482.6" r="0.65" fill="#b070a8" opacity="0.6"/><circle cx="31.6" cy="482.8" r="0.65" fill="#b070a8" opacity="0.6"/><circle cx="37.6" cy="504.5" r="0.65" fill="#b070a8" opacity="0.6"/><circle cx="23.1" cy="519.9" r="0.65" fill="#b070a8" opacity="0.6"/><circle cx="30.3" cy="528.2" r="0.65" fill="#b070a8" opacity="0.6"/><circle cx="44.5" cy="514.6" r="0.65" fill="#b070a8" opacity="0.6"/><circle cx="23.0" cy="493.2" r="0.65" fill="#b070a8" opacity="0.6"/><circle cx="47.7" cy="522.6" r="0.65" fill="#b070a8" opacity="0.6"/><circle cx="72.9" cy="490.4" r="0.65" fill="#b070a8" opacity="0.6"/><circle cx="79.5" cy="502.8" r="0.65" fill="#b070a8" opacity="0.6"/><circle cx="50.2" cy="504.4" r="0.65" fill="#b070a8" opacity="0.6"/><circle cx="51.0" cy="519.8" r="0.65" fill="#b070a8" opacity="0.6"/><circle cx="14.6" cy="500.8" r="0.65" fill="#b070a8" opacity="0.6"/><circle cx="52.5" cy="487.4" r="0.65" fill="#b070a8" opacity="0.6"/><circle cx="45.8" cy="509.9" r="0.65" fill="#b070a8" opacity="0.6"/><circle cx="40.3" cy="511.7" r="0.65" fill="#b070a8" opacity="0.6"/><circle cx="41.4" cy="531.5" r="0.65" fill="#b070a8" opacity="0.6"/><circle cx="79.2" cy="490.1" r="0.65" fill="#b070a8" opacity="0.6"/><circle cx="27.5" cy="514.8" r="0.65" fill="#b070a8" opacity="0.6"/><circle cx="57.2" cy="496.3" r="0.65" fill="#b070a8" opacity="0.6"/><circle cx="80.3" cy="484.0" r="0.65" fill="#b070a8" opacity="0.6"/><circle cx="67.2" cy="491.2" r="0.65" fill="#b070a8" opacity="0.6"/><circle cx="18.4" cy="525.4" r="0.65" fill="#b070a8" opacity="0.6"/><circle cx="30.0" cy="499.5" r="0.65" fill="#b070a8" opacity="0.6"/><circle cx="30.9" cy="532.3" r="0.65" fill="#b070a8" opacity="0.6"/><circle cx="76.8" cy="512.7" r="0.65" fill="#b070a8" opacity="0.6"/><circle cx="66.0" cy="525.6" r="0.65" fill="#b070a8" opacity="0.6"/><circle cx="71.4" cy="513.5" r="0.65" fill="#b070a8" opacity="0.6"/><circle cx="53.1" cy="486.1" r="0.65" fill="#b070a8" opacity="0.6"/><circle cx="40.2" cy="513.6" r="0.65" fill="#b070a8" opacity="0.6"/><circle cx="28.6" cy="503.2" r="0.65" fill="#b070a8" opacity="0.6"/><circle cx="58.4" cy="507.9" r="0.65" fill="#b070a8" opacity="0.6"/><circle cx="55.7" cy="501.7" r="0.65" fill="#b070a8" opacity="0.6"/><circle cx="63.3" cy="523.3" r="0.65" fill="#b070a8" opacity="0.6"/><circle cx="13.7" cy="498.4" r="0.65" fill="#b070a8" opacity="0.6"/><circle cx="59.6" cy="526.9" r="0.6" fill="#e6b8c8" opacity="0.7"/><circle cx="23.2" cy="511.5" r="0.6" fill="#e6b8c8" opacity="0.7"/><circle cx="35.2" cy="523.2" r="0.6" fill="#e6b8c8" opacity="0.7"/><circle cx="74.8" cy="532.3" r="0.6" fill="#e6b8c8" opacity="0.7"/><circle cx="59.6" cy="491.9" r="0.6" fill="#e6b8c8" opacity="0.7"/><circle cx="31.4" cy="524.2" r="0.6" fill="#e6b8c8" opacity="0.7"/><circle cx="79.0" cy="508.0" r="0.6" fill="#e6b8c8" opacity="0.7"/><circle cx="78.5" cy="520.4" r="0.6" fill="#e6b8c8" opacity="0.7"/><circle cx="38.3" cy="526.7" r="0.6" fill="#e6b8c8" opacity="0.7"/><circle cx="50.9" cy="499.2" r="0.6" fill="#e6b8c8" opacity="0.7"/><circle cx="46.8" cy="491.4" r="0.6" fill="#e6b8c8" opacity="0.7"/><circle cx="46.3" cy="519.5" r="0.6" fill="#e6b8c8" opacity="0.7"/><circle cx="47.0" cy="497.1" r="0.6" fill="#e6b8c8" opacity="0.7"/><circle cx="55.2" cy="530.0" r="0.6" fill="#e6b8c8" opacity="0.7"/><circle cx="15.9" cy="501.7" r="0.6" fill="#e6b8c8" opacity="0.7"/><circle cx="52.9" cy="508.3" r="0.6" fill="#e6b8c8" opacity="0.7"/><circle cx="59.3" cy="501.6" r="0.6" fill="#e6b8c8" opacity="0.7"/><circle cx="49.9" cy="520.3" r="0.6" fill="#e6b8c8" opacity="0.7"/><circle cx="21.7" cy="489.0" r="0.6" fill="#e6b8c8" opacity="0.7"/><circle cx="72.9" cy="532.9" r="0.6" fill="#e6b8c8" opacity="0.7"/><circle cx="76.5" cy="507.4" r="0.6" fill="#e6b8c8" opacity="0.7"/><circle cx="18.1" cy="522.4" r="0.6" fill="#e6b8c8" opacity="0.7"/><circle cx="13.5" cy="520.3" r="0.6" fill="#e6b8c8" opacity="0.7"/><circle cx="28.5" cy="483.8" r="0.6" fill="#e6b8c8" opacity="0.7"/><circle cx="15.2" cy="501.6" r="0.6" fill="#e6b8c8" opacity="0.7"/><circle cx="33.5" cy="497.4" r="0.6" fill="#e6b8c8" opacity="0.7"/><circle cx="36.3" cy="533.0" r="0.6" fill="#e6b8c8" opacity="0.7"/><circle cx="53.6" cy="487.5" r="0.6" fill="#e6b8c8" opacity="0.7"/><circle cx="56.9" cy="515.7" r="0.6" fill="#e6b8c8" opacity="0.7"/><circle cx="14.6" cy="532.1" r="0.6" fill="#e6b8c8" opacity="0.7"/><circle cx="20.5" cy="523.6" r="0.6" fill="#e6b8c8" opacity="0.7"/><circle cx="78.2" cy="494.0" r="0.6" fill="#e6b8c8" opacity="0.7"/><circle cx="72.7" cy="527.8" r="0.6" fill="#e6b8c8" opacity="0.7"/><circle cx="21.1" cy="533.2" r="0.6" fill="#e6b8c8" opacity="0.7"/><circle cx="31.1" cy="529.1" r="0.6" fill="#e6b8c8" opacity="0.7"/><circle cx="52.3" cy="522.8" r="0.6" fill="#e6b8c8" opacity="0.7"/><circle cx="31.8" cy="495.1" r="0.6" fill="#e6b8c8" opacity="0.7"/><circle cx="71.6" cy="509.4" r="0.6" fill="#e6b8c8" opacity="0.7"/><circle cx="38.2" cy="482.5" r="0.6" fill="#e6b8c8" opacity="0.7"/><circle cx="13.2" cy="520.7" r="0.6" fill="#e6b8c8" opacity="0.7"/><circle cx="16.4" cy="522.2" r="0.6" fill="#e6b8c8" opacity="0.7"/><circle cx="55.2" cy="533.3" r="0.6" fill="#e6b8c8" opacity="0.7"/><circle cx="59.0" cy="500.8" r="0.6" fill="#e6b8c8" opacity="0.7"/><circle cx="16.8" cy="492.2" r="0.6" fill="#e6b8c8" opacity="0.7"/><circle cx="19.3" cy="520.5" r="0.6" fill="#e6b8c8" opacity="0.7"/><circle cx="16.3" cy="504.8" r="0.6" fill="#e6b8c8" opacity="0.7"/><circle cx="75.1" cy="483.9" r="0.6" fill="#e6b8c8" opacity="0.7"/><circle cx="40.8" cy="491.4" r="0.6" fill="#e6b8c8" opacity="0.7"/><circle cx="43.0" cy="525.7" r="0.6" fill="#e6b8c8" opacity="0.7"/><circle cx="34.3" cy="492.9" r="0.6" fill="#e6b8c8" opacity="0.7"/><circle cx="74.0" cy="508.3" r="0.6" fill="#e6b8c8" opacity="0.7"/><circle cx="76.4" cy="527.3" r="0.6" fill="#e6b8c8" opacity="0.7"/><circle cx="47.4" cy="491.4" r="0.6" fill="#e6b8c8" opacity="0.7"/><circle cx="36.2" cy="514.0" r="0.6" fill="#e6b8c8" opacity="0.7"/><circle cx="14.5" cy="506.8" r="0.6" fill="#e6b8c8" opacity="0.7"/><circle cx="62.7" cy="511.0" r="0.6" fill="#e6b8c8" opacity="0.7"/><circle cx="77.7" cy="528.9" r="0.6" fill="#e6b8c8" opacity="0.7"/><circle cx="42.5" cy="521.6" r="0.6" fill="#e6b8c8" opacity="0.7"/><circle cx="70.3" cy="483.5" r="0.6" fill="#e6b8c8" opacity="0.7"/><circle cx="34.2" cy="506.0" r="0.6" fill="#e6b8c8" opacity="0.7"/><circle cx="52.2" cy="488.9" r="0.6" fill="#e6b8c8" opacity="0.7"/><circle cx="55.9" cy="483.8" r="0.6" fill="#e6b8c8" opacity="0.7"/><circle cx="16.6" cy="493.0" r="0.6" fill="#e6b8c8" opacity="0.7"/><circle cx="50.2" cy="489.0" r="0.6" fill="#e6b8c8" opacity="0.7"/><circle cx="51.3" cy="486.2" r="0.6" fill="#e6b8c8" opacity="0.7"/><circle cx="71.3" cy="495.7" r="0.6" fill="#e6b8c8" opacity="0.7"/><circle cx="21.9" cy="521.1" r="0.6" fill="#e6b8c8" opacity="0.7"/><circle cx="19.4" cy="518.6" r="0.6" fill="#e6b8c8" opacity="0.7"/><circle cx="55.9" cy="503.2" r="0.6" fill="#e6b8c8" opacity="0.7"/><circle cx="51.6" cy="496.0" r="0.6" fill="#e6b8c8" opacity="0.7"/><circle cx="75.0" cy="528.5" r="0.6" fill="#e6b8c8" opacity="0.7"/><circle cx="60.6" cy="504.8" r="0.6" fill="#e6b8c8" opacity="0.7"/><circle cx="46.9" cy="529.0" r="0.6" fill="#e6b8c8" opacity="0.7"/><circle cx="18.8" cy="509.6" r="0.6" fill="#e6b8c8" opacity="0.7"/><circle cx="53.9" cy="512.3" r="0.6" fill="#e6b8c8" opacity="0.7"/><circle cx="39.5" cy="530.6" r="0.6" fill="#e6b8c8" opacity="0.7"/><circle cx="21.0" cy="497.5" r="0.6" fill="#e6b8c8" opacity="0.7"/><circle cx="11.6" cy="528.5" r="0.6" fill="#e6b8c8" opacity="0.7"/><circle cx="35.6" cy="522.8" r="0.6" fill="#e6b8c8" opacity="0.7"/><circle cx="74.0" cy="483.0" r="0.6" fill="#e6b8c8" opacity="0.7"/><circle cx="26.7" cy="515.1" r="0.6" fill="#e6b8c8" opacity="0.7"/><circle cx="46.4" cy="496.2" r="0.6" fill="#e6b8c8" opacity="0.7"/><circle cx="36.1" cy="528.8" r="0.6" fill="#e6b8c8" opacity="0.7"/><circle cx="14.6" cy="527.4" r="0.6" fill="#e6b8c8" opacity="0.7"/><circle cx="31.4" cy="530.9" r="0.6" fill="#e6b8c8" opacity="0.7"/><circle cx="72.2" cy="505.8" r="0.6" fill="#e6b8c8" opacity="0.7"/><circle cx="80.0" cy="515.5" r="0.6" fill="#e6b8c8" opacity="0.7"/><circle cx="69.6" cy="507.7" r="0.6" fill="#e6b8c8" opacity="0.7"/><circle cx="38.5" cy="499.4" r="0.6" fill="#e6b8c8" opacity="0.7"/><circle cx="65.5" cy="489.5" r="0.6" fill="#e6b8c8" opacity="0.7"/><circle cx="64.6" cy="521.3" r="0.6" fill="#e6b8c8" opacity="0.7"/><circle cx="59.9" cy="497.3" r="0.6" fill="#e6b8c8" opacity="0.7"/><circle cx="56.1" cy="496.1" r="0.6" fill="#e6b8c8" opacity="0.7"/><circle cx="14.4" cy="505.4" r="0.6" fill="#e6b8c8" opacity="0.7"/><circle cx="70.4" cy="503.4" r="0.6" fill="#e6b8c8" opacity="0.7"/><circle cx="34.9" cy="483.4" r="0.6" fill="#e6b8c8" opacity="0.7"/><circle cx="77.9" cy="512.9" r="0.6" fill="#e6b8c8" opacity="0.7"/><circle cx="48.3" cy="506.9" r="0.6" fill="#e6b8c8" opacity="0.7"/><circle cx="11.7" cy="520.7" r="0.6" fill="#e6b8c8" opacity="0.7"/><circle cx="46.6" cy="497.6" r="0.6" fill="#e6b8c8" opacity="0.7"/><circle cx="16.5" cy="524.0" r="0.6" fill="#e6b8c8" opacity="0.7"/><circle cx="70.1" cy="488.5" r="0.6" fill="#e6b8c8" opacity="0.7"/><circle cx="31.0" cy="506.7" r="0.6" fill="#e6b8c8" opacity="0.7"/><circle cx="67.5" cy="493.9" r="0.6" fill="#e6b8c8" opacity="0.7"/><circle cx="17.1" cy="502.4" r="0.6" fill="#e6b8c8" opacity="0.7"/><circle cx="74.0" cy="510.0" r="0.6" fill="#e6b8c8" opacity="0.7"/><circle cx="29.9" cy="485.7" r="0.6" fill="#e6b8c8" opacity="0.7"/><circle cx="67.8" cy="526.4" r="0.6" fill="#e6b8c8" opacity="0.7"/><circle cx="29.9" cy="527.1" r="0.6" fill="#e6b8c8" opacity="0.7"/><circle cx="46.5" cy="508.4" r="0.6" fill="#e6b8c8" opacity="0.7"/><circle cx="28.9" cy="500.3" r="0.6" fill="#e6b8c8" opacity="0.7"/><circle cx="45.6" cy="524.9" r="0.6" fill="#e6b8c8" opacity="0.7"/><circle cx="67.0" cy="512.8" r="0.6" fill="#e6b8c8" opacity="0.7"/><circle cx="47.0" cy="521.6" r="0.6" fill="#e6b8c8" opacity="0.7"/><circle cx="59.7" cy="492.8" r="0.6" fill="#e6b8c8" opacity="0.7"/><circle cx="36.8" cy="488.4" r="0.6" fill="#e6b8c8" opacity="0.7"/><circle cx="44.2" cy="523.8" r="0.6" fill="#e6b8c8" opacity="0.7"/><circle cx="26.7" cy="528.2" r="0.6" fill="#e6b8c8" opacity="0.7"/><circle cx="50.2" cy="488.5" r="0.6" fill="#e6b8c8" opacity="0.7"/><circle cx="29.9" cy="526.4" r="0.6" fill="#e6b8c8" opacity="0.7"/><path d="M27.2,496.3 l5,-3 l2,7 l5,4 l-6,1 l-3,5 z" fill="#ecc8e4" opacity="0.45"/><path d="M49.2,526.3 l4,-2 l3,5 l-5,2 z" fill="#ecc8e4" opacity="0.4"/></g>
<rect x="11.20" y="482.30" width="69.30" height="51.70" fill="none" stroke="#8a8a8a" stroke-width="0.7" />
<text transform="translate(14.60,489.20)" font-size="5.0" text-anchor="start" fill="#2e5597" font-weight="normal" font-style="normal" textLength="20.60" lengthAdjust="spacingAndGlyphs" stroke="#2e5597" stroke-width="0.04" >Eμ-TCL1</text>
<g clip-path="url(#h1)"><rect x="82.3" y="482.3" width="67.7" height="51.7" fill="#c6aed6"/><path d="M82.3,482.3 L108.3,482.3 C106.3,492.3 100.3,498.3 104.3,508.3 C106.3,516.3 98.3,526.3 92.3,534.0 L82.3,534.0 Z" fill="#8a68b0" opacity="0.5"/><path d="M132.3,482.3 L150.0,482.3 L150.0,504.3 C142.3,500.3 136.3,492.3 132.3,482.3 Z" fill="#8a68b0" opacity="0.5"/><path d="M150.0,512.3 L150.0,534.0 L112.3,534.0 C118.3,526.3 128.3,522.3 134.3,518.3 C140.3,514.3 144.3,512.3 150.0,512.3 Z" fill="#8a68b0" opacity="0.55"/><circle cx="86.8" cy="499.1" r="0.6" fill="#7a5aa0" opacity="0.5"/><circle cx="82.5" cy="496.9" r="0.6" fill="#7a5aa0" opacity="0.5"/><circle cx="133.3" cy="518.2" r="0.6" fill="#7a5aa0" opacity="0.5"/><circle cx="114.1" cy="521.3" r="0.6" fill="#7a5aa0" opacity="0.5"/><circle cx="112.8" cy="527.0" r="0.6" fill="#7a5aa0" opacity="0.5"/><circle cx="123.6" cy="489.5" r="0.6" fill="#7a5aa0" opacity="0.5"/><circle cx="120.7" cy="506.9" r="0.6" fill="#7a5aa0" opacity="0.5"/><circle cx="118.6" cy="493.4" r="0.6" fill="#7a5aa0" opacity="0.5"/><circle cx="129.4" cy="492.1" r="0.6" fill="#7a5aa0" opacity="0.5"/><circle cx="102.6" cy="494.7" r="0.6" fill="#7a5aa0" opacity="0.5"/><circle cx="100.4" cy="491.6" r="0.6" fill="#7a5aa0" opacity="0.5"/><circle cx="133.3" cy="516.7" r="0.6" fill="#7a5aa0" opacity="0.5"/><circle cx="84.4" cy="512.1" r="0.6" fill="#7a5aa0" opacity="0.5"/><circle cx="87.6" cy="515.6" r="0.6" fill="#7a5aa0" opacity="0.5"/><circle cx="109.9" cy="510.1" r="0.6" fill="#7a5aa0" opacity="0.5"/><circle cx="133.9" cy="522.6" r="0.6" fill="#7a5aa0" opacity="0.5"/><circle cx="128.5" cy="497.5" r="0.6" fill="#7a5aa0" opacity="0.5"/><circle cx="88.7" cy="512.5" r="0.6" fill="#7a5aa0" opacity="0.5"/><circle cx="118.5" cy="528.5" r="0.6" fill="#7a5aa0" opacity="0.5"/><circle cx="142.0" cy="492.0" r="0.6" fill="#7a5aa0" opacity="0.5"/><circle cx="110.1" cy="519.0" r="0.6" fill="#7a5aa0" opacity="0.5"/><circle cx="110.6" cy="532.2" r="0.6" fill="#7a5aa0" opacity="0.5"/><circle cx="83.2" cy="503.7" r="0.6" fill="#7a5aa0" opacity="0.5"/><circle cx="139.4" cy="531.3" r="0.6" fill="#7a5aa0" opacity="0.5"/><circle cx="116.5" cy="495.3" r="0.6" fill="#7a5aa0" opacity="0.5"/><circle cx="122.4" cy="498.8" r="0.6" fill="#7a5aa0" opacity="0.5"/><circle cx="129.5" cy="500.0" r="0.6" fill="#7a5aa0" opacity="0.5"/><circle cx="95.3" cy="512.7" r="0.6" fill="#7a5aa0" opacity="0.5"/><circle cx="134.5" cy="507.6" r="0.6" fill="#7a5aa0" opacity="0.5"/><circle cx="122.4" cy="511.8" r="0.6" fill="#7a5aa0" opacity="0.5"/><circle cx="117.8" cy="482.6" r="0.6" fill="#7a5aa0" opacity="0.5"/><circle cx="107.5" cy="527.5" r="0.6" fill="#7a5aa0" opacity="0.5"/><circle cx="116.9" cy="522.8" r="0.6" fill="#7a5aa0" opacity="0.5"/><circle cx="146.9" cy="484.2" r="0.6" fill="#7a5aa0" opacity="0.5"/><circle cx="131.6" cy="507.6" r="0.6" fill="#7a5aa0" opacity="0.5"/><circle cx="82.5" cy="493.6" r="0.6" fill="#7a5aa0" opacity="0.5"/><circle cx="115.7" cy="506.1" r="0.6" fill="#7a5aa0" opacity="0.5"/><circle cx="141.2" cy="500.7" r="0.6" fill="#7a5aa0" opacity="0.5"/><circle cx="135.6" cy="503.6" r="0.6" fill="#7a5aa0" opacity="0.5"/><circle cx="146.1" cy="532.8" r="0.6" fill="#7a5aa0" opacity="0.5"/><circle cx="93.3" cy="524.6" r="0.6" fill="#7a5aa0" opacity="0.5"/><circle cx="89.9" cy="499.6" r="0.6" fill="#7a5aa0" opacity="0.5"/><circle cx="142.3" cy="504.7" r="0.6" fill="#7a5aa0" opacity="0.5"/><circle cx="83.7" cy="482.5" r="0.6" fill="#7a5aa0" opacity="0.5"/><circle cx="149.1" cy="526.7" r="0.6" fill="#7a5aa0" opacity="0.5"/><circle cx="147.6" cy="499.9" r="0.6" fill="#7a5aa0" opacity="0.5"/><circle cx="103.0" cy="517.8" r="0.6" fill="#7a5aa0" opacity="0.5"/><circle cx="85.6" cy="513.3" r="0.6" fill="#7a5aa0" opacity="0.5"/><circle cx="92.7" cy="491.9" r="0.6" fill="#7a5aa0" opacity="0.5"/><circle cx="133.5" cy="494.6" r="0.6" fill="#7a5aa0" opacity="0.5"/><circle cx="149.3" cy="516.9" r="0.6" fill="#7a5aa0" opacity="0.5"/><circle cx="122.9" cy="515.5" r="0.6" fill="#7a5aa0" opacity="0.5"/><circle cx="98.5" cy="531.8" r="0.6" fill="#7a5aa0" opacity="0.5"/><circle cx="85.0" cy="529.2" r="0.6" fill="#7a5aa0" opacity="0.5"/><circle cx="118.4" cy="513.4" r="0.6" fill="#7a5aa0" opacity="0.5"/><circle cx="119.1" cy="502.4" r="0.6" fill="#7a5aa0" opacity="0.5"/><circle cx="93.6" cy="500.5" r="0.6" fill="#7a5aa0" opacity="0.5"/><circle cx="125.6" cy="498.4" r="0.6" fill="#7a5aa0" opacity="0.5"/><circle cx="136.2" cy="518.1" r="0.6" fill="#7a5aa0" opacity="0.5"/><circle cx="84.3" cy="487.1" r="0.6" fill="#7a5aa0" opacity="0.5"/><circle cx="139.6" cy="509.9" r="0.6" fill="#7a5aa0" opacity="0.5"/><circle cx="91.3" cy="509.7" r="0.6" fill="#7a5aa0" opacity="0.5"/><circle cx="119.5" cy="518.9" r="0.6" fill="#7a5aa0" opacity="0.5"/><circle cx="114.6" cy="530.4" r="0.6" fill="#7a5aa0" opacity="0.5"/><circle cx="83.3" cy="528.2" r="0.6" fill="#7a5aa0" opacity="0.5"/><circle cx="130.2" cy="501.8" r="0.6" fill="#7a5aa0" opacity="0.5"/><circle cx="89.2" cy="489.8" r="0.6" fill="#7a5aa0" opacity="0.5"/><circle cx="129.9" cy="516.7" r="0.6" fill="#7a5aa0" opacity="0.5"/><circle cx="118.2" cy="486.6" r="0.6" fill="#7a5aa0" opacity="0.5"/><circle cx="89.1" cy="507.4" r="0.6" fill="#7a5aa0" opacity="0.5"/><circle cx="89.6" cy="497.5" r="0.6" fill="#7a5aa0" opacity="0.5"/><circle cx="84.1" cy="494.0" r="0.6" fill="#7a5aa0" opacity="0.5"/><circle cx="119.7" cy="523.9" r="0.6" fill="#7a5aa0" opacity="0.5"/><circle cx="83.2" cy="497.8" r="0.6" fill="#7a5aa0" opacity="0.5"/><circle cx="104.7" cy="493.7" r="0.6" fill="#7a5aa0" opacity="0.5"/><circle cx="109.9" cy="482.3" r="0.6" fill="#7a5aa0" opacity="0.5"/><circle cx="95.1" cy="496.0" r="0.6" fill="#7a5aa0" opacity="0.5"/><circle cx="140.3" cy="497.7" r="0.6" fill="#7a5aa0" opacity="0.5"/><circle cx="129.0" cy="521.8" r="0.6" fill="#7a5aa0" opacity="0.5"/><circle cx="129.3" cy="504.7" r="0.6" fill="#7a5aa0" opacity="0.5"/><circle cx="103.6" cy="509.4" r="0.6" fill="#7a5aa0" opacity="0.5"/><circle cx="106.6" cy="498.1" r="0.6" fill="#7a5aa0" opacity="0.5"/><circle cx="107.5" cy="485.3" r="0.6" fill="#7a5aa0" opacity="0.5"/><circle cx="123.2" cy="502.9" r="0.6" fill="#7a5aa0" opacity="0.5"/><circle cx="86.4" cy="499.8" r="0.6" fill="#7a5aa0" opacity="0.5"/><circle cx="86.7" cy="508.2" r="0.6" fill="#7a5aa0" opacity="0.5"/><circle cx="119.5" cy="532.5" r="0.6" fill="#7a5aa0" opacity="0.5"/><circle cx="92.5" cy="511.9" r="0.6" fill="#7a5aa0" opacity="0.5"/><circle cx="135.9" cy="494.8" r="0.6" fill="#7a5aa0" opacity="0.5"/><circle cx="113.0" cy="512.4" r="0.6" fill="#7a5aa0" opacity="0.5"/><circle cx="89.9" cy="505.4" r="0.6" fill="#7a5aa0" opacity="0.5"/><circle cx="143.5" cy="529.4" r="0.6" fill="#7a5aa0" opacity="0.5"/><circle cx="143.8" cy="483.0" r="0.6" fill="#7a5aa0" opacity="0.5"/><circle cx="127.6" cy="520.4" r="0.6" fill="#7a5aa0" opacity="0.5"/><circle cx="103.6" cy="494.6" r="0.6" fill="#7a5aa0" opacity="0.5"/><circle cx="128.1" cy="500.3" r="0.6" fill="#7a5aa0" opacity="0.5"/><circle cx="144.2" cy="498.7" r="0.6" fill="#7a5aa0" opacity="0.5"/><circle cx="140.9" cy="518.4" r="0.6" fill="#7a5aa0" opacity="0.5"/><circle cx="108.4" cy="519.2" r="0.6" fill="#7a5aa0" opacity="0.5"/><circle cx="143.3" cy="519.6" r="0.6" fill="#7a5aa0" opacity="0.5"/><circle cx="101.4" cy="488.3" r="0.6" fill="#7a5aa0" opacity="0.5"/><circle cx="122.5" cy="521.6" r="0.6" fill="#7a5aa0" opacity="0.5"/><circle cx="123.7" cy="494.4" r="0.6" fill="#7a5aa0" opacity="0.5"/><circle cx="126.6" cy="518.9" r="0.6" fill="#7a5aa0" opacity="0.5"/><circle cx="108.8" cy="518.2" r="0.6" fill="#7a5aa0" opacity="0.5"/><circle cx="127.9" cy="532.0" r="0.6" fill="#7a5aa0" opacity="0.5"/><circle cx="83.6" cy="531.5" r="0.6" fill="#7a5aa0" opacity="0.5"/><circle cx="131.4" cy="489.3" r="0.6" fill="#7a5aa0" opacity="0.5"/><circle cx="93.5" cy="501.6" r="0.6" fill="#7a5aa0" opacity="0.5"/><circle cx="123.9" cy="512.4" r="0.6" fill="#7a5aa0" opacity="0.5"/><circle cx="110.5" cy="526.6" r="0.6" fill="#7a5aa0" opacity="0.5"/><circle cx="117.8" cy="513.2" r="0.6" fill="#7a5aa0" opacity="0.5"/><circle cx="129.8" cy="525.7" r="0.6" fill="#7a5aa0" opacity="0.5"/><circle cx="93.1" cy="486.5" r="0.6" fill="#7a5aa0" opacity="0.5"/><circle cx="114.2" cy="525.3" r="0.6" fill="#7a5aa0" opacity="0.5"/><circle cx="142.7" cy="510.2" r="0.6" fill="#7a5aa0" opacity="0.5"/><circle cx="92.4" cy="515.4" r="0.6" fill="#7a5aa0" opacity="0.5"/><circle cx="139.8" cy="521.1" r="0.6" fill="#7a5aa0" opacity="0.5"/><circle cx="94.2" cy="484.8" r="0.6" fill="#7a5aa0" opacity="0.5"/><circle cx="113.7" cy="494.6" r="0.6" fill="#7a5aa0" opacity="0.5"/><circle cx="104.1" cy="521.0" r="0.6" fill="#7a5aa0" opacity="0.5"/><circle cx="134.3" cy="511.8" r="0.6" fill="#7a5aa0" opacity="0.5"/><circle cx="144.3" cy="518.9" r="0.6" fill="#7a5aa0" opacity="0.5"/><circle cx="93.0" cy="503.0" r="0.6" fill="#7a5aa0" opacity="0.5"/><circle cx="102.6" cy="533.2" r="0.6" fill="#7a5aa0" opacity="0.5"/><circle cx="111.0" cy="496.3" r="0.6" fill="#7a5aa0" opacity="0.5"/><circle cx="140.0" cy="531.7" r="0.6" fill="#7a5aa0" opacity="0.5"/><circle cx="106.9" cy="497.3" r="0.6" fill="#7a5aa0" opacity="0.5"/><circle cx="104.0" cy="484.6" r="0.6" fill="#7a5aa0" opacity="0.5"/><circle cx="126.1" cy="483.5" r="0.6" fill="#7a5aa0" opacity="0.5"/><circle cx="149.6" cy="524.6" r="0.6" fill="#7a5aa0" opacity="0.5"/><circle cx="108.5" cy="512.6" r="0.6" fill="#7a5aa0" opacity="0.5"/><circle cx="138.8" cy="488.4" r="0.6" fill="#7a5aa0" opacity="0.5"/><circle cx="128.3" cy="526.5" r="0.6" fill="#7a5aa0" opacity="0.5"/><circle cx="117.1" cy="527.5" r="0.6" fill="#7a5aa0" opacity="0.5"/><circle cx="99.1" cy="482.4" r="0.6" fill="#7a5aa0" opacity="0.5"/><circle cx="97.9" cy="533.8" r="0.6" fill="#7a5aa0" opacity="0.5"/><circle cx="105.3" cy="499.1" r="0.6" fill="#7a5aa0" opacity="0.5"/><circle cx="87.0" cy="502.6" r="0.6" fill="#7a5aa0" opacity="0.5"/><circle cx="99.0" cy="507.9" r="0.6" fill="#7a5aa0" opacity="0.5"/><circle cx="84.5" cy="488.0" r="0.6" fill="#7a5aa0" opacity="0.5"/><circle cx="83.5" cy="530.5" r="0.6" fill="#7a5aa0" opacity="0.5"/><circle cx="134.7" cy="493.3" r="0.6" fill="#7a5aa0" opacity="0.5"/><circle cx="102.4" cy="494.3" r="0.6" fill="#7a5aa0" opacity="0.5"/><circle cx="115.9" cy="508.7" r="0.6" fill="#7a5aa0" opacity="0.5"/><circle cx="131.3" cy="514.3" r="0.6" fill="#7a5aa0" opacity="0.5"/><circle cx="85.0" cy="512.7" r="0.6" fill="#7a5aa0" opacity="0.5"/><circle cx="84.4" cy="504.4" r="0.6" fill="#7a5aa0" opacity="0.5"/><circle cx="86.1" cy="501.1" r="0.6" fill="#7a5aa0" opacity="0.5"/><circle cx="92.5" cy="518.5" r="0.6" fill="#7a5aa0" opacity="0.5"/><circle cx="109.9" cy="522.2" r="0.6" fill="#7a5aa0" opacity="0.5"/><circle cx="87.7" cy="495.1" r="0.6" fill="#7a5aa0" opacity="0.5"/><circle cx="115.7" cy="506.8" r="0.6" fill="#7a5aa0" opacity="0.5"/><circle cx="89.7" cy="514.8" r="0.6" fill="#7a5aa0" opacity="0.5"/><circle cx="119.8" cy="525.9" r="0.6" fill="#7a5aa0" opacity="0.5"/><circle cx="148.3" cy="522.0" r="0.6" fill="#7a5aa0" opacity="0.5"/><circle cx="100.7" cy="515.6" r="0.6" fill="#7a5aa0" opacity="0.5"/><circle cx="114.1" cy="484.0" r="0.6" fill="#7a5aa0" opacity="0.5"/><circle cx="123.4" cy="496.0" r="0.6" fill="#7a5aa0" opacity="0.5"/><circle cx="97.9" cy="515.0" r="0.6" fill="#7a5aa0" opacity="0.5"/><circle cx="97.6" cy="530.5" r="0.6" fill="#7a5aa0" opacity="0.5"/><circle cx="143.4" cy="491.5" r="0.6" fill="#7a5aa0" opacity="0.5"/><circle cx="148.5" cy="491.6" r="0.6" fill="#7a5aa0" opacity="0.5"/><circle cx="125.0" cy="528.6" r="0.6" fill="#7a5aa0" opacity="0.5"/><circle cx="104.6" cy="522.9" r="0.6" fill="#7a5aa0" opacity="0.5"/><circle cx="115.3" cy="493.5" r="0.6" fill="#7a5aa0" opacity="0.5"/><circle cx="137.2" cy="508.2" r="0.6" fill="#7a5aa0" opacity="0.5"/><circle cx="134.7" cy="528.9" r="0.6" fill="#7a5aa0" opacity="0.5"/><circle cx="110.4" cy="533.5" r="0.6" fill="#7a5aa0" opacity="0.5"/><circle cx="132.5" cy="519.2" r="0.6" fill="#7a5aa0" opacity="0.5"/><circle cx="119.9" cy="522.9" r="0.6" fill="#7a5aa0" opacity="0.5"/><circle cx="90.8" cy="489.6" r="0.6" fill="#7a5aa0" opacity="0.5"/><circle cx="137.3" cy="528.3" r="0.6" fill="#7a5aa0" opacity="0.5"/><circle cx="128.5" cy="527.2" r="0.6" fill="#7a5aa0" opacity="0.5"/><circle cx="143.9" cy="529.2" r="0.6" fill="#7a5aa0" opacity="0.5"/><circle cx="144.0" cy="502.9" r="0.6" fill="#7a5aa0" opacity="0.5"/><circle cx="85.3" cy="501.4" r="0.6" fill="#7a5aa0" opacity="0.5"/><circle cx="139.9" cy="515.7" r="0.6" fill="#7a5aa0" opacity="0.5"/><circle cx="91.9" cy="494.6" r="0.6" fill="#7a5aa0" opacity="0.5"/><circle cx="109.5" cy="484.8" r="0.6" fill="#7a5aa0" opacity="0.5"/><circle cx="130.4" cy="507.9" r="0.6" fill="#7a5aa0" opacity="0.5"/><circle cx="145.8" cy="521.6" r="0.6" fill="#7a5aa0" opacity="0.5"/><circle cx="112.0" cy="491.2" r="0.6" fill="#7a5aa0" opacity="0.5"/><circle cx="121.8" cy="533.7" r="0.6" fill="#7a5aa0" opacity="0.5"/><circle cx="133.9" cy="491.6" r="0.6" fill="#7a5aa0" opacity="0.5"/><circle cx="91.3" cy="490.3" r="0.6" fill="#7a5aa0" opacity="0.5"/><circle cx="117.3" cy="486.0" r="0.6" fill="#7a5aa0" opacity="0.5"/><circle cx="143.8" cy="508.0" r="0.6" fill="#7a5aa0" opacity="0.5"/><circle cx="118.7" cy="516.2" r="0.6" fill="#7a5aa0" opacity="0.5"/><circle cx="110.2" cy="513.1" r="0.6" fill="#7a5aa0" opacity="0.5"/><circle cx="85.7" cy="530.8" r="0.6" fill="#7a5aa0" opacity="0.5"/><circle cx="149.3" cy="531.4" r="0.6" fill="#7a5aa0" opacity="0.5"/><circle cx="113.2" cy="486.3" r="0.6" fill="#7a5aa0" opacity="0.5"/><circle cx="89.6" cy="510.9" r="0.6" fill="#7a5aa0" opacity="0.5"/><circle cx="110.2" cy="509.7" r="0.6" fill="#7a5aa0" opacity="0.5"/><circle cx="136.4" cy="531.1" r="0.6" fill="#7a5aa0" opacity="0.5"/><circle cx="128.1" cy="521.3" r="0.6" fill="#7a5aa0" opacity="0.5"/><circle cx="123.0" cy="510.8" r="0.6" fill="#7a5aa0" opacity="0.5"/><circle cx="107.2" cy="497.7" r="0.6" fill="#7a5aa0" opacity="0.5"/><circle cx="147.8" cy="521.7" r="0.6" fill="#7a5aa0" opacity="0.5"/><circle cx="126.8" cy="484.7" r="0.6" fill="#7a5aa0" opacity="0.5"/><circle cx="136.4" cy="499.0" r="0.6" fill="#7a5aa0" opacity="0.5"/><circle cx="106.7" cy="503.6" r="0.6" fill="#7a5aa0" opacity="0.5"/><circle cx="133.6" cy="493.0" r="0.6" fill="#7a5aa0" opacity="0.5"/><circle cx="120.3" cy="486.2" r="0.6" fill="#7a5aa0" opacity="0.5"/><circle cx="133.0" cy="493.8" r="0.6" fill="#7a5aa0" opacity="0.5"/><circle cx="136.1" cy="496.0" r="0.6" fill="#7a5aa0" opacity="0.5"/><circle cx="116.5" cy="482.6" r="0.6" fill="#7a5aa0" opacity="0.5"/><circle cx="99.5" cy="484.7" r="0.6" fill="#7a5aa0" opacity="0.5"/><circle cx="95.9" cy="503.8" r="0.6" fill="#7a5aa0" opacity="0.5"/><circle cx="84.0" cy="506.1" r="0.6" fill="#7a5aa0" opacity="0.5"/><circle cx="90.6" cy="500.1" r="0.6" fill="#7a5aa0" opacity="0.5"/><circle cx="85.8" cy="505.6" r="0.6" fill="#7a5aa0" opacity="0.5"/><circle cx="108.7" cy="504.2" r="0.6" fill="#7a5aa0" opacity="0.5"/><circle cx="121.2" cy="488.4" r="0.6" fill="#7a5aa0" opacity="0.5"/><circle cx="143.5" cy="493.4" r="0.6" fill="#7a5aa0" opacity="0.5"/><circle cx="82.9" cy="519.8" r="0.6" fill="#7a5aa0" opacity="0.5"/><circle cx="138.2" cy="504.8" r="0.6" fill="#7a5aa0" opacity="0.5"/><circle cx="149.0" cy="512.4" r="0.6" fill="#7a5aa0" opacity="0.5"/><circle cx="98.4" cy="484.4" r="0.6" fill="#7a5aa0" opacity="0.5"/><circle cx="130.8" cy="519.0" r="0.6" fill="#7a5aa0" opacity="0.5"/><circle cx="144.8" cy="496.1" r="0.6" fill="#7a5aa0" opacity="0.5"/><circle cx="150.0" cy="527.4" r="0.6" fill="#7a5aa0" opacity="0.5"/><circle cx="115.0" cy="500.5" r="0.6" fill="#7a5aa0" opacity="0.5"/><circle cx="95.6" cy="515.2" r="0.6" fill="#7a5aa0" opacity="0.5"/><circle cx="116.9" cy="526.0" r="0.6" fill="#7a5aa0" opacity="0.5"/><circle cx="94.3" cy="510.7" r="0.6" fill="#7a5aa0" opacity="0.5"/><circle cx="117.9" cy="485.0" r="0.6" fill="#7a5aa0" opacity="0.5"/><circle cx="83.9" cy="517.2" r="0.6" fill="#7a5aa0" opacity="0.5"/><circle cx="142.9" cy="507.4" r="0.6" fill="#7a5aa0" opacity="0.5"/><circle cx="90.6" cy="531.6" r="0.6" fill="#7a5aa0" opacity="0.5"/><circle cx="105.5" cy="500.1" r="0.6" fill="#7a5aa0" opacity="0.5"/><circle cx="100.0" cy="498.2" r="0.6" fill="#7a5aa0" opacity="0.5"/><circle cx="126.7" cy="507.0" r="0.6" fill="#7a5aa0" opacity="0.5"/><circle cx="126.9" cy="515.3" r="0.6" fill="#7a5aa0" opacity="0.5"/><circle cx="129.3" cy="497.1" r="0.6" fill="#7a5aa0" opacity="0.5"/><circle cx="138.1" cy="483.4" r="0.6" fill="#7a5aa0" opacity="0.5"/><circle cx="104.0" cy="511.2" r="0.6" fill="#7a5aa0" opacity="0.5"/><circle cx="144.3" cy="523.8" r="0.6" fill="#7a5aa0" opacity="0.5"/><circle cx="148.3" cy="483.7" r="0.6" fill="#7a5aa0" opacity="0.5"/><circle cx="106.2" cy="522.9" r="0.6" fill="#7a5aa0" opacity="0.5"/><circle cx="120.2" cy="514.0" r="0.6" fill="#7a5aa0" opacity="0.5"/><circle cx="149.6" cy="522.1" r="0.6" fill="#7a5aa0" opacity="0.5"/><circle cx="95.7" cy="485.4" r="0.6" fill="#7a5aa0" opacity="0.5"/><circle cx="118.5" cy="525.7" r="0.6" fill="#7a5aa0" opacity="0.5"/><circle cx="105.1" cy="526.9" r="0.6" fill="#7a5aa0" opacity="0.5"/><circle cx="96.1" cy="484.8" r="0.6" fill="#7a5aa0" opacity="0.5"/><circle cx="99.0" cy="486.3" r="0.6" fill="#7a5aa0" opacity="0.5"/><circle cx="129.6" cy="518.2" r="0.6" fill="#7a5aa0" opacity="0.5"/><circle cx="112.0" cy="526.5" r="0.6" fill="#7a5aa0" opacity="0.5"/><circle cx="130.0" cy="483.4" r="0.6" fill="#7a5aa0" opacity="0.5"/><circle cx="109.9" cy="491.2" r="0.6" fill="#7a5aa0" opacity="0.5"/><circle cx="98.8" cy="495.6" r="0.6" fill="#7a5aa0" opacity="0.5"/><circle cx="102.0" cy="518.3" r="0.6" fill="#7a5aa0" opacity="0.5"/><circle cx="149.4" cy="495.8" r="0.6" fill="#7a5aa0" opacity="0.5"/><circle cx="119.9" cy="510.7" r="0.6" fill="#7a5aa0" opacity="0.5"/><circle cx="114.4" cy="506.4" r="0.6" fill="#7a5aa0" opacity="0.5"/><circle cx="107.0" cy="510.7" r="0.6" fill="#7a5aa0" opacity="0.5"/><circle cx="138.9" cy="489.0" r="0.6" fill="#7a5aa0" opacity="0.5"/><circle cx="83.4" cy="495.8" r="0.6" fill="#7a5aa0" opacity="0.5"/></g>
<rect x="82.30" y="482.30" width="67.70" height="51.70" fill="none" stroke="#8a8a8a" stroke-width="0.7" />
<text transform="translate(85.70,489.20)" font-size="5.0" text-anchor="start" fill="#c31f3d" font-weight="normal" font-style="normal" textLength="29.30" lengthAdjust="spacingAndGlyphs" stroke="#c31f3d" stroke-width="0.04" >Eμ-TCL1<tspan font-size="3" dy="-2.3">Akt-C</tspan></text>
<g clip-path="url(#h2)"><rect x="11.2" y="536.2" width="69.3" height="52.4" fill="#dca6d6"/><path d="M64.1,570.0 l-1.6,-4.2" stroke="#f4dcf0" stroke-width="0.9" opacity="0.8"/><path d="M58.1,587.0 l-1.3,4.9" stroke="#f4dcf0" stroke-width="0.9" opacity="0.8"/><path d="M13.7,563.9 l-5.4,-0.1" stroke="#f4dcf0" stroke-width="0.9" opacity="0.8"/><path d="M53.6,581.0 l0.4,5.2" stroke="#f4dcf0" stroke-width="0.9" opacity="0.8"/><path d="M33.8,542.9 l-0.6,3.0" stroke="#f4dcf0" stroke-width="0.9" opacity="0.8"/><path d="M60.3,538.1 l-4.5,-3.4" stroke="#f4dcf0" stroke-width="0.9" opacity="0.8"/><path d="M43.9,581.4 l-4.1,-6.4" stroke="#f4dcf0" stroke-width="0.9" opacity="0.8"/><path d="M73.4,581.7 l4.9,-6.5" stroke="#f4dcf0" stroke-width="0.9" opacity="0.8"/><path d="M29.3,545.5 l7.5,-5.3" stroke="#f4dcf0" stroke-width="0.9" opacity="0.8"/><path d="M20.0,547.8 l5.2,-4.2" stroke="#f4dcf0" stroke-width="0.9" opacity="0.8"/><path d="M79.3,552.3 l2.7,-4.3" stroke="#f4dcf0" stroke-width="0.9" opacity="0.8"/><path d="M31.4,581.5 l9.0,-3.6" stroke="#f4dcf0" stroke-width="0.9" opacity="0.8"/><path d="M35.4,539.2 l-5.5,-1.6" stroke="#f4dcf0" stroke-width="0.9" opacity="0.8"/><path d="M47.3,566.2 l-2.7,-4.8" stroke="#f4dcf0" stroke-width="0.9" opacity="0.8"/><circle cx="35.4" cy="554.3" r="1.2" fill="#7a40a0" opacity="0.85"/><circle cx="51.9" cy="537.0" r="1.5" fill="#7a40a0" opacity="0.85"/><circle cx="78.4" cy="556.6" r="1.5" fill="#7a40a0" opacity="0.85"/><circle cx="18.5" cy="584.3" r="1.5" fill="#7a40a0" opacity="0.85"/><circle cx="71.1" cy="571.7" r="1.0" fill="#7a40a0" opacity="0.85"/><circle cx="32.1" cy="570.5" r="1.5" fill="#7a40a0" opacity="0.85"/><circle cx="20.1" cy="545.9" r="1.5" fill="#7a40a0" opacity="0.85"/><circle cx="20.5" cy="539.1" r="1.2" fill="#7a40a0" opacity="0.85"/><circle cx="35.2" cy="570.3" r="0.9" fill="#7a40a0" opacity="0.85"/><circle cx="53.1" cy="537.6" r="1.2" fill="#7a40a0" opacity="0.85"/><circle cx="50.4" cy="544.4" r="1.0" fill="#7a40a0" opacity="0.85"/><circle cx="15.5" cy="570.4" r="0.9" fill="#7a40a0" opacity="0.85"/><circle cx="45.6" cy="536.5" r="1.5" fill="#7a40a0" opacity="0.85"/><circle cx="58.4" cy="577.7" r="1.0" fill="#7a40a0" opacity="0.85"/><circle cx="43.6" cy="538.1" r="1.0" fill="#7a40a0" opacity="0.85"/><circle cx="63.6" cy="562.4" r="1.2" fill="#7a40a0" opacity="0.85"/><circle cx="27.4" cy="571.1" r="1.4" fill="#7a40a0" opacity="0.85"/><circle cx="53.0" cy="540.0" r="1.2" fill="#7a40a0" opacity="0.85"/><circle cx="54.2" cy="548.5" r="1.2" fill="#7a40a0" opacity="0.85"/><circle cx="12.6" cy="558.1" r="1.2" fill="#7a40a0" opacity="0.85"/><circle cx="56.0" cy="562.7" r="1.5" fill="#7a40a0" opacity="0.85"/><circle cx="59.3" cy="562.9" r="1.4" fill="#7a40a0" opacity="0.85"/><circle cx="71.8" cy="565.8" r="1.1" fill="#7a40a0" opacity="0.85"/><circle cx="36.9" cy="544.2" r="1.2" fill="#7a40a0" opacity="0.85"/><circle cx="53.0" cy="564.4" r="1.0" fill="#7a40a0" opacity="0.85"/><circle cx="42.3" cy="556.3" r="1.4" fill="#7a40a0" opacity="0.85"/><circle cx="28.6" cy="586.6" r="1.2" fill="#7a40a0" opacity="0.85"/><circle cx="32.0" cy="562.0" r="1.3" fill="#7a40a0" opacity="0.85"/><circle cx="77.1" cy="572.9" r="1.4" fill="#7a40a0" opacity="0.85"/><circle cx="67.1" cy="555.4" r="1.4" fill="#7a40a0" opacity="0.85"/><circle cx="43.4" cy="538.9" r="1.2" fill="#7a40a0" opacity="0.85"/><circle cx="49.5" cy="577.4" r="1.3" fill="#7a40a0" opacity="0.85"/><circle cx="78.9" cy="574.9" r="1.1" fill="#7a40a0" opacity="0.85"/><circle cx="27.0" cy="585.1" r="1.2" fill="#7a40a0" opacity="0.85"/><circle cx="55.1" cy="546.4" r="1.3" fill="#7a40a0" opacity="0.85"/><circle cx="24.8" cy="584.3" r="1.0" fill="#7a40a0" opacity="0.85"/><circle cx="59.8" cy="572.4" r="1.2" fill="#7a40a0" opacity="0.85"/><circle cx="31.2" cy="546.8" r="1.4" fill="#7a40a0" opacity="0.85"/><circle cx="21.0" cy="588.6" r="1.5" fill="#7a40a0" opacity="0.85"/><circle cx="12.7" cy="552.0" r="1.1" fill="#7a40a0" opacity="0.85"/><circle cx="39.3" cy="543.5" r="1.4" fill="#7a40a0" opacity="0.85"/><circle cx="14.6" cy="566.2" r="0.9" fill="#7a40a0" opacity="0.85"/><circle cx="58.2" cy="542.8" r="1.1" fill="#7a40a0" opacity="0.85"/><circle cx="49.6" cy="553.3" r="1.1" fill="#7a40a0" opacity="0.85"/><circle cx="29.3" cy="575.5" r="1.3" fill="#7a40a0" opacity="0.85"/><circle cx="39.8" cy="573.1" r="1.3" fill="#7a40a0" opacity="0.85"/><circle cx="75.0" cy="575.0" r="1.1" fill="#7a40a0" opacity="0.85"/><circle cx="70.1" cy="569.1" r="1.1" fill="#7a40a0" opacity="0.85"/><circle cx="60.4" cy="584.1" r="1.4" fill="#7a40a0" opacity="0.85"/><circle cx="35.1" cy="574.7" r="1.2" fill="#7a40a0" opacity="0.85"/><circle cx="47.6" cy="573.7" r="1.5" fill="#7a40a0" opacity="0.85"/><circle cx="34.2" cy="546.7" r="1.3" fill="#7a40a0" opacity="0.85"/><circle cx="22.8" cy="559.6" r="1.3" fill="#7a40a0" opacity="0.85"/><circle cx="37.6" cy="558.9" r="1.4" fill="#7a40a0" opacity="0.85"/><circle cx="52.1" cy="564.5" r="1.5" fill="#7a40a0" opacity="0.85"/><circle cx="63.1" cy="555.5" r="1.0" fill="#7a40a0" opacity="0.85"/><circle cx="77.3" cy="579.8" r="1.3" fill="#7a40a0" opacity="0.85"/><circle cx="75.6" cy="571.1" r="1.0" fill="#7a40a0" opacity="0.85"/><circle cx="14.2" cy="549.2" r="1.0" fill="#7a40a0" opacity="0.85"/><circle cx="44.8" cy="536.4" r="1.3" fill="#7a40a0" opacity="0.85"/><circle cx="15.8" cy="580.1" r="1.5" fill="#7a40a0" opacity="0.85"/><circle cx="66.6" cy="578.6" r="1.2" fill="#7a40a0" opacity="0.85"/><circle cx="37.4" cy="563.4" r="1.3" fill="#7a40a0" opacity="0.85"/><circle cx="29.4" cy="537.4" r="1.0" fill="#7a40a0" opacity="0.85"/><circle cx="73.7" cy="573.9" r="1.1" fill="#7a40a0" opacity="0.85"/><circle cx="34.9" cy="559.1" r="0.9" fill="#7a40a0" opacity="0.85"/><circle cx="46.6" cy="580.1" r="1.2" fill="#7a40a0" opacity="0.85"/><circle cx="55.6" cy="570.1" r="1.0" fill="#7a40a0" opacity="0.85"/><circle cx="21.7" cy="542.4" r="0.9" fill="#7a40a0" opacity="0.85"/><circle cx="70.7" cy="582.4" r="1.3" fill="#7a40a0" opacity="0.85"/><circle cx="49.2" cy="568.7" r="1.4" fill="#7a40a0" opacity="0.85"/><circle cx="31.9" cy="561.6" r="1.3" fill="#7a40a0" opacity="0.85"/><circle cx="34.2" cy="555.4" r="1.0" fill="#7a40a0" opacity="0.85"/><circle cx="25.7" cy="561.8" r="1.5" fill="#7a40a0" opacity="0.85"/><circle cx="15.4" cy="563.3" r="0.9" fill="#7a40a0" opacity="0.85"/><circle cx="47.5" cy="588.0" r="1.3" fill="#7a40a0" opacity="0.85"/><circle cx="54.6" cy="582.1" r="1.2" fill="#7a40a0" opacity="0.85"/><circle cx="64.5" cy="543.1" r="1.0" fill="#7a40a0" opacity="0.85"/><circle cx="63.9" cy="577.1" r="1.4" fill="#7a40a0" opacity="0.85"/><circle cx="14.3" cy="540.6" r="1.4" fill="#7a40a0" opacity="0.85"/><circle cx="15.7" cy="583.9" r="1.2" fill="#7a40a0" opacity="0.85"/><circle cx="27.3" cy="574.2" r="1.0" fill="#7a40a0" opacity="0.85"/><circle cx="70.9" cy="554.6" r="1.0" fill="#7a40a0" opacity="0.85"/><circle cx="69.2" cy="540.0" r="1.2" fill="#7a40a0" opacity="0.85"/><circle cx="37.6" cy="573.3" r="1.1" fill="#7a40a0" opacity="0.85"/><circle cx="40.4" cy="547.1" r="1.1" fill="#7a40a0" opacity="0.85"/><circle cx="40.2" cy="570.2" r="1.3" fill="#7a40a0" opacity="0.85"/><circle cx="49.9" cy="585.7" r="0.9" fill="#7a40a0" opacity="0.85"/><circle cx="27.6" cy="576.7" r="1.0" fill="#7a40a0" opacity="0.85"/><circle cx="46.6" cy="557.7" r="1.0" fill="#7a40a0" opacity="0.85"/><circle cx="34.1" cy="578.0" r="1.0" fill="#7a40a0" opacity="0.85"/><circle cx="28.5" cy="567.2" r="1.3" fill="#7a40a0" opacity="0.85"/><circle cx="22.1" cy="574.4" r="1.5" fill="#7a40a0" opacity="0.85"/><circle cx="29.1" cy="542.6" r="1.0" fill="#7a40a0" opacity="0.85"/><circle cx="56.6" cy="573.5" r="1.2" fill="#7a40a0" opacity="0.85"/><circle cx="52.9" cy="546.2" r="1.3" fill="#7a40a0" opacity="0.85"/><circle cx="20.5" cy="587.7" r="1.1" fill="#7a40a0" opacity="0.85"/><circle cx="70.0" cy="556.3" r="1.0" fill="#7a40a0" opacity="0.85"/><circle cx="41.6" cy="585.6" r="1.4" fill="#7a40a0" opacity="0.85"/><circle cx="64.9" cy="538.8" r="1.3" fill="#7a40a0" opacity="0.85"/><circle cx="13.2" cy="568.1" r="1.3" fill="#7a40a0" opacity="0.85"/><circle cx="21.4" cy="561.0" r="1.1" fill="#7a40a0" opacity="0.85"/><circle cx="43.9" cy="568.5" r="1.1" fill="#7a40a0" opacity="0.85"/><circle cx="43.7" cy="558.3" r="1.0" fill="#7a40a0" opacity="0.85"/><circle cx="76.2" cy="550.4" r="1.4" fill="#7a40a0" opacity="0.85"/><circle cx="42.9" cy="552.9" r="1.1" fill="#7a40a0" opacity="0.85"/><circle cx="70.9" cy="545.5" r="1.5" fill="#7a40a0" opacity="0.85"/><circle cx="69.4" cy="581.5" r="1.4" fill="#7a40a0" opacity="0.85"/><circle cx="12.3" cy="572.7" r="1.1" fill="#7a40a0" opacity="0.85"/><circle cx="61.0" cy="542.2" r="1.0" fill="#7a40a0" opacity="0.85"/><circle cx="17.6" cy="567.1" r="1.2" fill="#7a40a0" opacity="0.85"/><circle cx="15.3" cy="580.7" r="1.0" fill="#7a40a0" opacity="0.85"/><circle cx="56.0" cy="554.4" r="1.4" fill="#7a40a0" opacity="0.85"/><circle cx="50.5" cy="548.0" r="1.1" fill="#7a40a0" opacity="0.85"/><circle cx="18.6" cy="544.6" r="1.3" fill="#7a40a0" opacity="0.85"/><circle cx="46.3" cy="567.4" r="1.1" fill="#7a40a0" opacity="0.85"/><circle cx="51.0" cy="558.7" r="1.3" fill="#7a40a0" opacity="0.85"/><circle cx="47.8" cy="561.7" r="1.4" fill="#7a40a0" opacity="0.85"/><circle cx="62.7" cy="538.8" r="1.0" fill="#7a40a0" opacity="0.85"/><circle cx="57.4" cy="588.5" r="1.4" fill="#7a40a0" opacity="0.85"/><circle cx="46.7" cy="572.3" r="1.4" fill="#7a40a0" opacity="0.85"/><circle cx="31.9" cy="584.9" r="1.1" fill="#7a40a0" opacity="0.85"/><circle cx="61.0" cy="536.6" r="1.1" fill="#7a40a0" opacity="0.85"/><circle cx="69.4" cy="569.7" r="1.0" fill="#7a40a0" opacity="0.85"/><circle cx="53.3" cy="544.4" r="1.3" fill="#7a40a0" opacity="0.85"/><circle cx="46.9" cy="566.1" r="1.2" fill="#7a40a0" opacity="0.85"/><circle cx="42.2" cy="573.0" r="1.5" fill="#7a40a0" opacity="0.85"/><circle cx="18.2" cy="587.0" r="1.3" fill="#7a40a0" opacity="0.85"/><circle cx="77.7" cy="581.9" r="1.1" fill="#7a40a0" opacity="0.85"/><circle cx="52.7" cy="570.5" r="1.1" fill="#7a40a0" opacity="0.85"/><circle cx="29.8" cy="546.2" r="1.3" fill="#7a40a0" opacity="0.85"/><circle cx="36.5" cy="586.5" r="1.0" fill="#7a40a0" opacity="0.85"/><circle cx="56.4" cy="588.3" r="1.2" fill="#7a40a0" opacity="0.85"/><circle cx="38.5" cy="585.8" r="1.0" fill="#7a40a0" opacity="0.85"/><circle cx="64.7" cy="577.0" r="1.1" fill="#7a40a0" opacity="0.85"/><circle cx="17.9" cy="555.0" r="1.5" fill="#7a40a0" opacity="0.85"/><circle cx="34.2" cy="546.0" r="1.4" fill="#7a40a0" opacity="0.85"/><circle cx="25.5" cy="571.0" r="1.4" fill="#7a40a0" opacity="0.85"/><circle cx="64.7" cy="573.6" r="1.4" fill="#7a40a0" opacity="0.85"/><circle cx="51.1" cy="567.5" r="1.1" fill="#7a40a0" opacity="0.85"/><circle cx="64.9" cy="583.1" r="1.1" fill="#7a40a0" opacity="0.85"/><circle cx="46.8" cy="573.1" r="1.5" fill="#7a40a0" opacity="0.85"/><circle cx="49.7" cy="558.2" r="1.5" fill="#7a40a0" opacity="0.85"/><circle cx="15.7" cy="581.4" r="1.1" fill="#7a40a0" opacity="0.85"/><circle cx="49.0" cy="578.1" r="1.5" fill="#7a40a0" opacity="0.85"/><circle cx="14.6" cy="555.9" r="1.4" fill="#7a40a0" opacity="0.85"/><circle cx="53.9" cy="544.4" r="1.2" fill="#7a40a0" opacity="0.85"/><circle cx="34.9" cy="539.1" r="1.2" fill="#7a40a0" opacity="0.85"/><circle cx="64.5" cy="586.1" r="1.3" fill="#7a40a0" opacity="0.85"/><circle cx="66.6" cy="570.9" r="1.3" fill="#7a40a0" opacity="0.85"/><circle cx="33.5" cy="546.3" r="1.0" fill="#7a40a0" opacity="0.85"/><circle cx="66.9" cy="565.4" r="1.2" fill="#7a40a0" opacity="0.85"/><circle cx="16.5" cy="571.4" r="0.9" fill="#7a40a0" opacity="0.85"/><circle cx="52.1" cy="550.3" r="1.3" fill="#7a40a0" opacity="0.85"/><circle cx="60.0" cy="549.2" r="1.0" fill="#7a40a0" opacity="0.85"/><circle cx="62.0" cy="541.4" r="1.2" fill="#7a40a0" opacity="0.85"/><circle cx="27.0" cy="580.9" r="1.4" fill="#7a40a0" opacity="0.85"/><circle cx="61.9" cy="584.4" r="1.4" fill="#7a40a0" opacity="0.85"/><circle cx="67.7" cy="545.9" r="1.5" fill="#7a40a0" opacity="0.85"/><circle cx="19.0" cy="546.3" r="1.4" fill="#7a40a0" opacity="0.85"/><circle cx="37.6" cy="576.9" r="1.4" fill="#7a40a0" opacity="0.85"/><circle cx="19.4" cy="538.7" r="1.0" fill="#7a40a0" opacity="0.85"/><circle cx="71.1" cy="586.3" r="1.4" fill="#7a40a0" opacity="0.85"/><circle cx="64.4" cy="556.2" r="1.2" fill="#7a40a0" opacity="0.85"/><circle cx="28.3" cy="565.2" r="1.0" fill="#7a40a0" opacity="0.85"/><circle cx="15.4" cy="562.3" r="1.2" fill="#7a40a0" opacity="0.85"/><circle cx="12.8" cy="538.9" r="1.1" fill="#7a40a0" opacity="0.85"/><circle cx="79.7" cy="575.2" r="1.1" fill="#7a40a0" opacity="0.85"/><circle cx="53.1" cy="586.6" r="1.1" fill="#7a40a0" opacity="0.85"/><circle cx="15.0" cy="579.1" r="1.2" fill="#7a40a0" opacity="0.85"/></g>
<rect x="11.20" y="536.20" width="69.30" height="52.40" fill="none" stroke="#8a8a8a" stroke-width="0.7" />
<text transform="translate(14.60,543.10)" font-size="5.0" text-anchor="start" fill="#2e5597" font-weight="normal" font-style="normal" textLength="20.60" lengthAdjust="spacingAndGlyphs" stroke="#2e5597" stroke-width="0.04" >Eμ-TCL1</text>
<g clip-path="url(#h3)"><rect x="82.3" y="536.2" width="67.7" height="52.4" fill="#dca8d6"/><path d="M88.4,580.3 l1.8,-4.0" stroke="#f2dcee" stroke-width="0.9" opacity="0.8"/><path d="M135.1,567.4 l5.9,1.6" stroke="#f2dcee" stroke-width="0.9" opacity="0.8"/><path d="M131.3,576.8 l-2.8,-5.7" stroke="#f2dcee" stroke-width="0.9" opacity="0.8"/><path d="M143.1,542.4 l1.0,6.9" stroke="#f2dcee" stroke-width="0.9" opacity="0.8"/><path d="M106.0,549.9 l-2.1,-4.2" stroke="#f2dcee" stroke-width="0.9" opacity="0.8"/><path d="M133.1,551.8 l-7.7,1.3" stroke="#f2dcee" stroke-width="0.9" opacity="0.8"/><path d="M99.8,545.6 l-8.7,4.7" stroke="#f2dcee" stroke-width="0.9" opacity="0.8"/><path d="M107.9,567.6 l-0.3,5.2" stroke="#f2dcee" stroke-width="0.9" opacity="0.8"/><path d="M86.9,569.4 l5.9,-3.1" stroke="#f2dcee" stroke-width="0.9" opacity="0.8"/><path d="M111.7,553.8 l-3.2,6.2" stroke="#f2dcee" stroke-width="0.9" opacity="0.8"/><path d="M97.8,574.9 l-8.2,3.9" stroke="#f2dcee" stroke-width="0.9" opacity="0.8"/><path d="M87.7,577.6 l-7.8,-4.0" stroke="#f2dcee" stroke-width="0.9" opacity="0.8"/><path d="M100.2,551.0 l5.0,0.1" stroke="#f2dcee" stroke-width="0.9" opacity="0.8"/><path d="M85.4,545.8 l-1.5,2.9" stroke="#f2dcee" stroke-width="0.9" opacity="0.8"/><circle cx="114.8" cy="578.5" r="2.4" fill="#9466b4" stroke="#7a4898" stroke-width="0.5" opacity="0.75"/><circle cx="146.6" cy="588.2" r="2.7" fill="#9466b4" stroke="#7a4898" stroke-width="0.5" opacity="0.75"/><circle cx="149.1" cy="573.7" r="2.7" fill="#9466b4" stroke="#7a4898" stroke-width="0.5" opacity="0.75"/><circle cx="121.8" cy="556.7" r="2.4" fill="#9466b4" stroke="#7a4898" stroke-width="0.5" opacity="0.75"/><circle cx="108.2" cy="583.7" r="2.6" fill="#9466b4" stroke="#7a4898" stroke-width="0.5" opacity="0.75"/><circle cx="83.8" cy="580.6" r="2.1" fill="#9466b4" stroke="#7a4898" stroke-width="0.5" opacity="0.75"/><circle cx="82.6" cy="579.1" r="2.2" fill="#9466b4" stroke="#7a4898" stroke-width="0.5" opacity="0.75"/><circle cx="141.6" cy="560.5" r="2.6" fill="#9466b4" stroke="#7a4898" stroke-width="0.5" opacity="0.75"/><circle cx="97.0" cy="564.4" r="1.8" fill="#9466b4" stroke="#7a4898" stroke-width="0.5" opacity="0.75"/><circle cx="120.0" cy="548.8" r="2.4" fill="#9466b4" stroke="#7a4898" stroke-width="0.5" opacity="0.75"/><circle cx="148.2" cy="588.5" r="1.8" fill="#9466b4" stroke="#7a4898" stroke-width="0.5" opacity="0.75"/><circle cx="117.5" cy="540.3" r="2.7" fill="#9466b4" stroke="#7a4898" stroke-width="0.5" opacity="0.75"/><circle cx="119.7" cy="581.8" r="1.9" fill="#9466b4" stroke="#7a4898" stroke-width="0.5" opacity="0.75"/><circle cx="89.6" cy="584.2" r="2.4" fill="#9466b4" stroke="#7a4898" stroke-width="0.5" opacity="0.75"/><circle cx="111.4" cy="576.5" r="2.4" fill="#9466b4" stroke="#7a4898" stroke-width="0.5" opacity="0.75"/><circle cx="118.8" cy="537.5" r="2.1" fill="#9466b4" stroke="#7a4898" stroke-width="0.5" opacity="0.75"/><circle cx="145.3" cy="558.3" r="1.7" fill="#9466b4" stroke="#7a4898" stroke-width="0.5" opacity="0.75"/><circle cx="107.4" cy="556.8" r="2.5" fill="#9466b4" stroke="#7a4898" stroke-width="0.5" opacity="0.75"/><circle cx="143.0" cy="549.4" r="1.7" fill="#9466b4" stroke="#7a4898" stroke-width="0.5" opacity="0.75"/><circle cx="94.3" cy="552.1" r="2.5" fill="#9466b4" stroke="#7a4898" stroke-width="0.5" opacity="0.75"/><circle cx="129.4" cy="584.3" r="1.7" fill="#9466b4" stroke="#7a4898" stroke-width="0.5" opacity="0.75"/><circle cx="125.9" cy="549.2" r="2.4" fill="#9466b4" stroke="#7a4898" stroke-width="0.5" opacity="0.75"/><circle cx="90.0" cy="549.3" r="2.7" fill="#9466b4" stroke="#7a4898" stroke-width="0.5" opacity="0.75"/><circle cx="125.6" cy="551.2" r="2.3" fill="#9466b4" stroke="#7a4898" stroke-width="0.5" opacity="0.75"/><circle cx="90.1" cy="538.8" r="2.3" fill="#9466b4" stroke="#7a4898" stroke-width="0.5" opacity="0.75"/><circle cx="121.4" cy="582.5" r="2.1" fill="#9466b4" stroke="#7a4898" stroke-width="0.5" opacity="0.75"/><circle cx="145.6" cy="576.4" r="2.2" fill="#9466b4" stroke="#7a4898" stroke-width="0.5" opacity="0.75"/><circle cx="130.3" cy="558.4" r="2.8" fill="#9466b4" stroke="#7a4898" stroke-width="0.5" opacity="0.75"/><circle cx="129.0" cy="549.6" r="2.4" fill="#9466b4" stroke="#7a4898" stroke-width="0.5" opacity="0.75"/><circle cx="104.2" cy="564.6" r="1.8" fill="#9466b4" stroke="#7a4898" stroke-width="0.5" opacity="0.75"/><circle cx="106.5" cy="543.8" r="1.7" fill="#9466b4" stroke="#7a4898" stroke-width="0.5" opacity="0.75"/><circle cx="112.9" cy="566.0" r="2.7" fill="#9466b4" stroke="#7a4898" stroke-width="0.5" opacity="0.75"/><circle cx="112.8" cy="586.6" r="1.8" fill="#9466b4" stroke="#7a4898" stroke-width="0.5" opacity="0.75"/><circle cx="144.0" cy="544.7" r="2.6" fill="#9466b4" stroke="#7a4898" stroke-width="0.5" opacity="0.75"/><circle cx="137.1" cy="556.1" r="2.6" fill="#9466b4" stroke="#7a4898" stroke-width="0.5" opacity="0.75"/><circle cx="144.0" cy="552.0" r="2.0" fill="#9466b4" stroke="#7a4898" stroke-width="0.5" opacity="0.75"/><circle cx="125.8" cy="562.6" r="1.9" fill="#9466b4" stroke="#7a4898" stroke-width="0.5" opacity="0.75"/><circle cx="111.0" cy="573.6" r="2.1" fill="#9466b4" stroke="#7a4898" stroke-width="0.5" opacity="0.75"/><circle cx="112.7" cy="585.4" r="2.5" fill="#9466b4" stroke="#7a4898" stroke-width="0.5" opacity="0.75"/><circle cx="101.2" cy="556.6" r="1.9" fill="#9466b4" stroke="#7a4898" stroke-width="0.5" opacity="0.75"/><circle cx="116.5" cy="561.2" r="1.6" fill="#9466b4" stroke="#7a4898" stroke-width="0.5" opacity="0.75"/><circle cx="112.8" cy="561.2" r="1.9" fill="#9466b4" stroke="#7a4898" stroke-width="0.5" opacity="0.75"/><circle cx="119.2" cy="554.1" r="2.3" fill="#9466b4" stroke="#7a4898" stroke-width="0.5" opacity="0.75"/><circle cx="140.9" cy="539.8" r="2.0" fill="#9466b4" stroke="#7a4898" stroke-width="0.5" opacity="0.75"/><circle cx="91.4" cy="545.2" r="2.7" fill="#9466b4" stroke="#7a4898" stroke-width="0.5" opacity="0.75"/><circle cx="149.2" cy="547.8" r="2.1" fill="#9466b4" stroke="#7a4898" stroke-width="0.5" opacity="0.75"/><circle cx="133.7" cy="562.9" r="1.7" fill="#9466b4" stroke="#7a4898" stroke-width="0.5" opacity="0.75"/><circle cx="142.5" cy="566.8" r="1.8" fill="#9466b4" stroke="#7a4898" stroke-width="0.5" opacity="0.75"/><circle cx="89.9" cy="568.3" r="2.4" fill="#9466b4" stroke="#7a4898" stroke-width="0.5" opacity="0.75"/><circle cx="99.6" cy="566.1" r="1.7" fill="#9466b4" stroke="#7a4898" stroke-width="0.5" opacity="0.75"/><circle cx="145.4" cy="546.3" r="2.8" fill="#9466b4" stroke="#7a4898" stroke-width="0.5" opacity="0.75"/><circle cx="143.0" cy="541.2" r="2.7" fill="#9466b4" stroke="#7a4898" stroke-width="0.5" opacity="0.75"/><circle cx="96.1" cy="588.5" r="1.7" fill="#9466b4" stroke="#7a4898" stroke-width="0.5" opacity="0.75"/><circle cx="118.8" cy="570.9" r="1.9" fill="#9466b4" stroke="#7a4898" stroke-width="0.5" opacity="0.75"/><circle cx="105.2" cy="565.8" r="2.1" fill="#9466b4" stroke="#7a4898" stroke-width="0.5" opacity="0.75"/></g>
<rect x="82.30" y="536.20" width="67.70" height="52.40" fill="none" stroke="#8a8a8a" stroke-width="0.7" />
<text transform="translate(85.70,543.10)" font-size="5.0" text-anchor="start" fill="#c31f3d" font-weight="normal" font-style="normal" textLength="29.30" lengthAdjust="spacingAndGlyphs" stroke="#c31f3d" stroke-width="0.04" >Eμ-TCL1<tspan font-size="3" dy="-2.3">Akt-C</tspan></text>
<line x1="214.60" y1="317.80" x2="214.60" y2="392.10" stroke="#231f20" stroke-width="1.1" />
<line x1="214.20" y1="391.70" x2="317.00" y2="391.70" stroke="#231f20" stroke-width="1.1" />
<line x1="212.00" y1="391.70" x2="214.60" y2="391.70" stroke="#231f20" stroke-width="0.8" />
<text transform="translate(207.90,393.90)" font-size="6.6" text-anchor="end" fill="#231f20" font-weight="normal" font-style="normal" textLength="3.00" lengthAdjust="spacingAndGlyphs" stroke="#231f20" stroke-width="0.18" >0</text>
<line x1="212.00" y1="377.32" x2="214.60" y2="377.32" stroke="#231f20" stroke-width="0.8" />
<text transform="translate(207.90,379.52)" font-size="6.6" text-anchor="end" fill="#231f20" font-weight="normal" font-style="normal" textLength="13.40" lengthAdjust="spacingAndGlyphs" stroke="#231f20" stroke-width="0.18" >1000</text>
<line x1="212.00" y1="362.94" x2="214.60" y2="362.94" stroke="#231f20" stroke-width="0.8" />
<text transform="translate(207.90,365.14)" font-size="6.6" text-anchor="end" fill="#231f20" font-weight="normal" font-style="normal" textLength="13.40" lengthAdjust="spacingAndGlyphs" stroke="#231f20" stroke-width="0.18" >2000</text>
<line x1="212.00" y1="348.56" x2="214.60" y2="348.56" stroke="#231f20" stroke-width="0.8" />
<text transform="translate(207.90,350.76)" font-size="6.6" text-anchor="end" fill="#231f20" font-weight="normal" font-style="normal" textLength="13.40" lengthAdjust="spacingAndGlyphs" stroke="#231f20" stroke-width="0.18" >3000</text>
<line x1="212.00" y1="334.18" x2="214.60" y2="334.18" stroke="#231f20" stroke-width="0.8" />
<text transform="translate(207.90,336.38)" font-size="6.6" text-anchor="end" fill="#231f20" font-weight="normal" font-style="normal" textLength="13.40" lengthAdjust="spacingAndGlyphs" stroke="#231f20" stroke-width="0.18" >4000</text>
<line x1="212.00" y1="319.80" x2="214.60" y2="319.80" stroke="#231f20" stroke-width="0.8" />
<text transform="translate(207.90,322.00)" font-size="6.6" text-anchor="end" fill="#231f20" font-weight="normal" font-style="normal" textLength="13.40" lengthAdjust="spacingAndGlyphs" stroke="#231f20" stroke-width="0.18" >5000</text>
<line x1="222.60" y1="391.70" x2="222.60" y2="394.20" stroke="#231f20" stroke-width="0.7" />
<line x1="238.10" y1="391.70" x2="238.10" y2="394.20" stroke="#231f20" stroke-width="0.7" />
<line x1="253.80" y1="391.70" x2="253.80" y2="394.20" stroke="#231f20" stroke-width="0.7" />
<line x1="279.60" y1="391.70" x2="279.60" y2="394.20" stroke="#231f20" stroke-width="0.7" />
<line x1="295.20" y1="391.70" x2="295.20" y2="394.20" stroke="#231f20" stroke-width="0.7" />
<line x1="310.60" y1="391.70" x2="310.60" y2="394.20" stroke="#231f20" stroke-width="0.7" />
<text transform="translate(189.80,354.40) rotate(-90)" font-size="8.4" text-anchor="middle" fill="#231f20" font-weight="normal" font-style="normal" textLength="48.70" lengthAdjust="spacingAndGlyphs" stroke="#231f20" stroke-width="0.18" >Spleen size [mg]</text>
<line x1="310.60" y1="332.74" x2="310.60" y2="359.49" stroke="#231f20" stroke-width="0.6" />
<line x1="310.60" y1="378.00" x2="310.60" y2="384.60" stroke="#231f20" stroke-width="0.6" />
<rect x="305.10" y="359.49" width="11.00" height="18.51" fill="#fff" stroke="#231f20" stroke-width="0.6" />
<line x1="305.10" y1="369.30" x2="316.10" y2="369.30" stroke="#231f20" stroke-width="0.6" />
<circle cx="223.58" cy="390.84" r="1.5" fill="#aea6de" stroke="#231f20" stroke-width="0.55"/>
<circle cx="224.53" cy="390.55" r="1.5" fill="#aea6de" stroke="#231f20" stroke-width="0.55"/>
<circle cx="224.96" cy="390.26" r="1.5" fill="#aea6de" stroke="#231f20" stroke-width="0.55"/>
<circle cx="226.14" cy="390.12" r="1.5" fill="#aea6de" stroke="#231f20" stroke-width="0.55"/>
<circle cx="224.52" cy="389.97" r="1.5" fill="#aea6de" stroke="#231f20" stroke-width="0.55"/>
<circle cx="225.98" cy="390.41" r="1.5" fill="#aea6de" stroke="#231f20" stroke-width="0.55"/>
<circle cx="218.83" cy="389.83" r="1.5" fill="#aea6de" stroke="#231f20" stroke-width="0.55"/>
<circle cx="222.32" cy="390.69" r="1.5" fill="#aea6de" stroke="#231f20" stroke-width="0.55"/>
<circle cx="241.65" cy="390.98" r="1.5" fill="#2b5091" stroke="#231f20" stroke-width="0.55"/>
<circle cx="239.29" cy="390.41" r="1.5" fill="#2b5091" stroke="#231f20" stroke-width="0.55"/>
<circle cx="241.31" cy="389.97" r="1.5" fill="#2b5091" stroke="#231f20" stroke-width="0.55"/>
<circle cx="235.01" cy="389.54" r="1.5" fill="#2b5091" stroke="#231f20" stroke-width="0.55"/>
<circle cx="237.85" cy="389.11" r="1.5" fill="#2b5091" stroke="#231f20" stroke-width="0.55"/>
<circle cx="236.07" cy="388.82" r="1.5" fill="#2b5091" stroke="#231f20" stroke-width="0.55"/>
<circle cx="238.45" cy="388.39" r="1.5" fill="#2b5091" stroke="#231f20" stroke-width="0.55"/>
<circle cx="238.69" cy="390.26" r="1.5" fill="#2b5091" stroke="#231f20" stroke-width="0.55"/>
<circle cx="234.20" cy="389.69" r="1.5" fill="#2b5091" stroke="#231f20" stroke-width="0.55"/>
<circle cx="235.83" cy="387.96" r="1.5" fill="#2b5091" stroke="#231f20" stroke-width="0.55"/>
<circle cx="252.26" cy="390.26" r="1.5" fill="#bf1430" stroke="#231f20" stroke-width="0.55"/>
<circle cx="256.71" cy="389.54" r="1.5" fill="#bf1430" stroke="#231f20" stroke-width="0.55"/>
<circle cx="255.66" cy="388.82" r="1.5" fill="#bf1430" stroke="#231f20" stroke-width="0.55"/>
<circle cx="251.42" cy="388.10" r="1.5" fill="#bf1430" stroke="#231f20" stroke-width="0.55"/>
<circle cx="255.88" cy="387.39" r="1.5" fill="#bf1430" stroke="#231f20" stroke-width="0.55"/>
<circle cx="251.27" cy="386.24" r="1.5" fill="#bf1430" stroke="#231f20" stroke-width="0.55"/>
<path d="M253.8,382.22 l2,2 l-2,2 l-2,-2 z" fill="#bf1430" stroke="#231f20" stroke-width="0.45"/>
<circle cx="280.54" cy="390.55" r="1.5" fill="#aea6de" stroke="#231f20" stroke-width="0.55"/>
<circle cx="276.61" cy="389.97" r="1.5" fill="#aea6de" stroke="#231f20" stroke-width="0.55"/>
<circle cx="275.61" cy="389.54" r="1.5" fill="#aea6de" stroke="#231f20" stroke-width="0.55"/>
<circle cx="282.57" cy="389.26" r="1.5" fill="#aea6de" stroke="#231f20" stroke-width="0.55"/>
<circle cx="277.28" cy="388.82" r="1.5" fill="#aea6de" stroke="#231f20" stroke-width="0.55"/>
<circle cx="277.32" cy="388.39" r="1.5" fill="#aea6de" stroke="#231f20" stroke-width="0.55"/>
<circle cx="283.46" cy="388.10" r="1.5" fill="#aea6de" stroke="#231f20" stroke-width="0.55"/>
<circle cx="282.58" cy="390.26" r="1.5" fill="#aea6de" stroke="#231f20" stroke-width="0.55"/>
<circle cx="293.30" cy="390.26" r="1.5" fill="#2b5091" stroke="#231f20" stroke-width="0.55"/>
<circle cx="299.35" cy="389.54" r="1.5" fill="#2b5091" stroke="#231f20" stroke-width="0.55"/>
<circle cx="295.55" cy="388.82" r="1.5" fill="#2b5091" stroke="#231f20" stroke-width="0.55"/>
<circle cx="296.80" cy="388.10" r="1.5" fill="#2b5091" stroke="#231f20" stroke-width="0.55"/>
<circle cx="292.54" cy="387.39" r="1.5" fill="#2b5091" stroke="#231f20" stroke-width="0.55"/>
<circle cx="299.17" cy="386.67" r="1.5" fill="#2b5091" stroke="#231f20" stroke-width="0.55"/>
<circle cx="296.92" cy="385.95" r="1.5" fill="#2b5091" stroke="#231f20" stroke-width="0.55"/>
<circle cx="299.40" cy="385.23" r="1.5" fill="#2b5091" stroke="#231f20" stroke-width="0.55"/>
<circle cx="298.74" cy="384.51" r="1.5" fill="#2b5091" stroke="#231f20" stroke-width="0.55"/>
<circle cx="293.39" cy="389.11" r="1.5" fill="#2b5091" stroke="#231f20" stroke-width="0.55"/>
<circle cx="293.95" cy="388.54" r="1.5" fill="#2b5091" stroke="#231f20" stroke-width="0.55"/>
<circle cx="292.19" cy="387.67" r="1.5" fill="#2b5091" stroke="#231f20" stroke-width="0.55"/>
<circle cx="292.01" cy="387.10" r="1.5" fill="#2b5091" stroke="#231f20" stroke-width="0.55"/>
<circle cx="291.29" cy="386.24" r="1.5" fill="#2b5091" stroke="#231f20" stroke-width="0.55"/>
<circle cx="308.69" cy="384.51" r="1.4" fill="#bf1430" stroke="#231f20" stroke-width="0.55"/>
<circle cx="311.59" cy="382.35" r="1.4" fill="#bf1430" stroke="#231f20" stroke-width="0.55"/>
<circle cx="305.83" cy="379.48" r="1.4" fill="#bf1430" stroke="#231f20" stroke-width="0.55"/>
<circle cx="312.31" cy="377.32" r="1.4" fill="#bf1430" stroke="#231f20" stroke-width="0.55"/>
<circle cx="309.04" cy="375.16" r="1.4" fill="#bf1430" stroke="#231f20" stroke-width="0.55"/>
<circle cx="308.78" cy="373.01" r="1.4" fill="#bf1430" stroke="#231f20" stroke-width="0.55"/>
<circle cx="313.66" cy="371.57" r="1.4" fill="#bf1430" stroke="#231f20" stroke-width="0.55"/>
<circle cx="310.42" cy="370.13" r="1.4" fill="#bf1430" stroke="#231f20" stroke-width="0.55"/>
<circle cx="308.83" cy="367.97" r="1.4" fill="#bf1430" stroke="#231f20" stroke-width="0.55"/>
<circle cx="310.42" cy="365.82" r="1.4" fill="#bf1430" stroke="#231f20" stroke-width="0.55"/>
<circle cx="312.56" cy="364.38" r="1.4" fill="#bf1430" stroke="#231f20" stroke-width="0.55"/>
<circle cx="306.35" cy="362.22" r="1.4" fill="#bf1430" stroke="#231f20" stroke-width="0.55"/>
<circle cx="315.16" cy="360.06" r="1.4" fill="#bf1430" stroke="#231f20" stroke-width="0.55"/>
<circle cx="306.02" cy="358.63" r="1.4" fill="#bf1430" stroke="#231f20" stroke-width="0.55"/>
<circle cx="313.00" cy="356.47" r="1.4" fill="#bf1430" stroke="#231f20" stroke-width="0.55"/>
<circle cx="313.91" cy="354.31" r="1.4" fill="#bf1430" stroke="#231f20" stroke-width="0.55"/>
<circle cx="305.97" cy="352.15" r="1.4" fill="#bf1430" stroke="#231f20" stroke-width="0.55"/>
<circle cx="313.36" cy="375.88" r="1.4" fill="#bf1430" stroke="#231f20" stroke-width="0.55"/>
<circle cx="309.32" cy="368.69" r="1.4" fill="#bf1430" stroke="#231f20" stroke-width="0.55"/>
<circle cx="311.35" cy="362.94" r="1.4" fill="#bf1430" stroke="#231f20" stroke-width="0.55"/>
<circle cx="305.89" cy="373.72" r="1.4" fill="#bf1430" stroke="#231f20" stroke-width="0.55"/>
<circle cx="310.60" cy="332.74" r="1.6" fill="#bf1430" stroke="#231f20" stroke-width="0.45"/>
<line x1="253.80" y1="319.10" x2="310.60" y2="319.10" stroke="#231f20" stroke-width="0.7" />
<line x1="253.80" y1="319.10" x2="253.80" y2="377.50" stroke="#231f20" stroke-width="0.7" />
<line x1="310.60" y1="319.10" x2="310.60" y2="326.40" stroke="#231f20" stroke-width="0.7" />
<line x1="294.40" y1="323.50" x2="310.60" y2="323.50" stroke="#231f20" stroke-width="0.7" />
<line x1="294.40" y1="323.50" x2="294.40" y2="378.00" stroke="#231f20" stroke-width="0.7" />
<text transform="translate(279.00,318.40)" font-size="4.0" text-anchor="middle" fill="#231f20" font-weight="normal" font-style="normal" stroke="#231f20" stroke-width="0.18" >***</text>
<text transform="translate(302.50,322.80)" font-size="4.0" text-anchor="middle" fill="#231f20" font-weight="normal" font-style="normal" stroke="#231f20" stroke-width="0.18" >***</text>
<text transform="translate(226.60,400.30) rotate(-45)" font-size="6.4" text-anchor="end" fill="#231f20" font-weight="normal" font-style="normal" textLength="29.01" lengthAdjust="spacingAndGlyphs" stroke="#231f20" stroke-width="0.18" >Cd19-Cre</text>
<text transform="translate(242.10,400.30) rotate(-45)" font-size="6.4" text-anchor="end" fill="#231f20" font-weight="normal" font-style="normal" textLength="26.26" lengthAdjust="spacingAndGlyphs" stroke="#231f20" stroke-width="0.18" >Eμ-<tspan font-style="italic">TCL1</tspan></text>
<text transform="translate(257.80,400.30) rotate(-45)" font-size="6.4" text-anchor="end" fill="#231f20" font-weight="normal" font-style="normal" textLength="36.75" lengthAdjust="spacingAndGlyphs" stroke="#231f20" stroke-width="0.18" >Eμ-<tspan font-style="italic">TCL1</tspan><tspan font-size="4.0" dy="-2.7">Akt-C</tspan></text>
<text transform="translate(283.60,400.30) rotate(-45)" font-size="6.4" text-anchor="end" fill="#231f20" font-weight="normal" font-style="normal" textLength="29.01" lengthAdjust="spacingAndGlyphs" stroke="#231f20" stroke-width="0.18" >Cd19-Cre</text>
<text transform="translate(299.20,400.30) rotate(-45)" font-size="6.4" text-anchor="end" fill="#231f20" font-weight="normal" font-style="normal" textLength="26.26" lengthAdjust="spacingAndGlyphs" stroke="#231f20" stroke-width="0.18" >Eμ-<tspan font-style="italic">TCL1</tspan></text>
<text transform="translate(314.60,400.30) rotate(-45)" font-size="6.4" text-anchor="end" fill="#231f20" font-weight="normal" font-style="normal" textLength="36.75" lengthAdjust="spacingAndGlyphs" stroke="#231f20" stroke-width="0.18" >Eμ-<tspan font-style="italic">TCL1</tspan><tspan font-size="4.0" dy="-2.7">Akt-C</tspan></text>
<line x1="217.40" y1="430.50" x2="258.00" y2="430.50" stroke="#231f20" stroke-width="0.9" />
<line x1="275.30" y1="430.50" x2="316.20" y2="430.50" stroke="#231f20" stroke-width="0.9" />
<text transform="translate(237.90,437.70)" font-size="6.8" text-anchor="middle" fill="#231f20" font-weight="normal" font-style="normal" textLength="16.80" lengthAdjust="spacingAndGlyphs" stroke="#231f20" stroke-width="0.18" >3-4 m</text>
<text transform="translate(295.70,437.70)" font-size="6.8" text-anchor="middle" fill="#231f20" font-weight="normal" font-style="normal" textLength="16.90" lengthAdjust="spacingAndGlyphs" stroke="#231f20" stroke-width="0.18" >7-8 m</text>
<line x1="406.80" y1="322.40" x2="406.80" y2="381.20" stroke="#231f20" stroke-width="1.1" />
<line x1="406.80" y1="386.40" x2="406.80" y2="391.70" stroke="#231f20" stroke-width="1.1" />
<line x1="405.20" y1="383.20" x2="408.40" y2="379.40" stroke="#231f20" stroke-width="0.9" />
<line x1="405.20" y1="388.20" x2="408.40" y2="384.40" stroke="#231f20" stroke-width="0.9" />
<line x1="406.40" y1="391.30" x2="509.50" y2="391.30" stroke="#231f20" stroke-width="1.1" />
<line x1="403.80" y1="378.60" x2="406.80" y2="378.60" stroke="#231f20" stroke-width="0.8" />
<text transform="translate(400.70,380.80)" font-size="6.6" text-anchor="end" fill="#231f20" font-weight="normal" font-style="normal" textLength="20.70" lengthAdjust="spacingAndGlyphs" stroke="#231f20" stroke-width="0.18" >100000</text>
<line x1="403.80" y1="366.00" x2="406.80" y2="366.00" stroke="#231f20" stroke-width="0.8" />
<text transform="translate(400.70,368.20)" font-size="6.6" text-anchor="end" fill="#231f20" font-weight="normal" font-style="normal" textLength="20.70" lengthAdjust="spacingAndGlyphs" stroke="#231f20" stroke-width="0.18" >150000</text>
<line x1="403.80" y1="353.40" x2="406.80" y2="353.40" stroke="#231f20" stroke-width="0.8" />
<text transform="translate(400.70,355.60)" font-size="6.6" text-anchor="end" fill="#231f20" font-weight="normal" font-style="normal" textLength="20.70" lengthAdjust="spacingAndGlyphs" stroke="#231f20" stroke-width="0.18" >200000</text>
<line x1="403.80" y1="340.80" x2="406.80" y2="340.80" stroke="#231f20" stroke-width="0.8" />
<text transform="translate(400.70,343.00)" font-size="6.6" text-anchor="end" fill="#231f20" font-weight="normal" font-style="normal" textLength="20.70" lengthAdjust="spacingAndGlyphs" stroke="#231f20" stroke-width="0.18" >250000</text>
<line x1="403.80" y1="328.20" x2="406.80" y2="328.20" stroke="#231f20" stroke-width="0.8" />
<text transform="translate(400.70,330.40)" font-size="6.6" text-anchor="end" fill="#231f20" font-weight="normal" font-style="normal" textLength="20.70" lengthAdjust="spacingAndGlyphs" stroke="#231f20" stroke-width="0.18" >300000</text>
<line x1="403.80" y1="391.30" x2="406.80" y2="391.30" stroke="#231f20" stroke-width="0.8" />
<text transform="translate(400.70,393.50)" font-size="6.6" text-anchor="end" fill="#231f20" font-weight="normal" font-style="normal" textLength="3.40" lengthAdjust="spacingAndGlyphs" stroke="#231f20" stroke-width="0.18" >0</text>
<line x1="414.40" y1="391.30" x2="414.40" y2="393.80" stroke="#231f20" stroke-width="0.7" />
<line x1="429.20" y1="391.30" x2="429.20" y2="393.80" stroke="#231f20" stroke-width="0.7" />
<line x1="444.70" y1="391.30" x2="444.70" y2="393.80" stroke="#231f20" stroke-width="0.7" />
<line x1="470.00" y1="391.30" x2="470.00" y2="393.80" stroke="#231f20" stroke-width="0.7" />
<line x1="485.10" y1="391.30" x2="485.10" y2="393.80" stroke="#231f20" stroke-width="0.7" />
<line x1="500.60" y1="391.30" x2="500.60" y2="393.80" stroke="#231f20" stroke-width="0.7" />
<text transform="translate(364.20,356.90) rotate(-90)" font-size="7.2" text-anchor="middle" fill="#231f20" font-weight="normal" font-style="normal" textLength="40.80" lengthAdjust="spacingAndGlyphs" stroke="#231f20" stroke-width="0.18" >Mean cell size</text>
<text transform="translate(371.00,358.10) rotate(-90)" font-size="7.2" text-anchor="middle" fill="#231f20" font-weight="normal" font-style="normal" textLength="65.20" lengthAdjust="spacingAndGlyphs" stroke="#231f20" stroke-width="0.18" >Cd5+ B cell in spleen</text>
<line x1="414.40" y1="367.01" x2="414.40" y2="371.54" stroke="#231f20" stroke-width="0.6" />
<line x1="414.40" y1="376.08" x2="414.40" y2="377.84" stroke="#231f20" stroke-width="0.6" />
<rect x="409.40" y="371.54" width="10.00" height="4.54" fill="#fff" stroke="#231f20" stroke-width="0.6" />
<line x1="409.40" y1="374.06" x2="419.40" y2="374.06" stroke="#231f20" stroke-width="0.6" />
<line x1="429.20" y1="368.02" x2="429.20" y2="370.54" stroke="#231f20" stroke-width="0.6" />
<line x1="429.20" y1="375.58" x2="429.20" y2="377.59" stroke="#231f20" stroke-width="0.6" />
<rect x="424.20" y="370.54" width="10.00" height="5.04" fill="#fff" stroke="#231f20" stroke-width="0.6" />
<line x1="424.20" y1="373.06" x2="434.20" y2="373.06" stroke="#231f20" stroke-width="0.6" />
<line x1="444.70" y1="361.97" x2="444.70" y2="363.23" stroke="#231f20" stroke-width="0.6" />
<line x1="444.70" y1="373.31" x2="444.70" y2="374.06" stroke="#231f20" stroke-width="0.6" />
<rect x="439.70" y="363.23" width="10.00" height="10.08" fill="#fff" stroke="#231f20" stroke-width="0.6" />
<line x1="439.70" y1="369.78" x2="449.70" y2="369.78" stroke="#231f20" stroke-width="0.6" />
<line x1="470.00" y1="366.50" x2="470.00" y2="371.04" stroke="#231f20" stroke-width="0.6" />
<line x1="470.00" y1="376.08" x2="470.00" y2="377.59" stroke="#231f20" stroke-width="0.6" />
<rect x="465.00" y="371.04" width="10.00" height="5.04" fill="#fff" stroke="#231f20" stroke-width="0.6" />
<line x1="465.00" y1="374.06" x2="475.00" y2="374.06" stroke="#231f20" stroke-width="0.6" />
<line x1="485.10" y1="368.02" x2="485.10" y2="370.03" stroke="#231f20" stroke-width="0.6" />
<line x1="485.10" y1="371.80" x2="485.10" y2="372.55" stroke="#231f20" stroke-width="0.6" />
<rect x="480.10" y="370.03" width="10.00" height="1.76" fill="#fff" stroke="#231f20" stroke-width="0.6" />
<line x1="480.10" y1="370.79" x2="490.10" y2="370.79" stroke="#231f20" stroke-width="0.6" />
<line x1="500.60" y1="347.10" x2="500.60" y2="355.42" stroke="#231f20" stroke-width="0.6" />
<line x1="500.60" y1="366.25" x2="500.60" y2="369.78" stroke="#231f20" stroke-width="0.6" />
<rect x="495.60" y="355.42" width="10.00" height="10.84" fill="#fff" stroke="#231f20" stroke-width="0.6" />
<line x1="495.60" y1="359.70" x2="505.60" y2="359.70" stroke="#231f20" stroke-width="0.6" />
<path d="M414.07,375.34 L416.07,377.34 L414.07,379.34 L412.07,377.34 Z" fill="#aea6de" stroke="#231f20" stroke-width="0.45"/>
<path d="M414.82,374.58 L416.82,376.58 L414.82,378.58 L412.82,376.58 Z" fill="#aea6de" stroke="#231f20" stroke-width="0.45"/>
<path d="M417.37,373.58 L419.37,375.58 L417.37,377.58 L415.37,375.58 Z" fill="#aea6de" stroke="#231f20" stroke-width="0.45"/>
<path d="M414.16,372.82 L416.16,374.82 L414.16,376.82 L412.16,374.82 Z" fill="#aea6de" stroke="#231f20" stroke-width="0.45"/>
<path d="M414.45,372.06 L416.45,374.06 L414.45,376.06 L412.45,374.06 Z" fill="#aea6de" stroke="#231f20" stroke-width="0.45"/>
<path d="M415.01,371.56 L417.01,373.56 L415.01,375.56 L413.01,373.56 Z" fill="#aea6de" stroke="#231f20" stroke-width="0.45"/>
<path d="M412.19,371.06 L414.19,373.06 L412.19,375.06 L410.19,373.06 Z" fill="#aea6de" stroke="#231f20" stroke-width="0.45"/>
<path d="M414.48,370.05 L416.48,372.05 L414.48,374.05 L412.48,372.05 Z" fill="#aea6de" stroke="#231f20" stroke-width="0.45"/>
<path d="M415.31,365.01 L417.31,367.01 L415.31,369.01 L413.31,367.01 Z" fill="#aea6de" stroke="#231f20" stroke-width="0.45"/>
<path d="M431.25,375.09 L433.25,377.09 L431.25,379.09 L429.25,377.09 Z" fill="#2b5091" stroke="#231f20" stroke-width="0.45"/>
<path d="M426.36,374.08 L428.36,376.08 L426.36,378.08 L424.36,376.08 Z" fill="#2b5091" stroke="#231f20" stroke-width="0.45"/>
<path d="M427.82,373.07 L429.82,375.07 L427.82,377.07 L425.82,375.07 Z" fill="#2b5091" stroke="#231f20" stroke-width="0.45"/>
<path d="M426.33,372.06 L428.33,374.06 L426.33,376.06 L424.33,374.06 Z" fill="#2b5091" stroke="#231f20" stroke-width="0.45"/>
<path d="M431.37,371.06 L433.37,373.06 L431.37,375.06 L429.37,373.06 Z" fill="#2b5091" stroke="#231f20" stroke-width="0.45"/>
<path d="M430.55,370.05 L432.55,372.05 L430.55,374.05 L428.55,372.05 Z" fill="#2b5091" stroke="#231f20" stroke-width="0.45"/>
<path d="M425.99,369.04 L427.99,371.04 L425.99,373.04 L423.99,371.04 Z" fill="#2b5091" stroke="#231f20" stroke-width="0.45"/>
<path d="M432.58,368.03 L434.58,370.03 L432.58,372.03 L430.58,370.03 Z" fill="#2b5091" stroke="#231f20" stroke-width="0.45"/>
<path d="M432.45,366.52 L434.45,368.52 L432.45,370.52 L430.45,368.52 Z" fill="#2b5091" stroke="#231f20" stroke-width="0.45"/>
<circle cx="445.62" cy="374.06" r="1.5" fill="#bf1430" stroke="#231f20" stroke-width="0.55"/>
<circle cx="445.39" cy="372.30" r="1.5" fill="#bf1430" stroke="#231f20" stroke-width="0.55"/>
<circle cx="442.64" cy="370.28" r="1.5" fill="#bf1430" stroke="#231f20" stroke-width="0.55"/>
<circle cx="441.79" cy="368.52" r="1.5" fill="#bf1430" stroke="#231f20" stroke-width="0.55"/>
<circle cx="444.87" cy="361.97" r="1.5" fill="#bf1430" stroke="#231f20" stroke-width="0.55"/>
<path d="M466.92,375.59 L468.92,377.59 L466.92,379.59 L464.92,377.59 Z" fill="#aea6de" stroke="#231f20" stroke-width="0.45"/>
<path d="M467.83,374.58 L469.83,376.58 L467.83,378.58 L465.83,376.58 Z" fill="#aea6de" stroke="#231f20" stroke-width="0.45"/>
<path d="M468.19,373.58 L470.19,375.58 L468.19,377.58 L466.19,375.58 Z" fill="#aea6de" stroke="#231f20" stroke-width="0.45"/>
<path d="M466.71,372.82 L468.71,374.82 L466.71,376.82 L464.71,374.82 Z" fill="#aea6de" stroke="#231f20" stroke-width="0.45"/>
<path d="M469.75,372.06 L471.75,374.06 L469.75,376.06 L467.75,374.06 Z" fill="#aea6de" stroke="#231f20" stroke-width="0.45"/>
<path d="M469.58,371.06 L471.58,373.06 L469.58,375.06 L467.58,373.06 Z" fill="#aea6de" stroke="#231f20" stroke-width="0.45"/>
<path d="M472.40,370.05 L474.40,372.05 L472.40,374.05 L470.40,372.05 Z" fill="#aea6de" stroke="#231f20" stroke-width="0.45"/>
<path d="M470.13,369.04 L472.13,371.04 L470.13,373.04 L468.13,371.04 Z" fill="#aea6de" stroke="#231f20" stroke-width="0.45"/>
<path d="M470.98,364.50 L472.98,366.50 L470.98,368.50 L468.98,366.50 Z" fill="#aea6de" stroke="#231f20" stroke-width="0.45"/>
<path d="M485.10,370.30 L487.10,372.30 L485.10,374.30 L483.10,372.30 Z" fill="#2b5091" stroke="#231f20" stroke-width="0.45"/>
<path d="M486.24,369.80 L488.24,371.80 L486.24,373.80 L484.24,371.80 Z" fill="#2b5091" stroke="#231f20" stroke-width="0.45"/>
<path d="M484.80,369.29 L486.80,371.29 L484.80,373.29 L482.80,371.29 Z" fill="#2b5091" stroke="#231f20" stroke-width="0.45"/>
<path d="M483.55,368.79 L485.55,370.79 L483.55,372.79 L481.55,370.79 Z" fill="#2b5091" stroke="#231f20" stroke-width="0.45"/>
<path d="M488.58,368.28 L490.58,370.28 L488.58,372.28 L486.58,370.28 Z" fill="#2b5091" stroke="#231f20" stroke-width="0.45"/>
<path d="M488.57,367.53 L490.57,369.53 L488.57,371.53 L486.57,369.53 Z" fill="#2b5091" stroke="#231f20" stroke-width="0.45"/>
<path d="M487.48,366.52 L489.48,368.52 L487.48,370.52 L485.48,368.52 Z" fill="#2b5091" stroke="#231f20" stroke-width="0.45"/>
<circle cx="502.05" cy="369.78" r="1.5" fill="#bf1430" stroke="#231f20" stroke-width="0.55"/>
<circle cx="499.31" cy="368.52" r="1.5" fill="#bf1430" stroke="#231f20" stroke-width="0.55"/>
<circle cx="498.71" cy="366.00" r="1.5" fill="#bf1430" stroke="#231f20" stroke-width="0.55"/>
<circle cx="499.12" cy="363.98" r="1.5" fill="#bf1430" stroke="#231f20" stroke-width="0.55"/>
<circle cx="497.59" cy="362.22" r="1.5" fill="#bf1430" stroke="#231f20" stroke-width="0.55"/>
<circle cx="502.46" cy="360.96" r="1.5" fill="#bf1430" stroke="#231f20" stroke-width="0.55"/>
<circle cx="499.90" cy="358.94" r="1.5" fill="#bf1430" stroke="#231f20" stroke-width="0.55"/>
<circle cx="503.03" cy="357.18" r="1.5" fill="#bf1430" stroke="#231f20" stroke-width="0.55"/>
<circle cx="499.81" cy="353.40" r="1.5" fill="#bf1430" stroke="#231f20" stroke-width="0.55"/>
<circle cx="503.81" cy="347.10" r="1.5" fill="#bf1430" stroke="#231f20" stroke-width="0.55"/>
<line x1="444.70" y1="333.20" x2="500.60" y2="333.20" stroke="#231f20" stroke-width="0.7" />
<line x1="444.70" y1="333.20" x2="444.70" y2="360.40" stroke="#231f20" stroke-width="0.7" />
<line x1="500.60" y1="333.20" x2="500.60" y2="338.00" stroke="#231f20" stroke-width="0.7" />
<line x1="485.10" y1="343.20" x2="500.60" y2="343.20" stroke="#231f20" stroke-width="0.7" />
<line x1="485.10" y1="343.20" x2="485.10" y2="366.30" stroke="#231f20" stroke-width="0.7" />
<line x1="500.60" y1="343.20" x2="500.60" y2="346.00" stroke="#231f20" stroke-width="0.7" />
<text transform="translate(472.80,331.00)" font-size="4.0" text-anchor="middle" fill="#231f20" font-weight="normal" font-style="normal" textLength="18.50" lengthAdjust="spacingAndGlyphs" stroke="#231f20" stroke-width="0.05" >p=0.0584</text>
<text transform="translate(493.00,342.00)" font-size="4.2" text-anchor="middle" fill="#231f20" font-weight="normal" font-style="normal" stroke="#231f20" stroke-width="0.18" >**</text>
<text transform="translate(418.40,399.90) rotate(-45)" font-size="6.4" text-anchor="end" fill="#231f20" font-weight="normal" font-style="normal" textLength="29.01" lengthAdjust="spacingAndGlyphs" stroke="#231f20" stroke-width="0.18" >Cd19-Cre</text>
<text transform="translate(433.20,399.90) rotate(-45)" font-size="6.4" text-anchor="end" fill="#231f20" font-weight="normal" font-style="normal" textLength="26.26" lengthAdjust="spacingAndGlyphs" stroke="#231f20" stroke-width="0.18" >Eμ-<tspan font-style="italic">TCL1</tspan></text>
<text transform="translate(448.70,399.90) rotate(-45)" font-size="6.4" text-anchor="end" fill="#231f20" font-weight="normal" font-style="normal" textLength="36.75" lengthAdjust="spacingAndGlyphs" stroke="#231f20" stroke-width="0.18" >Eμ-<tspan font-style="italic">TCL1</tspan><tspan font-size="4.0" dy="-2.7">Akt-C</tspan></text>
<text transform="translate(474.00,399.90) rotate(-45)" font-size="6.4" text-anchor="end" fill="#231f20" font-weight="normal" font-style="normal" textLength="29.01" lengthAdjust="spacingAndGlyphs" stroke="#231f20" stroke-width="0.18" >Cd19-Cre</text>
<text transform="translate(489.10,399.90) rotate(-45)" font-size="6.4" text-anchor="end" fill="#231f20" font-weight="normal" font-style="normal" textLength="26.26" lengthAdjust="spacingAndGlyphs" stroke="#231f20" stroke-width="0.18" >Eμ-<tspan font-style="italic">TCL1</tspan></text>
<text transform="translate(504.60,399.90) rotate(-45)" font-size="6.4" text-anchor="end" fill="#231f20" font-weight="normal" font-style="normal" textLength="36.75" lengthAdjust="spacingAndGlyphs" stroke="#231f20" stroke-width="0.18" >Eμ-<tspan font-style="italic">TCL1</tspan><tspan font-size="4.0" dy="-2.7">Akt-C</tspan></text>
<line x1="408.80" y1="430.50" x2="449.60" y2="430.50" stroke="#231f20" stroke-width="0.9" />
<line x1="465.30" y1="430.50" x2="506.20" y2="430.50" stroke="#231f20" stroke-width="0.9" />
<text transform="translate(429.10,437.70)" font-size="6.8" text-anchor="middle" fill="#231f20" font-weight="normal" font-style="normal" textLength="16.80" lengthAdjust="spacingAndGlyphs" stroke="#231f20" stroke-width="0.18" >3-4 m</text>
<text transform="translate(485.70,437.70)" font-size="6.8" text-anchor="middle" fill="#231f20" font-weight="normal" font-style="normal" textLength="16.90" lengthAdjust="spacingAndGlyphs" stroke="#231f20" stroke-width="0.18" >7-8 m</text>
<rect x="217.30" y="491.00" width="13.80" height="10.24" fill="#38654f" stroke="#285a42" stroke-width="0.5" />
<rect x="217.30" y="501.24" width="13.80" height="51.44" fill="#e08e16" stroke="#d08010" stroke-width="0.4" />
<rect x="217.30" y="552.68" width="13.80" height="3.52" fill="#55226e" stroke="#4a1c60" stroke-width="0.4" />
<line x1="224.20" y1="491.00" x2="224.20" y2="488.78" stroke="#111" stroke-width="0.9" />
<line x1="221.20" y1="488.78" x2="227.20" y2="488.78" stroke="#111" stroke-width="1.1" />
<line x1="224.20" y1="501.24" x2="224.20" y2="499.80" stroke="#111" stroke-width="0.9" />
<line x1="221.20" y1="499.80" x2="227.20" y2="499.80" stroke="#111" stroke-width="1.1" />
<line x1="224.20" y1="552.68" x2="224.20" y2="550.66" stroke="#111" stroke-width="0.9" />
<line x1="221.20" y1="550.66" x2="227.20" y2="550.66" stroke="#111" stroke-width="1.1" />
<rect x="234.10" y="491.00" width="13.70" height="13.37" fill="#38654f" stroke="#285a42" stroke-width="0.5" />
<rect x="234.10" y="504.37" width="13.70" height="48.31" fill="#e08e16" stroke="#d08010" stroke-width="0.4" />
<rect x="234.10" y="552.68" width="13.70" height="3.52" fill="#55226e" stroke="#4a1c60" stroke-width="0.4" />
<line x1="240.95" y1="491.00" x2="240.95" y2="486.76" stroke="#111" stroke-width="0.9" />
<line x1="237.95" y1="486.76" x2="243.95" y2="486.76" stroke="#111" stroke-width="1.1" />
<line x1="240.95" y1="504.37" x2="240.95" y2="501.11" stroke="#111" stroke-width="0.9" />
<line x1="237.95" y1="501.11" x2="243.95" y2="501.11" stroke="#111" stroke-width="1.1" />
<line x1="240.95" y1="552.68" x2="240.95" y2="550.01" stroke="#111" stroke-width="0.9" />
<line x1="237.95" y1="550.01" x2="243.95" y2="550.01" stroke="#111" stroke-width="1.1" />
<rect x="251.00" y="491.00" width="13.50" height="33.90" fill="#38654f" stroke="#285a42" stroke-width="0.5" />
<rect x="251.00" y="524.90" width="13.50" height="30.90" fill="#e08e16" stroke="#d08010" stroke-width="0.4" />
<rect x="251.00" y="555.81" width="13.50" height="0.39" fill="#55226e" stroke="#4a1c60" stroke-width="0.4" />
<line x1="257.75" y1="491.00" x2="257.75" y2="489.04" stroke="#111" stroke-width="0.9" />
<line x1="254.75" y1="489.04" x2="260.75" y2="489.04" stroke="#111" stroke-width="1.1" />
<line x1="257.75" y1="524.90" x2="257.75" y2="522.95" stroke="#111" stroke-width="0.9" />
<line x1="254.75" y1="522.95" x2="260.75" y2="522.95" stroke="#111" stroke-width="1.1" />
<line x1="257.75" y1="555.81" x2="257.75" y2="555.42" stroke="#111" stroke-width="0.9" />
<line x1="254.75" y1="555.42" x2="260.75" y2="555.42" stroke="#111" stroke-width="1.1" />
<rect x="267.70" y="491.00" width="13.60" height="12.39" fill="#38654f" stroke="#285a42" stroke-width="0.5" />
<rect x="267.70" y="503.39" width="13.60" height="48.12" fill="#e08e16" stroke="#d08010" stroke-width="0.4" />
<rect x="267.70" y="551.51" width="13.60" height="4.69" fill="#55226e" stroke="#4a1c60" stroke-width="0.4" />
<line x1="274.50" y1="491.00" x2="274.50" y2="488.07" stroke="#111" stroke-width="0.9" />
<line x1="271.50" y1="488.07" x2="277.50" y2="488.07" stroke="#111" stroke-width="1.1" />
<line x1="274.50" y1="503.39" x2="274.50" y2="499.80" stroke="#111" stroke-width="0.9" />
<line x1="271.50" y1="499.80" x2="277.50" y2="499.80" stroke="#111" stroke-width="1.1" />
<line x1="274.50" y1="551.51" x2="274.50" y2="549.03" stroke="#111" stroke-width="0.9" />
<line x1="271.50" y1="549.03" x2="277.50" y2="549.03" stroke="#111" stroke-width="1.1" />
<rect x="284.40" y="491.00" width="13.60" height="25.10" fill="#38654f" stroke="#285a42" stroke-width="0.5" />
<rect x="284.40" y="516.10" width="13.60" height="39.32" fill="#e08e16" stroke="#d08010" stroke-width="0.4" />
<rect x="284.40" y="555.42" width="13.60" height="0.78" fill="#55226e" stroke="#4a1c60" stroke-width="0.4" />
<line x1="291.20" y1="491.00" x2="291.20" y2="485.46" stroke="#111" stroke-width="0.9" />
<line x1="288.20" y1="485.46" x2="294.20" y2="485.46" stroke="#111" stroke-width="1.1" />
<line x1="291.20" y1="516.10" x2="291.20" y2="510.89" stroke="#111" stroke-width="0.9" />
<line x1="288.20" y1="510.89" x2="294.20" y2="510.89" stroke="#111" stroke-width="1.1" />
<line x1="291.20" y1="555.42" x2="291.20" y2="554.11" stroke="#111" stroke-width="0.9" />
<line x1="288.20" y1="554.11" x2="294.20" y2="554.11" stroke="#111" stroke-width="1.1" />
<rect x="301.10" y="491.00" width="13.60" height="49.55" fill="#38654f" stroke="#285a42" stroke-width="0.5" />
<rect x="301.10" y="540.55" width="13.60" height="15.26" fill="#e08e16" stroke="#d08010" stroke-width="0.4" />
<rect x="301.10" y="555.81" width="13.60" height="0.39" fill="#55226e" stroke="#4a1c60" stroke-width="0.4" />
<line x1="307.90" y1="491.00" x2="307.90" y2="488.39" stroke="#111" stroke-width="0.9" />
<line x1="304.90" y1="488.39" x2="310.90" y2="488.39" stroke="#111" stroke-width="1.1" />
<line x1="307.90" y1="540.55" x2="307.90" y2="537.62" stroke="#111" stroke-width="0.9" />
<line x1="304.90" y1="537.62" x2="310.90" y2="537.62" stroke="#111" stroke-width="1.1" />
<line x1="307.90" y1="555.81" x2="307.90" y2="555.42" stroke="#111" stroke-width="0.9" />
<line x1="304.90" y1="555.42" x2="310.90" y2="555.42" stroke="#111" stroke-width="1.1" />
<line x1="214.70" y1="478.00" x2="214.70" y2="556.60" stroke="#231f20" stroke-width="1.1" />
<line x1="214.30" y1="556.20" x2="318.00" y2="556.20" stroke="#231f20" stroke-width="1.1" />
<line x1="212.00" y1="556.20" x2="214.70" y2="556.20" stroke="#231f20" stroke-width="0.8" />
<text transform="translate(209.00,558.40)" font-size="7.0" text-anchor="end" fill="#231f20" font-weight="normal" font-style="normal" textLength="3.30" lengthAdjust="spacingAndGlyphs" stroke="#231f20" stroke-width="0.18" >0</text>
<line x1="212.00" y1="523.60" x2="214.70" y2="523.60" stroke="#231f20" stroke-width="0.8" />
<text transform="translate(209.00,525.80)" font-size="7.0" text-anchor="end" fill="#231f20" font-weight="normal" font-style="normal" textLength="6.60" lengthAdjust="spacingAndGlyphs" stroke="#231f20" stroke-width="0.18" >50</text>
<line x1="212.00" y1="491.00" x2="214.70" y2="491.00" stroke="#231f20" stroke-width="0.8" />
<text transform="translate(209.00,493.20)" font-size="7.0" text-anchor="end" fill="#231f20" font-weight="normal" font-style="normal" textLength="10.20" lengthAdjust="spacingAndGlyphs" stroke="#231f20" stroke-width="0.18" >100</text>
<line x1="224.20" y1="556.20" x2="224.20" y2="558.70" stroke="#231f20" stroke-width="0.7" />
<line x1="240.95" y1="556.20" x2="240.95" y2="558.70" stroke="#231f20" stroke-width="0.7" />
<line x1="257.75" y1="556.20" x2="257.75" y2="558.70" stroke="#231f20" stroke-width="0.7" />
<line x1="274.50" y1="556.20" x2="274.50" y2="558.70" stroke="#231f20" stroke-width="0.7" />
<line x1="291.20" y1="556.20" x2="291.20" y2="558.70" stroke="#231f20" stroke-width="0.7" />
<line x1="307.90" y1="556.20" x2="307.90" y2="558.70" stroke="#231f20" stroke-width="0.7" />
<text transform="translate(193.60,517.00) rotate(-90)" font-size="8.2" text-anchor="middle" fill="#231f20" font-weight="normal" font-style="normal" textLength="74.70" lengthAdjust="spacingAndGlyphs" stroke="#231f20" stroke-width="0.18" >Relative level % of B cells</text>
<rect x="193.40" y="469.40" width="7.40" height="3.80" fill="#55226e" stroke="none" stroke-width="0.5" />
<text transform="translate(204.20,473.10)" font-size="6.6" text-anchor="start" fill="#231f20" font-weight="normal" font-style="normal" textLength="26.10" lengthAdjust="spacingAndGlyphs" stroke="#231f20" stroke-width="0.18" >low Ki-67</text>
<rect x="239.60" y="469.40" width="7.40" height="3.80" fill="#e08e16" stroke="none" stroke-width="0.5" />
<text transform="translate(249.60,473.10)" font-size="6.6" text-anchor="start" fill="#231f20" font-weight="normal" font-style="normal" textLength="40.40" lengthAdjust="spacingAndGlyphs" stroke="#231f20" stroke-width="0.18" >medium Ki-67</text>
<rect x="299.60" y="469.40" width="7.40" height="3.80" fill="#38654f" stroke="none" stroke-width="0.5" />
<text transform="translate(309.60,473.10)" font-size="6.6" text-anchor="start" fill="#231f20" font-weight="normal" font-style="normal" textLength="28.80" lengthAdjust="spacingAndGlyphs" stroke="#231f20" stroke-width="0.18" >high Ki-67</text>
<text transform="translate(228.20,564.80) rotate(-45)" font-size="6.4" text-anchor="end" fill="#231f20" font-weight="normal" font-style="normal" textLength="29.01" lengthAdjust="spacingAndGlyphs" stroke="#231f20" stroke-width="0.18" >Cd19-Cre</text>
<text transform="translate(244.95,564.80) rotate(-45)" font-size="6.4" text-anchor="end" fill="#231f20" font-weight="normal" font-style="normal" textLength="26.26" lengthAdjust="spacingAndGlyphs" stroke="#231f20" stroke-width="0.18" >Eμ-<tspan font-style="italic">TCL1</tspan></text>
<text transform="translate(261.75,564.80) rotate(-45)" font-size="6.4" text-anchor="end" fill="#231f20" font-weight="normal" font-style="normal" textLength="36.75" lengthAdjust="spacingAndGlyphs" stroke="#231f20" stroke-width="0.18" >Eμ-<tspan font-style="italic">TCL1</tspan><tspan font-size="4.0" dy="-2.7">Akt-C</tspan></text>
<text transform="translate(278.50,564.80) rotate(-45)" font-size="6.4" text-anchor="end" fill="#231f20" font-weight="normal" font-style="normal" textLength="29.01" lengthAdjust="spacingAndGlyphs" stroke="#231f20" stroke-width="0.18" >Cd19-Cre</text>
<text transform="translate(295.20,564.80) rotate(-45)" font-size="6.4" text-anchor="end" fill="#231f20" font-weight="normal" font-style="normal" textLength="26.26" lengthAdjust="spacingAndGlyphs" stroke="#231f20" stroke-width="0.18" >Eμ-<tspan font-style="italic">TCL1</tspan></text>
<text transform="translate(311.90,564.80) rotate(-45)" font-size="6.4" text-anchor="end" fill="#231f20" font-weight="normal" font-style="normal" textLength="36.75" lengthAdjust="spacingAndGlyphs" stroke="#231f20" stroke-width="0.18" >Eμ-<tspan font-style="italic">TCL1</tspan><tspan font-size="4.0" dy="-2.7">Akt-C</tspan></text>
<line x1="217.40" y1="595.60" x2="262.50" y2="595.60" stroke="#231f20" stroke-width="0.9" />
<line x1="267.50" y1="595.60" x2="313.00" y2="595.60" stroke="#231f20" stroke-width="0.9" />
<text transform="translate(240.00,604.50)" font-size="6.8" text-anchor="middle" fill="#231f20" font-weight="normal" font-style="normal" textLength="16.80" lengthAdjust="spacingAndGlyphs" stroke="#231f20" stroke-width="0.18" >3-4 m</text>
<text transform="translate(290.00,604.50)" font-size="6.8" text-anchor="middle" fill="#231f20" font-weight="normal" font-style="normal" textLength="16.90" lengthAdjust="spacingAndGlyphs" stroke="#231f20" stroke-width="0.18" >7-8 m</text>
<line x1="406.20" y1="480.10" x2="406.20" y2="556.50" stroke="#231f20" stroke-width="1.1" />
<line x1="405.80" y1="556.10" x2="512.50" y2="556.10" stroke="#231f20" stroke-width="1.1" />
<line x1="403.60" y1="556.10" x2="406.20" y2="556.10" stroke="#231f20" stroke-width="0.8" />
<text transform="translate(401.10,558.30)" font-size="6.6" text-anchor="end" fill="#231f20" font-weight="normal" font-style="normal" textLength="3.60" lengthAdjust="spacingAndGlyphs" stroke="#231f20" stroke-width="0.18" >0</text>
<line x1="403.60" y1="537.58" x2="406.20" y2="537.58" stroke="#231f20" stroke-width="0.8" />
<text transform="translate(401.10,539.78)" font-size="6.6" text-anchor="end" fill="#231f20" font-weight="normal" font-style="normal" textLength="14.30" lengthAdjust="spacingAndGlyphs" stroke="#231f20" stroke-width="0.18" >1000</text>
<line x1="403.60" y1="519.06" x2="406.20" y2="519.06" stroke="#231f20" stroke-width="0.8" />
<text transform="translate(401.10,521.26)" font-size="6.6" text-anchor="end" fill="#231f20" font-weight="normal" font-style="normal" textLength="14.30" lengthAdjust="spacingAndGlyphs" stroke="#231f20" stroke-width="0.18" >2000</text>
<line x1="403.60" y1="500.54" x2="406.20" y2="500.54" stroke="#231f20" stroke-width="0.8" />
<text transform="translate(401.10,502.74)" font-size="6.6" text-anchor="end" fill="#231f20" font-weight="normal" font-style="normal" textLength="14.30" lengthAdjust="spacingAndGlyphs" stroke="#231f20" stroke-width="0.18" >3000</text>
<line x1="403.60" y1="482.02" x2="406.20" y2="482.02" stroke="#231f20" stroke-width="0.8" />
<text transform="translate(401.10,484.22)" font-size="6.6" text-anchor="end" fill="#231f20" font-weight="normal" font-style="normal" textLength="14.30" lengthAdjust="spacingAndGlyphs" stroke="#231f20" stroke-width="0.18" >4000</text>
<line x1="414.50" y1="556.10" x2="414.50" y2="558.60" stroke="#231f20" stroke-width="0.7" />
<line x1="430.60" y1="556.10" x2="430.60" y2="558.60" stroke="#231f20" stroke-width="0.7" />
<line x1="447.30" y1="556.10" x2="447.30" y2="558.60" stroke="#231f20" stroke-width="0.7" />
<line x1="474.20" y1="556.10" x2="474.20" y2="558.60" stroke="#231f20" stroke-width="0.7" />
<line x1="490.40" y1="556.10" x2="490.40" y2="558.60" stroke="#231f20" stroke-width="0.7" />
<line x1="507.10" y1="556.10" x2="507.10" y2="558.60" stroke="#231f20" stroke-width="0.7" />
<text transform="translate(381.60,518.30) rotate(-90)" font-size="8.4" text-anchor="middle" fill="#231f20" font-weight="normal" font-style="normal" textLength="27.00" lengthAdjust="spacingAndGlyphs" stroke="#231f20" stroke-width="0.18" >LDH [U/l]</text>
<line x1="414.50" y1="546.47" x2="414.50" y2="547.40" stroke="#231f20" stroke-width="0.6" />
<line x1="414.50" y1="549.25" x2="414.50" y2="549.99" stroke="#231f20" stroke-width="0.6" />
<rect x="414.49" y="547.40" width="0.02" height="1.85" fill="#fff" stroke="#231f20" stroke-width="0.6" />
<line x1="414.49" y1="548.32" x2="414.51" y2="548.32" stroke="#231f20" stroke-width="0.6" />
<line x1="430.60" y1="539.43" x2="430.60" y2="540.73" stroke="#231f20" stroke-width="0.6" />
<line x1="430.60" y1="548.32" x2="430.60" y2="548.69" stroke="#231f20" stroke-width="0.6" />
<rect x="425.10" y="540.73" width="11.00" height="7.59" fill="#fff" stroke="#231f20" stroke-width="0.6" />
<line x1="425.10" y1="547.40" x2="436.10" y2="547.40" stroke="#231f20" stroke-width="0.6" />
<line x1="447.30" y1="539.80" x2="447.30" y2="540.91" stroke="#231f20" stroke-width="0.6" />
<line x1="447.30" y1="549.62" x2="447.30" y2="550.54" stroke="#231f20" stroke-width="0.6" />
<rect x="441.80" y="540.91" width="11.00" height="8.70" fill="#fff" stroke="#231f20" stroke-width="0.6" />
<line x1="441.80" y1="546.84" x2="452.80" y2="546.84" stroke="#231f20" stroke-width="0.6" />
<line x1="474.20" y1="546.47" x2="474.20" y2="547.21" stroke="#231f20" stroke-width="0.6" />
<line x1="474.20" y1="548.69" x2="474.20" y2="549.25" stroke="#231f20" stroke-width="0.6" />
<rect x="474.19" y="547.21" width="0.02" height="1.48" fill="#fff" stroke="#231f20" stroke-width="0.6" />
<line x1="474.19" y1="547.95" x2="474.21" y2="547.95" stroke="#231f20" stroke-width="0.6" />
<line x1="490.40" y1="539.43" x2="490.40" y2="542.77" stroke="#231f20" stroke-width="0.6" />
<line x1="490.40" y1="549.62" x2="490.40" y2="551.47" stroke="#231f20" stroke-width="0.6" />
<rect x="484.90" y="542.77" width="11.00" height="6.85" fill="#fff" stroke="#231f20" stroke-width="0.6" />
<line x1="484.90" y1="546.84" x2="495.90" y2="546.84" stroke="#231f20" stroke-width="0.6" />
<line x1="506.95" y1="501.47" x2="506.95" y2="520.20" stroke="#231f20" stroke-width="0.6" />
<line x1="506.95" y1="542.40" x2="506.95" y2="545.36" stroke="#231f20" stroke-width="0.6" />
<rect x="501.30" y="520.20" width="11.30" height="22.20" fill="#fff" stroke="#231f20" stroke-width="0.6" />
<line x1="501.30" y1="533.20" x2="512.60" y2="533.20" stroke="#231f20" stroke-width="0.6" />
<circle cx="411.82" cy="549.80" r="1.5" fill="#aea6de" stroke="#231f20" stroke-width="0.55"/>
<circle cx="416.02" cy="549.06" r="1.5" fill="#aea6de" stroke="#231f20" stroke-width="0.55"/>
<circle cx="415.58" cy="548.69" r="1.5" fill="#aea6de" stroke="#231f20" stroke-width="0.55"/>
<circle cx="414.33" cy="548.32" r="1.5" fill="#aea6de" stroke="#231f20" stroke-width="0.55"/>
<circle cx="412.23" cy="547.95" r="1.5" fill="#aea6de" stroke="#231f20" stroke-width="0.55"/>
<circle cx="416.84" cy="547.40" r="1.5" fill="#aea6de" stroke="#231f20" stroke-width="0.55"/>
<circle cx="416.96" cy="546.84" r="1.5" fill="#aea6de" stroke="#231f20" stroke-width="0.55"/>
<circle cx="414.60" cy="548.32" r="1.5" fill="#aea6de" stroke="#231f20" stroke-width="0.55"/>
<circle cx="426.50" cy="548.14" r="1.6" fill="#2b5091" stroke="#231f20" stroke-width="0.45"/>
<circle cx="431.00" cy="548.69" r="1.6" fill="#2b5091" stroke="#231f20" stroke-width="0.45"/>
<circle cx="435.00" cy="548.14" r="1.6" fill="#2b5091" stroke="#231f20" stroke-width="0.45"/>
<circle cx="428.00" cy="539.80" r="1.6" fill="#2b5091" stroke="#231f20" stroke-width="0.45"/>
<circle cx="433.50" cy="541.28" r="1.6" fill="#2b5091" stroke="#231f20" stroke-width="0.45"/>
<circle cx="426.00" cy="544.06" r="1.6" fill="#2b5091" stroke="#231f20" stroke-width="0.45"/>
<circle cx="446.00" cy="550.54" r="1.6" fill="#bf1430" stroke="#231f20" stroke-width="0.45"/>
<circle cx="450.50" cy="547.77" r="1.6" fill="#bf1430" stroke="#231f20" stroke-width="0.45"/>
<circle cx="444.00" cy="544.06" r="1.6" fill="#bf1430" stroke="#231f20" stroke-width="0.45"/>
<circle cx="448.00" cy="539.80" r="1.6" fill="#bf1430" stroke="#231f20" stroke-width="0.45"/>
<circle cx="474.24" cy="549.06" r="1.5" fill="#aea6de" stroke="#231f20" stroke-width="0.55"/>
<circle cx="472.35" cy="548.69" r="1.5" fill="#aea6de" stroke="#231f20" stroke-width="0.55"/>
<circle cx="470.72" cy="548.14" r="1.5" fill="#aea6de" stroke="#231f20" stroke-width="0.55"/>
<circle cx="473.30" cy="547.58" r="1.5" fill="#aea6de" stroke="#231f20" stroke-width="0.55"/>
<circle cx="474.80" cy="547.21" r="1.5" fill="#aea6de" stroke="#231f20" stroke-width="0.55"/>
<circle cx="471.18" cy="546.47" r="1.5" fill="#aea6de" stroke="#231f20" stroke-width="0.55"/>
<circle cx="493.04" cy="551.47" r="1.5" fill="#2b5091" stroke="#231f20" stroke-width="0.55"/>
<circle cx="487.99" cy="550.54" r="1.5" fill="#2b5091" stroke="#231f20" stroke-width="0.55"/>
<circle cx="487.99" cy="549.62" r="1.5" fill="#2b5091" stroke="#231f20" stroke-width="0.55"/>
<circle cx="486.28" cy="548.69" r="1.5" fill="#2b5091" stroke="#231f20" stroke-width="0.55"/>
<circle cx="494.88" cy="548.14" r="1.5" fill="#2b5091" stroke="#231f20" stroke-width="0.55"/>
<circle cx="492.55" cy="547.21" r="1.5" fill="#2b5091" stroke="#231f20" stroke-width="0.55"/>
<circle cx="493.78" cy="546.47" r="1.5" fill="#2b5091" stroke="#231f20" stroke-width="0.55"/>
<circle cx="491.44" cy="545.73" r="1.5" fill="#2b5091" stroke="#231f20" stroke-width="0.55"/>
<circle cx="486.21" cy="544.99" r="1.5" fill="#2b5091" stroke="#231f20" stroke-width="0.55"/>
<circle cx="488.86" cy="544.06" r="1.5" fill="#2b5091" stroke="#231f20" stroke-width="0.55"/>
<circle cx="490.38" cy="542.77" r="1.5" fill="#2b5091" stroke="#231f20" stroke-width="0.55"/>
<circle cx="486.94" cy="541.28" r="1.5" fill="#2b5091" stroke="#231f20" stroke-width="0.55"/>
<circle cx="494.47" cy="539.80" r="1.5" fill="#2b5091" stroke="#231f20" stroke-width="0.55"/>
<circle cx="506.80" cy="501.70" r="1.5" fill="#bf1430" stroke="#231f20" stroke-width="0.55"/>
<circle cx="506.80" cy="515.00" r="1.5" fill="#bf1430" stroke="#231f20" stroke-width="0.55"/>
<circle cx="506.80" cy="524.00" r="1.5" fill="#bf1430" stroke="#231f20" stroke-width="0.55"/>
<circle cx="505.00" cy="533.20" r="1.5" fill="#bf1430" stroke="#231f20" stroke-width="0.55"/>
<circle cx="508.50" cy="533.20" r="1.5" fill="#bf1430" stroke="#231f20" stroke-width="0.55"/>
<circle cx="506.80" cy="537.50" r="1.5" fill="#bf1430" stroke="#231f20" stroke-width="0.55"/>
<circle cx="503.60" cy="543.30" r="1.5" fill="#bf1430" stroke="#231f20" stroke-width="0.55"/>
<circle cx="510.00" cy="543.30" r="1.5" fill="#bf1430" stroke="#231f20" stroke-width="0.55"/>
<circle cx="506.80" cy="546.20" r="1.5" fill="#bf1430" stroke="#231f20" stroke-width="0.55"/>
<line x1="447.30" y1="483.60" x2="507.10" y2="483.60" stroke="#231f20" stroke-width="0.6" />
<line x1="447.30" y1="483.60" x2="447.30" y2="530.20" stroke="#231f20" stroke-width="0.6" />
<line x1="507.10" y1="483.60" x2="507.10" y2="493.80" stroke="#231f20" stroke-width="0.6" />
<line x1="490.40" y1="489.80" x2="507.10" y2="489.80" stroke="#231f20" stroke-width="0.6" />
<line x1="490.40" y1="489.80" x2="490.40" y2="531.50" stroke="#231f20" stroke-width="0.6" />
<text transform="translate(475.60,482.60)" font-size="4.2" text-anchor="middle" fill="#231f20" font-weight="normal" font-style="normal" stroke="#231f20" stroke-width="0.18" >*</text>
<text transform="translate(498.50,488.60)" font-size="4.2" text-anchor="middle" fill="#231f20" font-weight="normal" font-style="normal" stroke="#231f20" stroke-width="0.18" >**</text>
<text transform="translate(418.50,564.70) rotate(-45)" font-size="6.4" text-anchor="end" fill="#231f20" font-weight="normal" font-style="normal" textLength="29.01" lengthAdjust="spacingAndGlyphs" stroke="#231f20" stroke-width="0.18" >Cd19-Cre</text>
<text transform="translate(434.60,564.70) rotate(-45)" font-size="6.4" text-anchor="end" fill="#231f20" font-weight="normal" font-style="normal" textLength="26.26" lengthAdjust="spacingAndGlyphs" stroke="#231f20" stroke-width="0.18" >Eμ-<tspan font-style="italic">TCL1</tspan></text>
<text transform="translate(451.30,564.70) rotate(-45)" font-size="6.4" text-anchor="end" fill="#231f20" font-weight="normal" font-style="normal" textLength="36.75" lengthAdjust="spacingAndGlyphs" stroke="#231f20" stroke-width="0.18" >Eμ-<tspan font-style="italic">TCL1</tspan><tspan font-size="4.0" dy="-2.7">Akt-C</tspan></text>
<text transform="translate(478.20,564.70) rotate(-45)" font-size="6.4" text-anchor="end" fill="#231f20" font-weight="normal" font-style="normal" textLength="29.01" lengthAdjust="spacingAndGlyphs" stroke="#231f20" stroke-width="0.18" >Cd19-Cre</text>
<text transform="translate(494.40,564.70) rotate(-45)" font-size="6.4" text-anchor="end" fill="#231f20" font-weight="normal" font-style="normal" textLength="26.26" lengthAdjust="spacingAndGlyphs" stroke="#231f20" stroke-width="0.18" >Eμ-<tspan font-style="italic">TCL1</tspan></text>
<text transform="translate(511.10,564.70) rotate(-45)" font-size="6.4" text-anchor="end" fill="#231f20" font-weight="normal" font-style="normal" textLength="36.75" lengthAdjust="spacingAndGlyphs" stroke="#231f20" stroke-width="0.18" >Eμ-<tspan font-style="italic">TCL1</tspan><tspan font-size="4.0" dy="-2.7">Akt-C</tspan></text>
<line x1="410.40" y1="595.40" x2="454.20" y2="595.40" stroke="#231f20" stroke-width="0.9" />
<line x1="469.70" y1="595.40" x2="513.10" y2="595.40" stroke="#231f20" stroke-width="0.9" />
<text transform="translate(432.10,604.60)" font-size="6.8" text-anchor="middle" fill="#231f20" font-weight="normal" font-style="normal" textLength="16.80" lengthAdjust="spacingAndGlyphs" stroke="#231f20" stroke-width="0.18" >3-4 m</text>
<text transform="translate(491.20,604.60)" font-size="6.8" text-anchor="middle" fill="#231f20" font-weight="normal" font-style="normal" textLength="16.90" lengthAdjust="spacingAndGlyphs" stroke="#231f20" stroke-width="0.18" >7-8 m</text><rect x="0.5" y="0.5" width="518.8" height="613.8" fill="none" stroke="#000" stroke-width="1.3"/></svg></body></html>
